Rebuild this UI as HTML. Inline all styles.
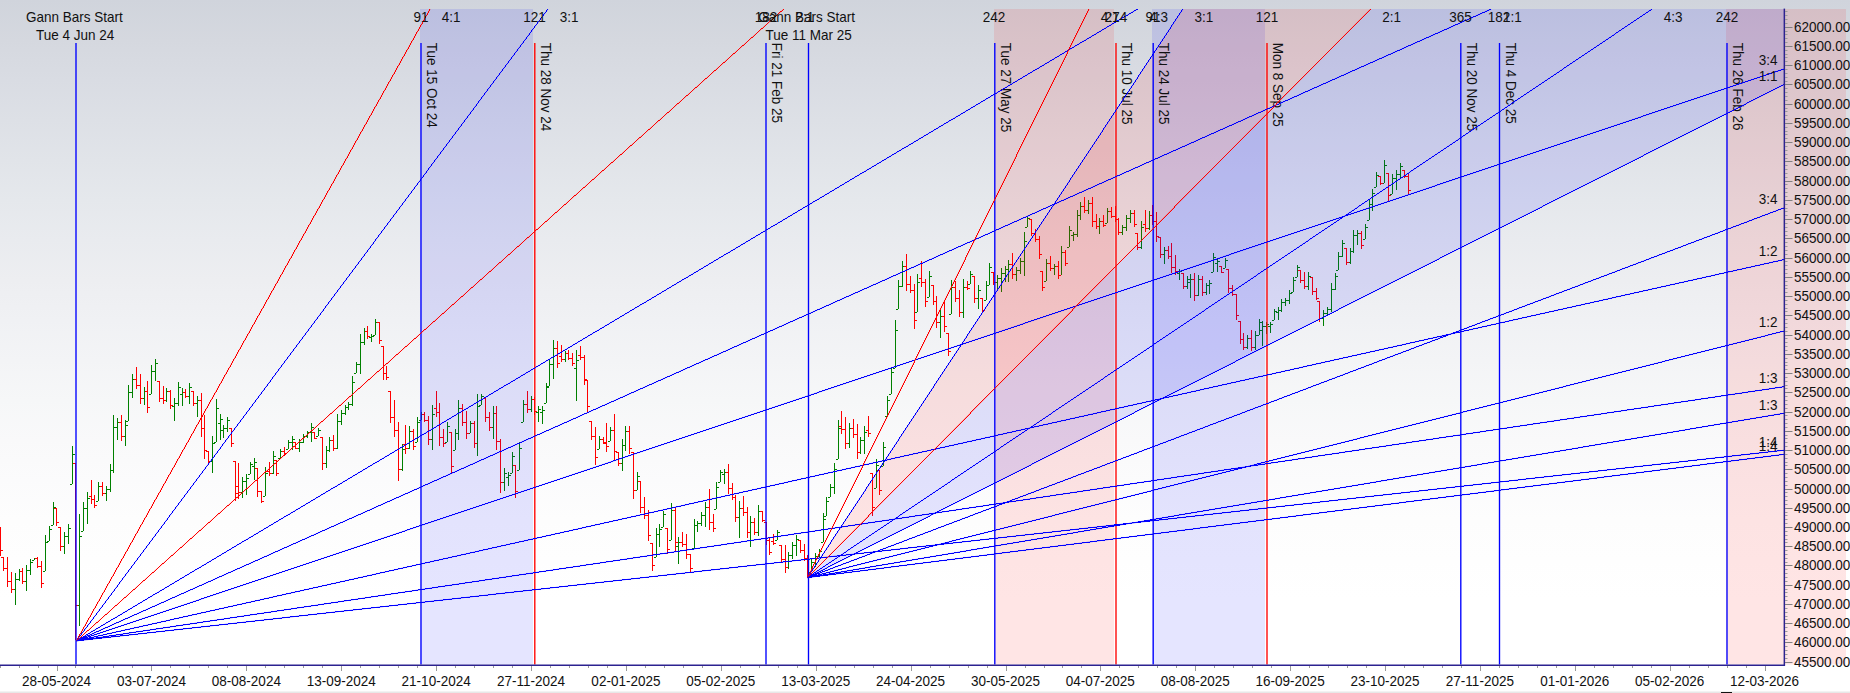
<!DOCTYPE html>
<html><head><meta charset="utf-8"><title>Gann chart</title>
<style>html,body{margin:0;padding:0;background:#fff;overflow:hidden}svg{display:block}</style>
</head><body>
<svg width="1850" height="693" viewBox="0 0 1850 693" font-family='"Liberation Sans", Arial, sans-serif' font-size="14" fill="#111">
<defs><linearGradient id="bg" x1="0" y1="0" x2="0" y2="1"><stop offset="0.0000" stop-color="rgb(208,212,220)"/><stop offset="0.0577" stop-color="rgb(213,216,223)"/><stop offset="0.1154" stop-color="rgb(217,220,227)"/><stop offset="0.1732" stop-color="rgb(221,224,230)"/><stop offset="0.2309" stop-color="rgb(225,228,233)"/><stop offset="0.2886" stop-color="rgb(229,232,236)"/><stop offset="0.3463" stop-color="rgb(233,235,239)"/><stop offset="0.4040" stop-color="rgb(237,238,241)"/><stop offset="0.4618" stop-color="rgb(240,241,244)"/><stop offset="0.5195" stop-color="rgb(243,244,246)"/><stop offset="0.5772" stop-color="rgb(246,247,248)"/><stop offset="0.6349" stop-color="rgb(249,249,250)"/><stop offset="0.6926" stop-color="rgb(251,251,252)"/><stop offset="0.7504" stop-color="rgb(253,253,253)"/><stop offset="0.8081" stop-color="rgb(254,254,254)"/><stop offset="0.8658" stop-color="rgb(255,255,255)"/><stop offset="1" stop-color="#ffffff"/></linearGradient><clipPath id="pc"><rect x="0" y="9" width="1784.5" height="655.5"/></clipPath></defs>
<rect x="0" y="0" width="1850" height="693" fill="url(#bg)"/>
<rect x="0" y="691.5" width="1850" height="1.5" fill="#e8e8e8"/>
<g shape-rendering="crispEdges"><path fill="#008000" d="M15 573h1v32h-1z M13 589h2v1h-2z M16 579h2v1h-2z M19 569h1v12h-1z M17 579h2v1h-2z M20 571h2v1h-2z M26 565h1v26h-1z M24 581h2v1h-2z M27 570h2v1h-2z M30 559h1v16h-1z M28 570h2v1h-2z M31 562h2v1h-2z M34 558h1v2h-1z M32 560h2v1h-2z M35 558h2v1h-2z M45 535h1v36h-1z M43 571h2v1h-2z M46 542h2v1h-2z M49 526h1v15h-1z M47 541h2v1h-2z M50 529h2v1h-2z M53 502h1v23h-1z M51 525h2v1h-2z M54 507h2v1h-2z M64 532h1v22h-1z M62 546h2v1h-2z M65 536h2v1h-2z M68 524h1v20h-1z M66 536h2v1h-2z M69 528h2v1h-2z M72 446h1v38h-1z M70 484h2v1h-2z M73 454h2v1h-2z M79 514h1v112h-1z M77 605h2v1h-2z M80 536h2v1h-2z M83 502h1v29h-1z M81 531h2v1h-2z M84 508h2v1h-2z M87 492h1v32h-1z M85 508h2v1h-2z M88 498h2v1h-2z M98 482h1v19h-1z M96 501h2v1h-2z M99 486h2v1h-2z M106 486h1v15h-1z M104 493h2v1h-2z M107 489h2v1h-2z M110 464h1v28h-1z M108 489h2v1h-2z M111 470h2v1h-2z M113 415h1v58h-1z M111 470h2v1h-2z M114 427h2v1h-2z M117 418h1v22h-1z M115 427h2v1h-2z M118 422h2v1h-2z M125 420h1v26h-1z M123 436h2v1h-2z M126 425h2v1h-2z M128 385h1v36h-1z M126 421h2v1h-2z M129 392h2v1h-2z M132 374h1v24h-1z M130 392h2v1h-2z M133 379h2v1h-2z M144 387h1v18h-1z M142 398h2v1h-2z M145 391h2v1h-2z M151 365h1v29h-1z M149 394h2v1h-2z M152 371h2v1h-2z M155 359h1v22h-1z M153 371h2v1h-2z M156 363h2v1h-2z M166 388h1v14h-1z M164 400h2v1h-2z M167 391h2v1h-2z M174 398h1v23h-1z M172 406h2v1h-2z M175 403h2v1h-2z M178 382h1v24h-1z M176 403h2v1h-2z M179 387h2v1h-2z M182 388h1v18h-1z M180 394h2v1h-2z M183 392h2v1h-2z M189 383h1v21h-1z M187 396h2v1h-2z M190 387h2v1h-2z M197 396h1v21h-1z M195 403h2v1h-2z M198 400h2v1h-2z M212 436h1v37h-1z M210 461h2v1h-2z M213 443h2v1h-2z M216 399h1v43h-1z M214 442h2v1h-2z M217 408h2v1h-2z M220 414h1v26h-1z M218 423h2v1h-2z M221 419h2v1h-2z M223 425h1v13h-1z M221 430h2v1h-2z M224 428h2v1h-2z M227 417h1v15h-1z M225 428h2v1h-2z M228 420h2v1h-2z M242 477h1v21h-1z M240 492h2v1h-2z M243 481h2v1h-2z M246 474h1v21h-1z M244 481h2v1h-2z M247 478h2v1h-2z M250 462h1v12h-1z M248 474h2v1h-2z M251 464h2v1h-2z M254 458h1v22h-1z M252 466h2v1h-2z M255 462h2v1h-2z M265 467h1v29h-1z M263 496h2v1h-2z M266 473h2v1h-2z M273 451h1v23h-1z M271 473h2v1h-2z M274 456h2v1h-2z M280 449h1v9h-1z M278 458h2v1h-2z M281 451h2v1h-2z M288 440h1v9h-1z M286 449h2v1h-2z M289 442h2v1h-2z M292 436h1v14h-1z M290 442h2v1h-2z M293 439h2v1h-2z M299 439h1v13h-1z M297 448h2v1h-2z M300 442h2v1h-2z M303 434h1v9h-1z M301 442h2v1h-2z M304 436h2v1h-2z M307 431h1v7h-1z M305 436h2v1h-2z M308 432h2v1h-2z M311 423h1v19h-1z M309 432h2v1h-2z M312 427h2v1h-2z M318 428h1v8h-1z M316 436h2v1h-2z M319 430h2v1h-2z M326 446h1v22h-1z M324 463h2v1h-2z M327 450h2v1h-2z M329 437h1v15h-1z M327 450h2v1h-2z M330 440h2v1h-2z M337 414h1v35h-1z M335 448h2v1h-2z M338 421h2v1h-2z M341 410h1v15h-1z M339 421h2v1h-2z M342 413h2v1h-2z M345 405h1v10h-1z M343 413h2v1h-2z M346 407h2v1h-2z M348 402h1v8h-1z M346 407h2v1h-2z M349 404h2v1h-2z M352 376h1v30h-1z M350 404h2v1h-2z M353 382h2v1h-2z M356 362h1v11h-1z M354 373h2v1h-2z M357 364h2v1h-2z M360 334h1v40h-1z M358 364h2v1h-2z M361 342h2v1h-2z M364 328h1v17h-1z M362 342h2v1h-2z M365 331h2v1h-2z M371 334h1v8h-1z M369 337h2v1h-2z M372 336h2v1h-2z M375 319h1v16h-1z M373 335h2v1h-2z M376 322h2v1h-2z M402 444h1v27h-1z M400 469h2v1h-2z M403 449h2v1h-2z M409 426h1v23h-1z M407 448h2v1h-2z M410 431h2v1h-2z M417 417h1v25h-1z M415 442h2v1h-2z M418 422h2v1h-2z M421 412h1v8h-1z M419 420h2v1h-2z M422 414h2v1h-2z M432 405h1v45h-1z M430 439h2v1h-2z M433 414h2v1h-2z M447 422h1v20h-1z M445 442h2v1h-2z M448 426h2v1h-2z M455 429h1v21h-1z M453 450h2v1h-2z M456 433h2v1h-2z M458 400h1v40h-1z M456 433h2v1h-2z M459 408h2v1h-2z M470 421h1v12h-1z M468 433h2v1h-2z M471 423h2v1h-2z M477 394h1v62h-1z M475 443h2v1h-2z M478 406h2v1h-2z M481 394h1v11h-1z M479 405h2v1h-2z M482 396h2v1h-2z M493 406h1v33h-1z M491 427h2v1h-2z M494 413h2v1h-2z M504 468h1v23h-1z M502 482h2v1h-2z M505 473h2v1h-2z M508 472h1v14h-1z M506 477h2v1h-2z M509 475h2v1h-2z M512 452h1v21h-1z M510 473h2v1h-2z M513 456h2v1h-2z M519 442h1v28h-1z M517 470h2v1h-2z M520 448h2v1h-2z M523 400h1v22h-1z M521 422h2v1h-2z M524 404h2v1h-2z M531 396h1v16h-1z M529 409h2v1h-2z M532 399h2v1h-2z M538 406h1v16h-1z M536 412h2v1h-2z M539 409h2v1h-2z M542 406h1v18h-1z M540 412h2v1h-2z M543 410h2v1h-2z M546 383h1v20h-1z M544 403h2v1h-2z M547 387h2v1h-2z M549 359h1v27h-1z M547 386h2v1h-2z M550 364h2v1h-2z M553 340h1v39h-1z M551 364h2v1h-2z M554 348h2v1h-2z M565 351h1v11h-1z M563 359h2v1h-2z M566 353h2v1h-2z M576 350h1v51h-1z M574 368h2v1h-2z M577 360h2v1h-2z M599 436h1v13h-1z M597 449h2v1h-2z M600 439h2v1h-2z M610 427h1v14h-1z M608 441h2v1h-2z M611 430h2v1h-2z M622 439h1v32h-1z M620 463h2v1h-2z M623 445h2v1h-2z M625 426h1v25h-1z M623 445h2v1h-2z M626 431h2v1h-2z M637 472h1v18h-1z M635 490h2v1h-2z M638 476h2v1h-2z M656 528h1v29h-1z M654 557h2v1h-2z M657 534h2v1h-2z M659 524h1v23h-1z M657 534h2v1h-2z M660 529h2v1h-2z M663 511h1v16h-1z M661 527h2v1h-2z M664 514h2v1h-2z M671 503h1v37h-1z M669 540h2v1h-2z M672 510h2v1h-2z M678 537h1v27h-1z M676 546h2v1h-2z M679 542h2v1h-2z M694 519h1v29h-1z M692 548h2v1h-2z M695 525h2v1h-2z M697 521h1v11h-1z M695 525h2v1h-2z M698 523h2v1h-2z M701 512h1v14h-1z M699 523h2v1h-2z M702 515h2v1h-2z M705 502h1v25h-1z M703 515h2v1h-2z M706 507h2v1h-2z M716 482h1v27h-1z M714 509h2v1h-2z M717 487h2v1h-2z M720 470h1v12h-1z M718 482h2v1h-2z M721 472h2v1h-2z M724 469h1v15h-1z M722 474h2v1h-2z M725 472h2v1h-2z M739 501h1v37h-1z M737 517h2v1h-2z M740 508h2v1h-2z M750 516h1v31h-1z M748 532h2v1h-2z M751 522h2v1h-2z M758 505h1v31h-1z M756 532h2v1h-2z M759 511h2v1h-2z M777 530h1v10h-1z M775 540h2v1h-2z M778 532h2v1h-2z M788 552h1v17h-1z M786 567h2v1h-2z M789 555h2v1h-2z M792 542h1v17h-1z M790 555h2v1h-2z M793 545h2v1h-2z M796 535h1v21h-1z M794 545h2v1h-2z M797 539h2v1h-2z M811 559h1v13h-1z M809 572h2v1h-2z M812 562h2v1h-2z M815 553h1v14h-1z M813 562h2v1h-2z M816 556h2v1h-2z M819 549h1v9h-1z M817 556h2v1h-2z M820 551h2v1h-2z M823 513h1v29h-1z M821 542h2v1h-2z M824 519h2v1h-2z M826 497h1v19h-1z M824 516h2v1h-2z M827 501h2v1h-2z M830 484h1v13h-1z M828 497h2v1h-2z M831 487h2v1h-2z M834 463h1v31h-1z M832 487h2v1h-2z M835 469h2v1h-2z M838 420h1v39h-1z M836 459h2v1h-2z M839 428h2v1h-2z M849 423h1v25h-1z M847 443h2v1h-2z M850 428h2v1h-2z M860 437h1v17h-1z M858 452h2v1h-2z M861 440h2v1h-2z M864 426h1v28h-1z M862 440h2v1h-2z M865 432h2v1h-2z M876 459h1v29h-1z M874 488h2v1h-2z M877 465h2v1h-2z M883 442h1v24h-1z M881 466h2v1h-2z M884 447h2v1h-2z M887 396h1v20h-1z M885 416h2v1h-2z M888 400h2v1h-2z M891 367h1v27h-1z M889 394h2v1h-2z M892 372h2v1h-2z M895 320h1v48h-1z M893 368h2v1h-2z M896 330h2v1h-2z M898 280h1v29h-1z M896 309h2v1h-2z M899 286h2v1h-2z M902 261h1v26h-1z M900 286h2v1h-2z M903 266h2v1h-2z M917 274h1v38h-1z M915 312h2v1h-2z M918 282h2v1h-2z M929 271h1v26h-1z M927 297h2v1h-2z M930 276h2v1h-2z M940 310h1v28h-1z M938 322h2v1h-2z M941 316h2v1h-2z M951 280h1v34h-1z M949 314h2v1h-2z M952 287h2v1h-2z M963 279h1v39h-1z M961 312h2v1h-2z M964 287h2v1h-2z M970 271h1v13h-1z M968 284h2v1h-2z M971 274h2v1h-2z M978 285h1v24h-1z M976 298h2v1h-2z M979 290h2v1h-2z M986 281h1v19h-1z M984 300h2v1h-2z M987 285h2v1h-2z M989 263h1v22h-1z M987 285h2v1h-2z M990 267h2v1h-2z M997 275h1v15h-1z M995 282h2v1h-2z M998 278h2v1h-2z M1001 268h1v24h-1z M999 278h2v1h-2z M1002 273h2v1h-2z M1005 266h1v16h-1z M1003 273h2v1h-2z M1006 269h2v1h-2z M1008 260h1v22h-1z M1006 269h2v1h-2z M1009 264h2v1h-2z M1016 267h1v14h-1z M1014 274h2v1h-2z M1017 270h2v1h-2z M1020 258h1v16h-1z M1018 270h2v1h-2z M1021 261h2v1h-2z M1024 232h1v44h-1z M1022 261h2v1h-2z M1025 241h2v1h-2z M1027 216h1v11h-1z M1025 227h2v1h-2z M1028 218h2v1h-2z M1046 259h1v22h-1z M1044 281h2v1h-2z M1047 263h2v1h-2z M1054 264h1v11h-1z M1052 268h2v1h-2z M1055 266h2v1h-2z M1061 246h1v29h-1z M1059 275h2v1h-2z M1062 252h2v1h-2z M1069 226h1v21h-1z M1067 247h2v1h-2z M1070 230h2v1h-2z M1073 232h1v9h-1z M1071 235h2v1h-2z M1074 234h2v1h-2z M1077 210h1v27h-1z M1075 234h2v1h-2z M1078 215h2v1h-2z M1080 202h1v18h-1z M1078 215h2v1h-2z M1081 206h2v1h-2z M1088 200h1v14h-1z M1086 210h2v1h-2z M1089 203h2v1h-2z M1099 218h1v16h-1z M1097 226h2v1h-2z M1100 221h2v1h-2z M1107 208h1v15h-1z M1105 223h2v1h-2z M1108 211h2v1h-2z M1122 225h1v10h-1z M1120 232h2v1h-2z M1123 227h2v1h-2z M1126 215h1v16h-1z M1124 227h2v1h-2z M1127 218h2v1h-2z M1130 210h1v13h-1z M1128 218h2v1h-2z M1131 213h2v1h-2z M1141 221h1v28h-1z M1139 247h2v1h-2z M1142 227h2v1h-2z M1149 211h1v19h-1z M1147 228h2v1h-2z M1150 215h2v1h-2z M1164 247h1v17h-1z M1162 254h2v1h-2z M1165 250h2v1h-2z M1179 269h1v11h-1z M1177 273h2v1h-2z M1180 271h2v1h-2z M1187 276h1v13h-1z M1185 286h2v1h-2z M1188 279h2v1h-2z M1190 274h1v24h-1z M1188 282h2v1h-2z M1191 279h2v1h-2z M1198 275h1v21h-1z M1196 295h2v1h-2z M1199 279h2v1h-2z M1206 283h1v12h-1z M1204 292h2v1h-2z M1207 285h2v1h-2z M1209 280h1v14h-1z M1207 285h2v1h-2z M1210 283h2v1h-2z M1213 253h1v19h-1z M1211 272h2v1h-2z M1214 257h2v1h-2z M1217 258h1v14h-1z M1215 263h2v1h-2z M1218 261h2v1h-2z M1225 258h1v10h-1z M1223 268h2v1h-2z M1226 260h2v1h-2z M1247 335h1v14h-1z M1245 347h2v1h-2z M1248 338h2v1h-2z M1255 331h1v19h-1z M1253 347h2v1h-2z M1256 335h2v1h-2z M1259 319h1v16h-1z M1257 335h2v1h-2z M1260 322h2v1h-2z M1262 321h1v25h-1z M1260 330h2v1h-2z M1263 326h2v1h-2z M1266 322h1v12h-1z M1264 326h2v1h-2z M1267 324h2v1h-2z M1270 322h1v11h-1z M1268 326h2v1h-2z M1271 324h2v1h-2z M1274 309h1v11h-1z M1272 320h2v1h-2z M1275 311h2v1h-2z M1278 307h1v13h-1z M1276 312h2v1h-2z M1279 310h2v1h-2z M1281 299h1v13h-1z M1279 310h2v1h-2z M1282 302h2v1h-2z M1285 298h1v8h-1z M1283 302h2v1h-2z M1286 300h2v1h-2z M1289 290h1v14h-1z M1287 300h2v1h-2z M1290 293h2v1h-2z M1293 277h1v15h-1z M1291 292h2v1h-2z M1294 280h2v1h-2z M1297 265h1v12h-1z M1295 277h2v1h-2z M1298 267h2v1h-2z M1308 272h1v18h-1z M1306 286h2v1h-2z M1309 276h2v1h-2z M1323 310h1v16h-1z M1321 318h2v1h-2z M1324 313h2v1h-2z M1327 307h1v9h-1z M1325 313h2v1h-2z M1328 309h2v1h-2z M1331 283h1v29h-1z M1329 309h2v1h-2z M1332 289h2v1h-2z M1335 273h1v17h-1z M1333 289h2v1h-2z M1336 276h2v1h-2z M1338 252h1v18h-1z M1336 270h2v1h-2z M1339 256h2v1h-2z M1342 240h1v17h-1z M1340 256h2v1h-2z M1343 243h2v1h-2z M1350 248h1v16h-1z M1348 262h2v1h-2z M1351 251h2v1h-2z M1353 230h1v23h-1z M1351 251h2v1h-2z M1354 235h2v1h-2z M1357 230h1v15h-1z M1355 235h2v1h-2z M1358 233h2v1h-2z M1365 224h1v15h-1z M1363 239h2v1h-2z M1366 227h2v1h-2z M1369 200h1v20h-1z M1367 220h2v1h-2z M1370 204h2v1h-2z M1372 189h1v22h-1z M1370 204h2v1h-2z M1373 193h2v1h-2z M1376 172h1v15h-1z M1374 187h2v1h-2z M1377 175h2v1h-2z M1384 160h1v23h-1z M1382 183h2v1h-2z M1385 165h2v1h-2z M1392 174h1v20h-1z M1390 194h2v1h-2z M1393 178h2v1h-2z M1396 170h1v20h-1z M1394 178h2v1h-2z M1397 174h2v1h-2z M1400 163h1v15h-1z M1398 174h2v1h-2z M1401 166h2v1h-2z"/><path fill="#ff0000" d="M0 527h1v29h-1z M-2 536h2v1h-2z M1 550h2v1h-2z M3 557h1v14h-1z M1 557h2v1h-2z M4 568h2v1h-2z M7 557h1v30h-1z M5 568h2v1h-2z M8 581h2v1h-2z M11 572h1v21h-1z M9 581h2v1h-2z M12 589h2v1h-2z M22 568h1v16h-1z M20 571h2v1h-2z M23 581h2v1h-2z M37 557h1v11h-1z M35 558h2v1h-2z M38 566h2v1h-2z M41 561h1v27h-1z M39 566h2v1h-2z M42 583h2v1h-2z M56 508h1v18h-1z M54 508h2v1h-2z M57 522h2v1h-2z M60 527h1v24h-1z M58 527h2v1h-2z M61 546h2v1h-2z M75 463h1v177h-1z M73 463h2v1h-2z M76 605h2v1h-2z M91 480h1v24h-1z M89 496h2v1h-2z M92 499h2v1h-2z M94 495h1v13h-1z M92 499h2v1h-2z M95 505h2v1h-2z M102 482h1v14h-1z M100 486h2v1h-2z M103 493h2v1h-2z M121 415h1v26h-1z M119 422h2v1h-2z M122 436h2v1h-2z M136 367h1v22h-1z M134 379h2v1h-2z M137 385h2v1h-2z M140 374h1v30h-1z M138 385h2v1h-2z M141 398h2v1h-2z M147 381h1v32h-1z M145 391h2v1h-2z M148 407h2v1h-2z M159 381h1v21h-1z M157 381h2v1h-2z M160 398h2v1h-2z M163 386h1v18h-1z M161 398h2v1h-2z M164 400h2v1h-2z M170 390h1v19h-1z M168 391h2v1h-2z M171 405h2v1h-2z M185 389h1v9h-1z M183 392h2v1h-2z M186 396h2v1h-2z M193 391h1v15h-1z M191 391h2v1h-2z M194 403h2v1h-2z M201 393h1v44h-1z M199 400h2v1h-2z M202 428h2v1h-2z M204 415h1v44h-1z M202 428h2v1h-2z M205 450h2v1h-2z M208 451h1v12h-1z M206 451h2v1h-2z M209 461h2v1h-2z M231 428h1v19h-1z M229 428h2v1h-2z M232 443h2v1h-2z M235 461h1v40h-1z M233 461h2v1h-2z M236 493h2v1h-2z M238 463h1v36h-1z M236 486h2v1h-2z M239 492h2v1h-2z M257 468h1v29h-1z M255 468h2v1h-2z M258 491h2v1h-2z M261 491h1v12h-1z M259 491h2v1h-2z M262 501h2v1h-2z M269 462h1v14h-1z M267 471h2v1h-2z M270 473h2v1h-2z M276 460h1v16h-1z M274 460h2v1h-2z M277 473h2v1h-2z M284 447h1v8h-1z M282 451h2v1h-2z M285 453h2v1h-2z M295 442h1v7h-1z M293 442h2v1h-2z M296 448h2v1h-2z M314 432h1v7h-1z M312 432h2v1h-2z M315 438h2v1h-2z M322 437h1v33h-1z M320 437h2v1h-2z M323 463h2v1h-2z M333 435h1v16h-1z M331 440h2v1h-2z M334 448h2v1h-2z M367 326h1v13h-1z M365 331h2v1h-2z M368 336h2v1h-2z M379 322h1v22h-1z M377 322h2v1h-2z M380 340h2v1h-2z M383 346h1v34h-1z M381 346h2v1h-2z M384 373h2v1h-2z M386 366h1v14h-1z M384 373h2v1h-2z M387 377h2v1h-2z M390 391h1v32h-1z M388 391h2v1h-2z M391 417h2v1h-2z M394 400h1v37h-1z M392 417h2v1h-2z M395 430h2v1h-2z M398 422h1v59h-1z M396 430h2v1h-2z M399 469h2v1h-2z M405 425h1v29h-1z M403 444h2v1h-2z M406 448h2v1h-2z M413 429h1v21h-1z M411 431h2v1h-2z M414 446h2v1h-2z M424 412h1v10h-1z M422 414h2v1h-2z M425 420h2v1h-2z M428 416h1v29h-1z M426 420h2v1h-2z M429 439h2v1h-2z M436 391h1v26h-1z M434 408h2v1h-2z M437 412h2v1h-2z M439 403h1v43h-1z M437 412h2v1h-2z M440 437h2v1h-2z M443 429h1v18h-1z M441 437h2v1h-2z M444 443h2v1h-2z M451 432h1v42h-1z M449 432h2v1h-2z M452 466h2v1h-2z M462 404h1v22h-1z M460 408h2v1h-2z M463 422h2v1h-2z M466 411h1v28h-1z M464 422h2v1h-2z M467 433h2v1h-2z M474 421h1v27h-1z M472 423h2v1h-2z M475 443h2v1h-2z M485 398h1v24h-1z M483 398h2v1h-2z M486 417h2v1h-2z M489 412h1v19h-1z M487 417h2v1h-2z M490 427h2v1h-2z M496 406h1v44h-1z M494 413h2v1h-2z M497 441h2v1h-2z M500 439h1v54h-1z M498 441h2v1h-2z M501 482h2v1h-2z M515 465h1v33h-1z M513 465h2v1h-2z M516 491h2v1h-2z M527 391h1v22h-1z M525 404h2v1h-2z M528 409h2v1h-2z M534 397h1v18h-1z M532 399h2v1h-2z M535 411h2v1h-2z M557 341h1v27h-1z M555 348h2v1h-2z M558 363h2v1h-2z M561 345h1v17h-1z M559 356h2v1h-2z M562 359h2v1h-2z M568 350h1v10h-1z M566 353h2v1h-2z M569 358h2v1h-2z M572 353h1v13h-1z M570 358h2v1h-2z M573 363h2v1h-2z M580 346h1v14h-1z M578 355h2v1h-2z M581 357h2v1h-2z M584 355h1v30h-1z M582 357h2v1h-2z M585 379h2v1h-2z M587 380h1v32h-1z M585 380h2v1h-2z M588 406h2v1h-2z M591 421h1v19h-1z M589 421h2v1h-2z M592 436h2v1h-2z M595 427h1v38h-1z M593 436h2v1h-2z M596 457h2v1h-2z M603 437h1v7h-1z M601 439h2v1h-2z M604 443h2v1h-2z M606 423h1v29h-1z M604 442h2v1h-2z M607 446h2v1h-2z M614 414h1v46h-1z M612 430h2v1h-2z M615 451h2v1h-2z M618 452h1v14h-1z M616 452h2v1h-2z M619 463h2v1h-2z M629 426h1v28h-1z M627 431h2v1h-2z M630 448h2v1h-2z M633 452h1v47h-1z M631 452h2v1h-2z M634 490h2v1h-2z M640 481h1v32h-1z M638 481h2v1h-2z M641 507h2v1h-2z M644 497h1v22h-1z M642 507h2v1h-2z M645 515h2v1h-2z M648 510h1v31h-1z M646 515h2v1h-2z M649 535h2v1h-2z M652 543h1v28h-1z M650 543h2v1h-2z M653 565h2v1h-2z M667 528h1v26h-1z M665 528h2v1h-2z M668 549h2v1h-2z M675 508h1v43h-1z M673 510h2v1h-2z M676 542h2v1h-2z M682 532h1v15h-1z M680 542h2v1h-2z M683 544h2v1h-2z M686 534h1v25h-1z M684 544h2v1h-2z M687 554h2v1h-2z M690 554h1v18h-1z M688 554h2v1h-2z M691 568h2v1h-2z M709 489h1v41h-1z M707 507h2v1h-2z M710 522h2v1h-2z M713 514h1v18h-1z M711 522h2v1h-2z M714 528h2v1h-2z M728 464h1v30h-1z M726 472h2v1h-2z M729 488h2v1h-2z M732 483h1v17h-1z M730 488h2v1h-2z M733 497h2v1h-2z M735 495h1v27h-1z M733 497h2v1h-2z M736 517h2v1h-2z M743 496h1v20h-1z M741 508h2v1h-2z M744 512h2v1h-2z M747 507h1v31h-1z M745 512h2v1h-2z M748 532h2v1h-2z M754 518h1v17h-1z M752 522h2v1h-2z M755 532h2v1h-2z M762 511h1v11h-1z M760 511h2v1h-2z M763 520h2v1h-2z M766 522h1v23h-1z M764 522h2v1h-2z M767 540h2v1h-2z M769 538h1v17h-1z M767 540h2v1h-2z M770 552h2v1h-2z M773 534h1v11h-1z M771 541h2v1h-2z M774 543h2v1h-2z M781 545h1v17h-1z M779 545h2v1h-2z M782 559h2v1h-2z M785 545h1v28h-1z M783 559h2v1h-2z M786 567h2v1h-2z M800 540h1v13h-1z M798 540h2v1h-2z M801 550h2v1h-2z M804 544h1v17h-1z M802 550h2v1h-2z M805 558h2v1h-2z M807 555h1v23h-1z M805 558h2v1h-2z M808 573h2v1h-2z M841 411h1v23h-1z M839 426h2v1h-2z M842 429h2v1h-2z M845 417h1v32h-1z M843 429h2v1h-2z M846 443h2v1h-2z M853 419h1v19h-1z M851 428h2v1h-2z M854 434h2v1h-2z M857 424h1v35h-1z M855 434h2v1h-2z M858 452h2v1h-2z M868 416h1v21h-1z M866 430h2v1h-2z M869 433h2v1h-2z M872 473h1v43h-1z M870 473h2v1h-2z M873 507h2v1h-2z M879 470h1v25h-1z M877 470h2v1h-2z M880 490h2v1h-2z M906 254h1v37h-1z M904 266h2v1h-2z M907 284h2v1h-2z M910 276h1v17h-1z M908 284h2v1h-2z M911 290h2v1h-2z M914 284h1v45h-1z M912 290h2v1h-2z M915 320h2v1h-2z M921 261h1v26h-1z M919 278h2v1h-2z M922 282h2v1h-2z M925 279h1v28h-1z M923 282h2v1h-2z M926 301h2v1h-2z M933 285h1v20h-1z M931 285h2v1h-2z M934 301h2v1h-2z M936 296h1v32h-1z M934 301h2v1h-2z M937 322h2v1h-2z M944 302h1v30h-1z M942 316h2v1h-2z M945 326h2v1h-2z M948 333h1v23h-1z M946 333h2v1h-2z M949 351h2v1h-2z M955 281h1v21h-1z M953 287h2v1h-2z M956 298h2v1h-2z M959 290h1v27h-1z M957 298h2v1h-2z M960 312h2v1h-2z M967 281h1v9h-1z M965 287h2v1h-2z M968 288h2v1h-2z M974 276h1v27h-1z M972 276h2v1h-2z M975 298h2v1h-2z M982 298h1v15h-1z M980 298h2v1h-2z M983 310h2v1h-2z M993 272h1v13h-1z M991 272h2v1h-2z M994 282h2v1h-2z M1012 253h1v26h-1z M1010 264h2v1h-2z M1013 274h2v1h-2z M1031 219h1v17h-1z M1029 219h2v1h-2z M1032 233h2v1h-2z M1035 229h1v13h-1z M1033 233h2v1h-2z M1036 239h2v1h-2z M1039 236h1v23h-1z M1037 239h2v1h-2z M1040 254h2v1h-2z M1042 271h1v20h-1z M1040 271h2v1h-2z M1043 287h2v1h-2z M1050 256h1v15h-1z M1048 263h2v1h-2z M1051 268h2v1h-2z M1058 261h1v18h-1z M1056 266h2v1h-2z M1059 275h2v1h-2z M1065 250h1v16h-1z M1063 252h2v1h-2z M1066 263h2v1h-2z M1084 197h1v16h-1z M1082 206h2v1h-2z M1085 210h2v1h-2z M1092 197h1v30h-1z M1090 203h2v1h-2z M1093 221h2v1h-2z M1096 214h1v15h-1z M1094 221h2v1h-2z M1097 226h2v1h-2z M1103 215h1v12h-1z M1101 221h2v1h-2z M1104 225h2v1h-2z M1111 207h1v11h-1z M1109 211h2v1h-2z M1112 216h2v1h-2z M1115 206h1v16h-1z M1113 216h2v1h-2z M1116 219h2v1h-2z M1118 218h1v17h-1z M1116 219h2v1h-2z M1119 232h2v1h-2z M1134 210h1v17h-1z M1132 213h2v1h-2z M1135 224h2v1h-2z M1137 233h1v17h-1z M1135 233h2v1h-2z M1138 247h2v1h-2z M1145 210h1v22h-1z M1143 224h2v1h-2z M1146 228h2v1h-2z M1152 205h1v20h-1z M1150 215h2v1h-2z M1153 221h2v1h-2z M1156 212h1v30h-1z M1154 221h2v1h-2z M1157 236h2v1h-2z M1160 237h1v21h-1z M1158 237h2v1h-2z M1161 254h2v1h-2z M1168 246h1v13h-1z M1166 250h2v1h-2z M1169 256h2v1h-2z M1171 243h1v30h-1z M1169 256h2v1h-2z M1172 267h2v1h-2z M1175 255h1v20h-1z M1173 267h2v1h-2z M1176 271h2v1h-2z M1183 273h1v16h-1z M1181 273h2v1h-2z M1184 286h2v1h-2z M1194 273h1v28h-1z M1192 279h2v1h-2z M1195 295h2v1h-2z M1202 276h1v20h-1z M1200 279h2v1h-2z M1203 292h2v1h-2z M1221 266h1v7h-1z M1219 266h2v1h-2z M1222 272h2v1h-2z M1228 269h1v24h-1z M1226 269h2v1h-2z M1229 288h2v1h-2z M1232 285h1v11h-1z M1230 288h2v1h-2z M1233 294h2v1h-2z M1236 294h1v26h-1z M1234 294h2v1h-2z M1237 315h2v1h-2z M1240 321h1v23h-1z M1238 321h2v1h-2z M1241 339h2v1h-2z M1243 333h1v17h-1z M1241 339h2v1h-2z M1244 347h2v1h-2z M1251 330h1v21h-1z M1249 338h2v1h-2z M1252 347h2v1h-2z M1300 270h1v13h-1z M1298 270h2v1h-2z M1301 280h2v1h-2z M1304 272h1v17h-1z M1302 280h2v1h-2z M1305 286h2v1h-2z M1312 277h1v18h-1z M1310 277h2v1h-2z M1313 291h2v1h-2z M1316 288h1v12h-1z M1314 291h2v1h-2z M1317 298h2v1h-2z M1319 301h1v21h-1z M1317 301h2v1h-2z M1320 318h2v1h-2z M1346 248h1v17h-1z M1344 248h2v1h-2z M1347 262h2v1h-2z M1361 231h1v18h-1z M1359 233h2v1h-2z M1362 245h2v1h-2z M1380 176h1v9h-1z M1378 176h2v1h-2z M1381 183h2v1h-2z M1388 173h1v28h-1z M1386 173h2v1h-2z M1389 195h2v1h-2z M1404 170h1v8h-1z M1402 170h2v1h-2z M1405 176h2v1h-2z M1408 173h1v21h-1z M1406 176h2v1h-2z M1409 190h2v1h-2z"/></g>
<rect x="420" y="9" width="113" height="655.5" fill="rgba(0,0,255,0.10)"/>
<rect x="994" y="9" width="120" height="655.5" fill="rgba(255,0,0,0.10)"/>
<rect x="1152" y="9" width="113" height="655.5" fill="rgba(0,0,255,0.10)"/>
<rect x="1726" y="9" width="120" height="655.5" fill="rgba(255,0,0,0.10)"/>
<g clip-path="url(#pc)">
<polygon points="807.50,577.60 1182.89,9.00 1370.58,9.00" fill="rgba(255,0,0,0.10)"/>
<polygon points="807.50,577.60 1370.58,9.00 1784.50,9.00 1784.50,84.31" fill="rgba(0,0,255,0.10)"/>
</g>
<rect x="75.325" y="43" width="1.35" height="621.5" fill="#0000ff"/>
<rect x="420.325" y="43" width="1.35" height="621.5" fill="#0000ff"/>
<text transform="translate(427.20,42.80) rotate(90) scale(0.965,1)">Tue 15 Oct 24</text>
<rect x="534.125" y="43" width="1.35" height="621.5" fill="#ff0000"/>
<text transform="translate(541.20,42.80) rotate(90) scale(0.965,1)">Thu 28 Nov 24</text>
<rect x="765.325" y="43" width="1.35" height="621.5" fill="#0000ff"/>
<text transform="translate(772.20,42.80) rotate(90) scale(0.965,1)">Fri 21 Feb 25</text>
<rect x="807.825" y="43" width="1.35" height="621.5" fill="#0000ff"/>
<rect x="994.125" y="43" width="1.35" height="621.5" fill="#0000ff"/>
<text transform="translate(1001.20,42.80) rotate(90) scale(0.965,1)">Tue 27 May 25</text>
<rect x="1115.325" y="43" width="1.35" height="621.5" fill="#ff0000"/>
<text transform="translate(1122.20,42.80) rotate(90) scale(0.965,1)">Thu 10 Jul 25</text>
<rect x="1152.525" y="43" width="1.35" height="621.5" fill="#0000ff"/>
<text transform="translate(1159.20,42.80) rotate(90) scale(0.965,1)">Thu 24 Jul 25</text>
<rect x="1266.325" y="43" width="1.35" height="621.5" fill="#ff0000"/>
<text transform="translate(1273.20,42.80) rotate(90) scale(0.965,1)">Mon 8 Sep 25</text>
<rect x="1460.125" y="43" width="1.35" height="621.5" fill="#0000ff"/>
<text transform="translate(1467.20,42.80) rotate(90) scale(0.965,1)">Thu 20 Nov 25</text>
<rect x="1498.825" y="43" width="1.35" height="621.5" fill="#0000ff"/>
<text transform="translate(1506.20,42.80) rotate(90) scale(0.965,1)">Thu 4 Dec 25</text>
<rect x="1726.325" y="43" width="1.35" height="621.5" fill="#0000ff"/>
<text transform="translate(1733.20,42.80) rotate(90) scale(0.965,1)">Thu 26 Feb 26</text>
<g fill="none" stroke-width="1" shape-rendering="crispEdges">
<path stroke="#0000ff" d="M76.5 640v1m1 -2v1m1 -3v2m1 -3v1m1 -2v1m1 -3v2m1 -3v1m1 -2v1m1 -3v2m1 -3v1m1 -2v1m1 -3v2m1 -3v1m1 -2v1m1 -3v2m1 -3v1m1 -2v1m1 -3v2m1 -3v1m1 -2v1m1 -3v2m1 -3v1m1 -2v1m1 -3v2m1 -3v1m1 -2v1m1 -3v2m1 -3v1m1 -2v1m1 -3v2m1 -3v1m1 -2v1m1 -3v2m1 -3v1m1 -2v1m1 -3v2m1 -3v1m1 -2v1m1 -3v2m1 -3v1m1 -2v1m1 -3v2m1 -3v1m1 -3v2m1 -3v1m1 -2v1m1 -3v2m1 -3v1m1 -2v1m1 -3v2m1 -3v1m1 -2v1m1 -3v2m1 -3v1m1 -2v1m1 -3v2m1 -3v1m1 -2v1m1 -3v2m1 -3v1m1 -2v1m1 -3v2m1 -3v1m1 -2v1m1 -3v2m1 -3v1m1 -2v1m1 -3v2m1 -3v1m1 -2v1m1 -3v2m1 -3v1m1 -2v1m1 -3v2m1 -3v1m1 -2v1m1 -3v2m1 -3v1m1 -2v1m1 -3v2m1 -3v1m1 -2v1m1 -3v2m1 -3v1m1 -2v1m1 -3v2m1 -3v1m1 -2v1m1 -3v2m1 -3v1m1 -2v1m1 -3v2m1 -3v1m1 -3v2m1 -3v1m1 -2v1m1 -3v2m1 -3v1m1 -2v1m1 -3v2m1 -3v1m1 -2v1m1 -3v2m1 -3v1m1 -2v1m1 -3v2m1 -3v1m1 -2v1m1 -3v2m1 -3v1m1 -2v1m1 -3v2m1 -3v1m1 -2v1m1 -3v2m1 -3v1m1 -2v1m1 -3v2m1 -3v1m1 -2v1m1 -3v2m1 -3v1m1 -2v1m1 -3v2m1 -3v1m1 -2v1m1 -3v2m1 -3v1m1 -2v1m1 -3v2m1 -3v1m1 -2v1m1 -3v2m1 -3v1m1 -2v1m1 -3v2m1 -3v1m1 -2v1m1 -3v2m1 -3v1m1 -2v1m1 -3v2m1 -3v1m1 -2v1m1 -3v2m1 -3v1m1 -3v2m1 -3v1m1 -2v1m1 -3v2m1 -3v1m1 -2v1m1 -3v2m1 -3v1m1 -2v1m1 -3v2m1 -3v1m1 -2v1m1 -3v2m1 -3v1m1 -2v1m1 -3v2m1 -3v1m1 -2v1m1 -3v2m1 -3v1m1 -2v1m1 -3v2m1 -3v1m1 -2v1m1 -3v2m1 -3v1m1 -2v1m1 -3v2m1 -3v1m1 -2v1m1 -3v2m1 -3v1m1 -2v1m1 -3v2m1 -3v1m1 -2v1m1 -3v2m1 -3v1m1 -2v1m1 -3v2m1 -3v1m1 -2v1m1 -3v2m1 -3v1m1 -2v1m1 -3v2m1 -3v1m1 -2v1m1 -3v2m1 -3v1m1 -3v2m1 -3v1m1 -2v1m1 -3v2m1 -3v1m1 -2v1m1 -3v2m1 -3v1m1 -2v1m1 -3v2m1 -3v1m1 -2v1m1 -3v2m1 -3v1m1 -2v1m1 -3v2m1 -3v1m1 -2v1m1 -3v2m1 -3v1m1 -2v1m1 -3v2m1 -3v1m1 -2v1m1 -3v2m1 -3v1m1 -2v1m1 -3v2m1 -3v1m1 -2v1m1 -3v2m1 -3v1m1 -2v1m1 -3v2m1 -3v1m1 -2v1m1 -3v2m1 -3v1m1 -2v1m1 -3v2m1 -3v1m1 -2v1m1 -3v2m1 -3v1m1 -2v1m1 -3v2m1 -3v1m1 -2v1m1 -3v2m1 -3v1m1 -2v1m1 -3v2m1 -3v1m1 -3v2m1 -3v1m1 -2v1m1 -3v2m1 -3v1m1 -2v1m1 -3v2m1 -3v1m1 -2v1m1 -3v2m1 -3v1m1 -2v1m1 -3v2m1 -3v1m1 -2v1m1 -3v2m1 -3v1m1 -2v1m1 -3v2m1 -3v1m1 -2v1m1 -3v2m1 -3v1m1 -2v1m1 -3v2m1 -3v1m1 -2v1m1 -3v2m1 -3v1m1 -2v1m1 -3v2m1 -3v1m1 -2v1m1 -3v2m1 -3v1m1 -2v1m1 -3v2m1 -3v1m1 -2v1m1 -3v2m1 -3v1m1 -2v1m1 -3v2m1 -3v1m1 -2v1m1 -3v2m1 -3v1m1 -2v1m1 -3v2m1 -3v1m1 -3v2m1 -3v1m1 -2v1m1 -3v2m1 -3v1m1 -2v1m1 -3v2m1 -3v1m1 -2v1m1 -3v2m1 -3v1m1 -2v1m1 -3v2m1 -3v1m1 -2v1m1 -3v2m1 -3v1m1 -2v1m1 -3v2m1 -3v1m1 -2v1m1 -3v2m1 -3v1m1 -2v1m1 -3v2m1 -3v1m1 -2v1m1 -3v2m1 -3v1m1 -2v1m1 -3v2m1 -3v1m1 -2v1m1 -3v2m1 -3v1m1 -2v1m1 -3v2m1 -3v1m1 -2v1m1 -3v2m1 -3v1m1 -2v1m1 -3v2m1 -3v1m1 -2v1m1 -3v2m1 -3v1m1 -2v1m1 -3v2m1 -3v1m1 -2v1m1 -3v2m1 -3v1m1 -3v2m1 -3v1m1 -2v1m1 -3v2m1 -3v1m1 -2v1m1 -3v2m1 -3v1m1 -2v1m1 -3v2m1 -3v1m1 -2v1m1 -3v2m1 -3v1m1 -2v1m1 -3v2m1 -3v1m1 -2v1m1 -3v2m1 -3v1m1 -2v1m1 -3v2m1 -3v1m1 -2v1m1 -3v2m1 -3v1m1 -2v1m1 -3v2m1 -3v1m1 -2v1m1 -3v2m1 -3v1m1 -2v1m1 -3v2m1 -3v1m1 -2v1m1 -3v2m1 -3v1m1 -2v1m1 -3v2m1 -3v1m1 -2v1m1 -3v2m1 -3v1m1 -2v1m1 -3v2m1 -3v1m1 -2v1m1 -3v2m1 -3v1m1 -3v2m1 -3v1m1 -2v1m1 -3v2m1 -3v1m1 -2v1m1 -3v2m1 -3v1m1 -2v1m1 -3v2m1 -3v1m1 -2v1m1 -3v2m1 -3v1m1 -2v1m1 -3v2m1 -3v1m1 -2v1m1 -3v2m1 -3v1m1 -2v1m1 -3v2m1 -3v1m1 -2v1m1 -3v2m1 -3v1m1 -2v1m1 -3v2m1 -3v1m1 -2v1m1 -3v2m1 -3v1m1 -2v1m1 -3v2m1 -3v1m1 -2v1m1 -3v2m1 -3v1m1 -2v1m1 -3v2m1 -3v1m1 -2v1m1 -3v2m1 -3v1m1 -2v1m1 -3v2m1 -3v1m1 -2v1m1 -3v2m1 -3v1m1 -2v1m1 -3v2m1 -3v1m1 -3v2m1 -3v1m1 -2v1m1 -3v2m1 -3v1m1 -2v1m1 -3v2m1 -3v1m1 -2v1m1 -3v2m1 -3v1m1 -2v1m1 -3v2m1 -3v1m1 -2v1m1 -3v2m1 -3v1M76 640.5h2m0 -1h2m0 -1h1m0 -1h2m0 -1h2m0 -1h1m0 -1h2m0 -1h2m0 -1h1m0 -1h2m0 -1h2m0 -1h1m0 -1h2m0 -1h2m0 -1h1m0 -1h2m0 -1h2m0 -1h1m0 -1h2m0 -1h2m0 -1h1m0 -1h2m0 -1h2m0 -1h2m0 -1h1m0 -1h2m0 -1h2m0 -1h1m0 -1h2m0 -1h2m0 -1h1m0 -1h2m0 -1h2m0 -1h1m0 -1h2m0 -1h2m0 -1h1m0 -1h2m0 -1h2m0 -1h1m0 -1h2m0 -1h2m0 -1h1m0 -1h2m0 -1h2m0 -1h1m0 -1h2m0 -1h2m0 -1h2m0 -1h1m0 -1h2m0 -1h2m0 -1h1m0 -1h2m0 -1h2m0 -1h1m0 -1h2m0 -1h2m0 -1h1m0 -1h2m0 -1h2m0 -1h1m0 -1h2m0 -1h2m0 -1h1m0 -1h2m0 -1h2m0 -1h1m0 -1h2m0 -1h2m0 -1h1m0 -1h2m0 -1h2m0 -1h2m0 -1h1m0 -1h2m0 -1h2m0 -1h1m0 -1h2m0 -1h2m0 -1h1m0 -1h2m0 -1h2m0 -1h1m0 -1h2m0 -1h2m0 -1h1m0 -1h2m0 -1h2m0 -1h1m0 -1h2m0 -1h2m0 -1h1m0 -1h2m0 -1h2m0 -1h1m0 -1h2m0 -1h2m0 -1h1m0 -1h2m0 -1h2m0 -1h2m0 -1h1m0 -1h2m0 -1h2m0 -1h1m0 -1h2m0 -1h2m0 -1h1m0 -1h2m0 -1h2m0 -1h1m0 -1h2m0 -1h2m0 -1h1m0 -1h2m0 -1h2m0 -1h1m0 -1h2m0 -1h2m0 -1h1m0 -1h2m0 -1h2m0 -1h1m0 -1h2m0 -1h2m0 -1h2m0 -1h1m0 -1h2m0 -1h2m0 -1h1m0 -1h2m0 -1h2m0 -1h1m0 -1h2m0 -1h2m0 -1h1m0 -1h2m0 -1h2m0 -1h1m0 -1h2m0 -1h2m0 -1h1m0 -1h2m0 -1h2m0 -1h1m0 -1h2m0 -1h2m0 -1h1m0 -1h2m0 -1h2m0 -1h1m0 -1h2m0 -1h2m0 -1h2m0 -1h1m0 -1h2m0 -1h2m0 -1h1m0 -1h2m0 -1h2m0 -1h1m0 -1h2m0 -1h2m0 -1h1m0 -1h2m0 -1h2m0 -1h1m0 -1h2m0 -1h2m0 -1h1m0 -1h2m0 -1h2m0 -1h1m0 -1h2m0 -1h2m0 -1h1m0 -1h2m0 -1h2m0 -1h2m0 -1h1m0 -1h2m0 -1h2m0 -1h1m0 -1h2m0 -1h2m0 -1h1m0 -1h2m0 -1h2m0 -1h1m0 -1h2m0 -1h2m0 -1h1m0 -1h2m0 -1h2m0 -1h1m0 -1h2m0 -1h2m0 -1h1m0 -1h2m0 -1h2m0 -1h1m0 -1h2m0 -1h2m0 -1h1m0 -1h2m0 -1h2m0 -1h2m0 -1h1m0 -1h2m0 -1h2m0 -1h1m0 -1h2m0 -1h2m0 -1h1m0 -1h2m0 -1h2m0 -1h1m0 -1h2m0 -1h2m0 -1h1m0 -1h2m0 -1h2m0 -1h1m0 -1h2m0 -1h2m0 -1h1m0 -1h2m0 -1h2m0 -1h1m0 -1h2m0 -1h2m0 -1h2m0 -1h1m0 -1h2m0 -1h2m0 -1h1m0 -1h2m0 -1h2m0 -1h1m0 -1h2m0 -1h2m0 -1h1m0 -1h2m0 -1h2m0 -1h1m0 -1h2m0 -1h2m0 -1h1m0 -1h2m0 -1h2m0 -1h1m0 -1h2m0 -1h2m0 -1h1m0 -1h2m0 -1h2m0 -1h2m0 -1h1m0 -1h2m0 -1h2m0 -1h1m0 -1h2m0 -1h2m0 -1h1m0 -1h2m0 -1h2m0 -1h1m0 -1h2m0 -1h2m0 -1h1m0 -1h2m0 -1h2m0 -1h1m0 -1h2m0 -1h2m0 -1h1m0 -1h2m0 -1h2m0 -1h1m0 -1h2m0 -1h2m0 -1h1m0 -1h2m0 -1h2m0 -1h2m0 -1h1m0 -1h2m0 -1h2m0 -1h1m0 -1h2m0 -1h2m0 -1h1m0 -1h2m0 -1h2m0 -1h1m0 -1h2m0 -1h2m0 -1h1m0 -1h2m0 -1h2m0 -1h1m0 -1h2m0 -1h2m0 -1h1m0 -1h2m0 -1h2m0 -1h1m0 -1h2m0 -1h2m0 -1h2m0 -1h1m0 -1h2m0 -1h2m0 -1h1m0 -1h2m0 -1h2m0 -1h1m0 -1h2m0 -1h2m0 -1h1m0 -1h2m0 -1h2m0 -1h1m0 -1h2m0 -1h2m0 -1h1m0 -1h2m0 -1h2m0 -1h1m0 -1h2m0 -1h2m0 -1h1m0 -1h2m0 -1h2m0 -1h1m0 -1h2m0 -1h2m0 -1h2m0 -1h1m0 -1h2m0 -1h2m0 -1h1m0 -1h2m0 -1h2m0 -1h1m0 -1h2m0 -1h2m0 -1h1m0 -1h2m0 -1h2m0 -1h1m0 -1h2m0 -1h2m0 -1h1m0 -1h2m0 -1h2m0 -1h1m0 -1h2m0 -1h2m0 -1h1m0 -1h2m0 -1h2m0 -1h2m0 -1h1m0 -1h2m0 -1h2m0 -1h1m0 -1h2m0 -1h2m0 -1h1m0 -1h2m0 -1h2m0 -1h1m0 -1h2m0 -1h2m0 -1h1m0 -1h2m0 -1h2m0 -1h1m0 -1h2m0 -1h2m0 -1h1m0 -1h2m0 -1h2m0 -1h1m0 -1h2m0 -1h2m0 -1h2m0 -1h1m0 -1h2m0 -1h2m0 -1h1m0 -1h2m0 -1h2m0 -1h1m0 -1h2m0 -1h2m0 -1h1m0 -1h2m0 -1h2m0 -1h1m0 -1h2m0 -1h2m0 -1h1m0 -1h2m0 -1h2m0 -1h1m0 -1h2m0 -1h2m0 -1h1m0 -1h2m0 -1h2m0 -1h1m0 -1h2m0 -1h2m0 -1h2m0 -1h1m0 -1h2m0 -1h2m0 -1h1m0 -1h2m0 -1h2m0 -1h1m0 -1h2m0 -1h2m0 -1h1m0 -1h2m0 -1h2m0 -1h1m0 -1h2m0 -1h2m0 -1h1m0 -1h2m0 -1h2m0 -1h1m0 -1h2m0 -1h2m0 -1h1m0 -1h2m0 -1h2m0 -1h2m0 -1h1m0 -1h2m0 -1h2m0 -1h1m0 -1h2m0 -1h2m0 -1h1m0 -1h2m0 -1h2m0 -1h1m0 -1h2m0 -1h2m0 -1h1m0 -1h2m0 -1h2m0 -1h1m0 -1h2m0 -1h2m0 -1h1m0 -1h2m0 -1h2m0 -1h1m0 -1h2m0 -1h2m0 -1h1m0 -1h2m0 -1h2m0 -1h2m0 -1h1m0 -1h2m0 -1h2m0 -1h1m0 -1h2m0 -1h2m0 -1h1m0 -1h2m0 -1h2m0 -1h1m0 -1h2m0 -1h2m0 -1h1m0 -1h2m0 -1h2m0 -1h1m0 -1h2m0 -1h2m0 -1h1m0 -1h2m0 -1h2m0 -1h1m0 -1h2m0 -1h2m0 -1h2m0 -1h1m0 -1h2m0 -1h2m0 -1h1m0 -1h2m0 -1h2m0 -1h1m0 -1h2m0 -1h2m0 -1h1m0 -1h2m0 -1h2m0 -1h1m0 -1h2m0 -1h2m0 -1h1m0 -1h2m0 -1h2m0 -1h1m0 -1h2m0 -1h2m0 -1h1m0 -1h2m0 -1h2m0 -1h1m0 -1h2m0 -1h2m0 -1h2m0 -1h1m0 -1h2m0 -1h2m0 -1h1m0 -1h2m0 -1h2m0 -1h1m0 -1h2m0 -1h2m0 -1h1m0 -1h2m0 -1h2m0 -1h1m0 -1h2m0 -1h2m0 -1h1m0 -1h2m0 -1h2m0 -1h1m0 -1h2m0 -1h2m0 -1h1m0 -1h2m0 -1h2m0 -1h2m0 -1h1m0 -1h2m0 -1h2m0 -1h1m0 -1h2m0 -1h2m0 -1h1m0 -1h2m0 -1h2m0 -1h1m0 -1h2m0 -1h2m0 -1h1m0 -1h2m0 -1h2m0 -1h1m0 -1h2m0 -1h2m0 -1h1m0 -1h2m0 -1h2m0 -1h1m0 -1h2m0 -1h2m0 -1h2m0 -1h1m0 -1h2m0 -1h2m0 -1h1m0 -1h2m0 -1h2m0 -1h1m0 -1h2m0 -1h2m0 -1h1m0 -1h2m0 -1h2m0 -1h1m0 -1h2m0 -1h2m0 -1h1m0 -1h2m0 -1h2m0 -1h1m0 -1h2m0 -1h2m0 -1h1m0 -1h2m0 -1h2m0 -1h1m0 -1h2m0 -1h2m0 -1h2m0 -1h1m0 -1h2m0 -1h2m0 -1h1m0 -1h2m0 -1h2m0 -1h1m0 -1h2m0 -1h2m0 -1h1m0 -1h2m0 -1h2m0 -1h1m0 -1h2m0 -1h2m0 -1h1m0 -1h2m0 -1h2m0 -1h1m0 -1h2m0 -1h2m0 -1h1m0 -1h2m0 -1h2m0 -1h2m0 -1h1m0 -1h2m0 -1h2m0 -1h1m0 -1h2m0 -1h2M76 640.5h2m0 -1h3m0 -1h2m0 -1h2m0 -1h2m0 -1h3m0 -1h2m0 -1h2m0 -1h2m0 -1h3m0 -1h2m0 -1h2m0 -1h2m0 -1h3m0 -1h2m0 -1h2m0 -1h2m0 -1h2m0 -1h3m0 -1h2m0 -1h2m0 -1h2m0 -1h3m0 -1h2m0 -1h2m0 -1h2m0 -1h3m0 -1h2m0 -1h2m0 -1h2m0 -1h3m0 -1h2m0 -1h2m0 -1h2m0 -1h3m0 -1h2m0 -1h2m0 -1h2m0 -1h3m0 -1h2m0 -1h2m0 -1h2m0 -1h2m0 -1h3m0 -1h2m0 -1h2m0 -1h2m0 -1h3m0 -1h2m0 -1h2m0 -1h2m0 -1h3m0 -1h2m0 -1h2m0 -1h2m0 -1h3m0 -1h2m0 -1h2m0 -1h2m0 -1h3m0 -1h2m0 -1h2m0 -1h2m0 -1h2m0 -1h3m0 -1h2m0 -1h2m0 -1h2m0 -1h3m0 -1h2m0 -1h2m0 -1h2m0 -1h3m0 -1h2m0 -1h2m0 -1h2m0 -1h3m0 -1h2m0 -1h2m0 -1h2m0 -1h3m0 -1h2m0 -1h2m0 -1h2m0 -1h3m0 -1h2m0 -1h2m0 -1h2m0 -1h2m0 -1h3m0 -1h2m0 -1h2m0 -1h2m0 -1h3m0 -1h2m0 -1h2m0 -1h2m0 -1h3m0 -1h2m0 -1h2m0 -1h2m0 -1h3m0 -1h2m0 -1h2m0 -1h2m0 -1h3m0 -1h2m0 -1h2m0 -1h2m0 -1h2m0 -1h3m0 -1h2m0 -1h2m0 -1h2m0 -1h3m0 -1h2m0 -1h2m0 -1h2m0 -1h3m0 -1h2m0 -1h2m0 -1h2m0 -1h3m0 -1h2m0 -1h2m0 -1h2m0 -1h3m0 -1h2m0 -1h2m0 -1h2m0 -1h3m0 -1h2m0 -1h2m0 -1h2m0 -1h2m0 -1h3m0 -1h2m0 -1h2m0 -1h2m0 -1h3m0 -1h2m0 -1h2m0 -1h2m0 -1h3m0 -1h2m0 -1h2m0 -1h2m0 -1h3m0 -1h2m0 -1h2m0 -1h2m0 -1h3m0 -1h2m0 -1h2m0 -1h2m0 -1h2m0 -1h3m0 -1h2m0 -1h2m0 -1h2m0 -1h3m0 -1h2m0 -1h2m0 -1h2m0 -1h3m0 -1h2m0 -1h2m0 -1h2m0 -1h3m0 -1h2m0 -1h2m0 -1h2m0 -1h3m0 -1h2m0 -1h2m0 -1h2m0 -1h3m0 -1h2m0 -1h2m0 -1h2m0 -1h2m0 -1h3m0 -1h2m0 -1h2m0 -1h2m0 -1h3m0 -1h2m0 -1h2m0 -1h2m0 -1h3m0 -1h2m0 -1h2m0 -1h2m0 -1h3m0 -1h2m0 -1h2m0 -1h2m0 -1h3m0 -1h2m0 -1h2m0 -1h2m0 -1h2m0 -1h3m0 -1h2m0 -1h2m0 -1h2m0 -1h3m0 -1h2m0 -1h2m0 -1h2m0 -1h3m0 -1h2m0 -1h2m0 -1h2m0 -1h3m0 -1h2m0 -1h2m0 -1h2m0 -1h3m0 -1h2m0 -1h2m0 -1h2m0 -1h3m0 -1h2m0 -1h2m0 -1h2m0 -1h2m0 -1h3m0 -1h2m0 -1h2m0 -1h2m0 -1h3m0 -1h2m0 -1h2m0 -1h2m0 -1h3m0 -1h2m0 -1h2m0 -1h2m0 -1h3m0 -1h2m0 -1h2m0 -1h2m0 -1h3m0 -1h2m0 -1h2m0 -1h2m0 -1h2m0 -1h3m0 -1h2m0 -1h2m0 -1h2m0 -1h3m0 -1h2m0 -1h2m0 -1h2m0 -1h3m0 -1h2m0 -1h2m0 -1h2m0 -1h3m0 -1h2m0 -1h2m0 -1h2m0 -1h3m0 -1h2m0 -1h2m0 -1h2m0 -1h3m0 -1h2m0 -1h2m0 -1h2m0 -1h2m0 -1h3m0 -1h2m0 -1h2m0 -1h2m0 -1h3m0 -1h2m0 -1h2m0 -1h2m0 -1h3m0 -1h2m0 -1h2m0 -1h2m0 -1h3m0 -1h2m0 -1h2m0 -1h2m0 -1h3m0 -1h2m0 -1h2m0 -1h2m0 -1h2m0 -1h3m0 -1h2m0 -1h2m0 -1h2m0 -1h3m0 -1h2m0 -1h2m0 -1h2m0 -1h3m0 -1h2m0 -1h2m0 -1h2m0 -1h3m0 -1h2m0 -1h2m0 -1h2m0 -1h3m0 -1h2m0 -1h2m0 -1h2m0 -1h3m0 -1h2m0 -1h2m0 -1h2m0 -1h2m0 -1h3m0 -1h2m0 -1h2m0 -1h2m0 -1h3m0 -1h2m0 -1h2m0 -1h2m0 -1h3m0 -1h2m0 -1h2m0 -1h2m0 -1h3m0 -1h2m0 -1h2m0 -1h2m0 -1h3m0 -1h2m0 -1h2m0 -1h2m0 -1h2m0 -1h3m0 -1h2m0 -1h2m0 -1h2m0 -1h3m0 -1h2m0 -1h2m0 -1h2m0 -1h3m0 -1h2m0 -1h2m0 -1h2m0 -1h3m0 -1h2m0 -1h2m0 -1h2m0 -1h3m0 -1h2m0 -1h2m0 -1h2m0 -1h3m0 -1h2m0 -1h2m0 -1h2m0 -1h2m0 -1h3m0 -1h2m0 -1h2m0 -1h2m0 -1h3m0 -1h2m0 -1h2m0 -1h2m0 -1h3m0 -1h2m0 -1h2m0 -1h2m0 -1h3m0 -1h2m0 -1h2m0 -1h2m0 -1h3m0 -1h2m0 -1h2m0 -1h2m0 -1h2m0 -1h3m0 -1h2m0 -1h2m0 -1h2m0 -1h3m0 -1h2m0 -1h2m0 -1h2m0 -1h3m0 -1h2m0 -1h2m0 -1h2m0 -1h3m0 -1h2m0 -1h2m0 -1h2m0 -1h3m0 -1h2m0 -1h2m0 -1h2m0 -1h3m0 -1h2m0 -1h2m0 -1h2m0 -1h2m0 -1h3m0 -1h2m0 -1h2m0 -1h2m0 -1h3m0 -1h2m0 -1h2m0 -1h2m0 -1h3m0 -1h2m0 -1h2m0 -1h2m0 -1h3m0 -1h2m0 -1h2m0 -1h2m0 -1h3m0 -1h2m0 -1h2m0 -1h2m0 -1h2m0 -1h3m0 -1h2m0 -1h2m0 -1h2m0 -1h3m0 -1h2m0 -1h2m0 -1h2m0 -1h3m0 -1h2m0 -1h2m0 -1h2m0 -1h3m0 -1h2m0 -1h2m0 -1h2m0 -1h3m0 -1h2m0 -1h2m0 -1h2m0 -1h3m0 -1h2m0 -1h2m0 -1h2m0 -1h2m0 -1h3m0 -1h2m0 -1h2m0 -1h2m0 -1h3m0 -1h2m0 -1h2m0 -1h2m0 -1h3m0 -1h2m0 -1h2m0 -1h2m0 -1h3m0 -1h2m0 -1h2m0 -1h2m0 -1h3m0 -1h2m0 -1h2m0 -1h2m0 -1h2m0 -1h3m0 -1h2m0 -1h2m0 -1h2m0 -1h3m0 -1h2m0 -1h2m0 -1h2m0 -1h3m0 -1h2m0 -1h2m0 -1h2m0 -1h3m0 -1h2m0 -1h2m0 -1h2m0 -1h3m0 -1h2m0 -1h2m0 -1h2m0 -1h3m0 -1h2m0 -1h2m0 -1h2m0 -1h2m0 -1h3m0 -1h2m0 -1h2m0 -1h2m0 -1h3m0 -1h2m0 -1h2m0 -1h2m0 -1h3m0 -1h2m0 -1h2m0 -1h2m0 -1h3m0 -1h2m0 -1h2m0 -1h2m0 -1h3m0 -1h2m0 -1h2m0 -1h2m0 -1h2m0 -1h3m0 -1h2m0 -1h2m0 -1h2m0 -1h3m0 -1h2m0 -1h2m0 -1h2m0 -1h3m0 -1h2m0 -1h2m0 -1h2m0 -1h3m0 -1h2m0 -1h2m0 -1h2m0 -1h3m0 -1h2m0 -1h2m0 -1h2m0 -1h3m0 -1h2m0 -1h2m0 -1h2m0 -1h2m0 -1h3m0 -1h2m0 -1h2m0 -1h2m0 -1h3m0 -1h2m0 -1h2m0 -1h2m0 -1h3m0 -1h2m0 -1h2m0 -1h2m0 -1h3m0 -1h2m0 -1h2m0 -1h2m0 -1h3m0 -1h2m0 -1h2m0 -1h2m0 -1h2m0 -1h3m0 -1h2m0 -1h2m0 -1h2m0 -1h3m0 -1h2m0 -1h2m0 -1h2m0 -1h3m0 -1h2m0 -1h2m0 -1h2m0 -1h3m0 -1h2m0 -1h2m0 -1h2m0 -1h3m0 -1h2m0 -1h2m0 -1h2m0 -1h3m0 -1h2m0 -1h2m0 -1h2m0 -1h2m0 -1h3m0 -1h2m0 -1h2m0 -1h2m0 -1h3m0 -1h2m0 -1h2m0 -1h2m0 -1h3m0 -1h2m0 -1h2m0 -1h2m0 -1h3m0 -1h2m0 -1h2m0 -1h2m0 -1h3m0 -1h2m0 -1h2m0 -1h2m0 -1h2m0 -1h3m0 -1h2m0 -1h2m0 -1h2m0 -1h3m0 -1h2m0 -1h2m0 -1h2m0 -1h3m0 -1h2m0 -1h2m0 -1h2m0 -1h3m0 -1h2m0 -1h2m0 -1h2M76 640.5h3m0 -1h3m0 -1h3m0 -1h3m0 -1h3m0 -1h3m0 -1h3m0 -1h3m0 -1h3m0 -1h3m0 -1h3m0 -1h3m0 -1h3m0 -1h3m0 -1h3m0 -1h3m0 -1h3m0 -1h3m0 -1h3m0 -1h3m0 -1h3m0 -1h3m0 -1h3m0 -1h3m0 -1h3m0 -1h3m0 -1h3m0 -1h3m0 -1h3m0 -1h3m0 -1h3m0 -1h3m0 -1h3m0 -1h3m0 -1h3m0 -1h3m0 -1h3m0 -1h3m0 -1h3m0 -1h3m0 -1h3m0 -1h2m0 -1h3m0 -1h3m0 -1h3m0 -1h3m0 -1h3m0 -1h3m0 -1h3m0 -1h3m0 -1h3m0 -1h3m0 -1h3m0 -1h3m0 -1h3m0 -1h3m0 -1h3m0 -1h3m0 -1h3m0 -1h3m0 -1h3m0 -1h3m0 -1h3m0 -1h3m0 -1h3m0 -1h3m0 -1h3m0 -1h3m0 -1h3m0 -1h3m0 -1h3m0 -1h3m0 -1h3m0 -1h3m0 -1h3m0 -1h3m0 -1h3m0 -1h3m0 -1h3m0 -1h3m0 -1h3m0 -1h3m0 -1h3m0 -1h3m0 -1h3m0 -1h3m0 -1h3m0 -1h3m0 -1h3m0 -1h3m0 -1h3m0 -1h3m0 -1h3m0 -1h3m0 -1h3m0 -1h3m0 -1h3m0 -1h3m0 -1h3m0 -1h3m0 -1h3m0 -1h3m0 -1h3m0 -1h3m0 -1h3m0 -1h3m0 -1h3m0 -1h3m0 -1h3m0 -1h3m0 -1h2m0 -1h3m0 -1h3m0 -1h3m0 -1h3m0 -1h3m0 -1h3m0 -1h3m0 -1h3m0 -1h3m0 -1h3m0 -1h3m0 -1h3m0 -1h3m0 -1h3m0 -1h3m0 -1h3m0 -1h3m0 -1h3m0 -1h3m0 -1h3m0 -1h3m0 -1h3m0 -1h3m0 -1h3m0 -1h3m0 -1h3m0 -1h3m0 -1h3m0 -1h3m0 -1h3m0 -1h3m0 -1h3m0 -1h3m0 -1h3m0 -1h3m0 -1h3m0 -1h3m0 -1h3m0 -1h3m0 -1h3m0 -1h3m0 -1h3m0 -1h3m0 -1h3m0 -1h3m0 -1h3m0 -1h3m0 -1h3m0 -1h3m0 -1h3m0 -1h3m0 -1h3m0 -1h3m0 -1h3m0 -1h3m0 -1h3m0 -1h3m0 -1h3m0 -1h3m0 -1h3m0 -1h3m0 -1h3m0 -1h3m0 -1h3m0 -1h3m0 -1h3m0 -1h3m0 -1h3m0 -1h2m0 -1h3m0 -1h3m0 -1h3m0 -1h3m0 -1h3m0 -1h3m0 -1h3m0 -1h3m0 -1h3m0 -1h3m0 -1h3m0 -1h3m0 -1h3m0 -1h3m0 -1h3m0 -1h3m0 -1h3m0 -1h3m0 -1h3m0 -1h3m0 -1h3m0 -1h3m0 -1h3m0 -1h3m0 -1h3m0 -1h3m0 -1h3m0 -1h3m0 -1h3m0 -1h3m0 -1h3m0 -1h3m0 -1h3m0 -1h3m0 -1h3m0 -1h3m0 -1h3m0 -1h3m0 -1h3m0 -1h3m0 -1h3m0 -1h3m0 -1h3m0 -1h3m0 -1h3m0 -1h3m0 -1h3m0 -1h3m0 -1h3m0 -1h3m0 -1h3m0 -1h3m0 -1h3m0 -1h3m0 -1h3m0 -1h3m0 -1h3m0 -1h3m0 -1h3m0 -1h3m0 -1h3m0 -1h3m0 -1h3m0 -1h3m0 -1h3m0 -1h3m0 -1h3m0 -1h3m0 -1h2m0 -1h3m0 -1h3m0 -1h3m0 -1h3m0 -1h3m0 -1h3m0 -1h3m0 -1h3m0 -1h3m0 -1h3m0 -1h3m0 -1h3m0 -1h3m0 -1h3m0 -1h3m0 -1h3m0 -1h3m0 -1h3m0 -1h3m0 -1h3m0 -1h3m0 -1h3m0 -1h3m0 -1h3m0 -1h3m0 -1h3m0 -1h3m0 -1h3m0 -1h3m0 -1h3m0 -1h3m0 -1h3m0 -1h3m0 -1h3m0 -1h3m0 -1h3m0 -1h3m0 -1h3m0 -1h3m0 -1h3m0 -1h3m0 -1h3m0 -1h3m0 -1h3m0 -1h3m0 -1h3m0 -1h3m0 -1h3m0 -1h3m0 -1h3m0 -1h3m0 -1h3m0 -1h3m0 -1h3m0 -1h3m0 -1h3m0 -1h3m0 -1h3m0 -1h3m0 -1h3m0 -1h3m0 -1h3m0 -1h3m0 -1h3m0 -1h3m0 -1h3m0 -1h3m0 -1h3m0 -1h2m0 -1h3m0 -1h3m0 -1h3m0 -1h3m0 -1h3m0 -1h3m0 -1h3m0 -1h3m0 -1h3m0 -1h3m0 -1h3m0 -1h3m0 -1h3m0 -1h3m0 -1h3m0 -1h3m0 -1h3m0 -1h3m0 -1h3m0 -1h3m0 -1h3m0 -1h3m0 -1h3m0 -1h3m0 -1h3m0 -1h3m0 -1h3m0 -1h3m0 -1h3m0 -1h3m0 -1h3m0 -1h3m0 -1h3m0 -1h3m0 -1h3m0 -1h3m0 -1h3m0 -1h3m0 -1h3m0 -1h3m0 -1h3m0 -1h3m0 -1h3m0 -1h3m0 -1h3m0 -1h3m0 -1h3m0 -1h3m0 -1h3m0 -1h3m0 -1h3m0 -1h3m0 -1h3m0 -1h3m0 -1h3m0 -1h3m0 -1h3m0 -1h3m0 -1h3m0 -1h3m0 -1h3m0 -1h3m0 -1h3m0 -1h3m0 -1h3m0 -1h3m0 -1h3m0 -1h3m0 -1h2m0 -1h3m0 -1h3m0 -1h3m0 -1h3m0 -1h3m0 -1h3m0 -1h3m0 -1h3m0 -1h3m0 -1h3m0 -1h3m0 -1h3m0 -1h3m0 -1h3m0 -1h3m0 -1h3m0 -1h3m0 -1h3m0 -1h3m0 -1h3m0 -1h3m0 -1h3m0 -1h3m0 -1h3m0 -1h3m0 -1h3m0 -1h3m0 -1h3m0 -1h3m0 -1h3m0 -1h3m0 -1h3m0 -1h3m0 -1h3m0 -1h3m0 -1h3m0 -1h3m0 -1h3m0 -1h3m0 -1h3m0 -1h3m0 -1h3m0 -1h3m0 -1h3m0 -1h3m0 -1h3m0 -1h3m0 -1h3m0 -1h3m0 -1h3m0 -1h3m0 -1h3m0 -1h3m0 -1h3m0 -1h3m0 -1h3m0 -1h3m0 -1h3m0 -1h3m0 -1h3m0 -1h3m0 -1h3m0 -1h3m0 -1h3m0 -1h3m0 -1h3m0 -1h3m0 -1h3m0 -1h2m0 -1h3m0 -1h3m0 -1h3m0 -1h3m0 -1h3m0 -1h3m0 -1h3m0 -1h3m0 -1h3m0 -1h3m0 -1h3m0 -1h3m0 -1h3m0 -1h3m0 -1h3m0 -1h3m0 -1h3m0 -1h3m0 -1h3m0 -1h3m0 -1h3m0 -1h3m0 -1h3m0 -1h3m0 -1h3m0 -1h3m0 -1h3m0 -1h3m0 -1h3m0 -1h3m0 -1h3m0 -1h3m0 -1h3m0 -1h3m0 -1h3m0 -1h3m0 -1h3m0 -1h3m0 -1h3m0 -1h3m0 -1h3m0 -1h3m0 -1h3m0 -1h3m0 -1h3m0 -1h3m0 -1h3m0 -1h3m0 -1h3m0 -1h3m0 -1h3m0 -1h3m0 -1h3m0 -1h3m0 -1h3m0 -1h3m0 -1h3m0 -1h3m0 -1h3m0 -1h3m0 -1h3m0 -1h3m0 -1h3m0 -1h3m0 -1h3m0 -1h3m0 -1h3m0 -1h3m0 -1h2m0 -1h3m0 -1h3m0 -1h3m0 -1h3m0 -1h3m0 -1h3m0 -1h3m0 -1h3m0 -1h3m0 -1h3m0 -1h3m0 -1h3m0 -1h3m0 -1h3m0 -1h3m0 -1h3m0 -1h3m0 -1h3m0 -1h3m0 -1h3m0 -1h3m0 -1h3m0 -1h3m0 -1h3m0 -1h3m0 -1h3m0 -1h3m0 -1h3m0 -1h3m0 -1h3m0 -1h3m0 -1h3m0 -1h3m0 -1h3m0 -1h3m0 -1h3m0 -1h3m0 -1h3m0 -1h3m0 -1h3m0 -1h3m0 -1h3m0 -1h3m0 -1h3m0 -1h3m0 -1h3m0 -1h3M76 640.5h4m0 -1h5m0 -1h4m0 -1h5m0 -1h4m0 -1h5m0 -1h4m0 -1h5m0 -1h4m0 -1h5m0 -1h4m0 -1h5m0 -1h4m0 -1h5m0 -1h4m0 -1h5m0 -1h4m0 -1h5m0 -1h4m0 -1h5m0 -1h4m0 -1h4m0 -1h5m0 -1h4m0 -1h5m0 -1h4m0 -1h5m0 -1h4m0 -1h5m0 -1h4m0 -1h5m0 -1h4m0 -1h5m0 -1h4m0 -1h5m0 -1h4m0 -1h5m0 -1h4m0 -1h5m0 -1h4m0 -1h5m0 -1h4m0 -1h5m0 -1h4m0 -1h4m0 -1h5m0 -1h4m0 -1h5m0 -1h4m0 -1h5m0 -1h4m0 -1h5m0 -1h4m0 -1h5m0 -1h4m0 -1h5m0 -1h4m0 -1h5m0 -1h4m0 -1h5m0 -1h4m0 -1h5m0 -1h4m0 -1h5m0 -1h4m0 -1h5m0 -1h4m0 -1h4m0 -1h5m0 -1h4m0 -1h5m0 -1h4m0 -1h5m0 -1h4m0 -1h5m0 -1h4m0 -1h5m0 -1h4m0 -1h5m0 -1h4m0 -1h5m0 -1h4m0 -1h5m0 -1h4m0 -1h5m0 -1h4m0 -1h5m0 -1h4m0 -1h5m0 -1h4m0 -1h4m0 -1h5m0 -1h4m0 -1h5m0 -1h4m0 -1h5m0 -1h4m0 -1h5m0 -1h4m0 -1h5m0 -1h4m0 -1h5m0 -1h4m0 -1h5m0 -1h4m0 -1h5m0 -1h4m0 -1h5m0 -1h4m0 -1h5m0 -1h4m0 -1h5m0 -1h4m0 -1h4m0 -1h5m0 -1h4m0 -1h5m0 -1h4m0 -1h5m0 -1h4m0 -1h5m0 -1h4m0 -1h5m0 -1h4m0 -1h5m0 -1h4m0 -1h5m0 -1h4m0 -1h5m0 -1h4m0 -1h5m0 -1h4m0 -1h5m0 -1h4m0 -1h5m0 -1h4m0 -1h4m0 -1h5m0 -1h4m0 -1h5m0 -1h4m0 -1h5m0 -1h4m0 -1h5m0 -1h4m0 -1h5m0 -1h4m0 -1h5m0 -1h4m0 -1h5m0 -1h4m0 -1h5m0 -1h4m0 -1h5m0 -1h4m0 -1h5m0 -1h4m0 -1h5m0 -1h4m0 -1h4m0 -1h5m0 -1h4m0 -1h5m0 -1h4m0 -1h5m0 -1h4m0 -1h5m0 -1h4m0 -1h5m0 -1h4m0 -1h5m0 -1h4m0 -1h5m0 -1h4m0 -1h5m0 -1h4m0 -1h5m0 -1h4m0 -1h5m0 -1h4m0 -1h5m0 -1h4m0 -1h4m0 -1h5m0 -1h4m0 -1h5m0 -1h4m0 -1h5m0 -1h4m0 -1h5m0 -1h4m0 -1h5m0 -1h4m0 -1h5m0 -1h4m0 -1h5m0 -1h4m0 -1h5m0 -1h4m0 -1h5m0 -1h4m0 -1h5m0 -1h4m0 -1h5m0 -1h4m0 -1h4m0 -1h5m0 -1h4m0 -1h5m0 -1h4m0 -1h5m0 -1h4m0 -1h5m0 -1h4m0 -1h5m0 -1h4m0 -1h5m0 -1h4m0 -1h5m0 -1h4m0 -1h5m0 -1h4m0 -1h5m0 -1h4m0 -1h5m0 -1h4m0 -1h5m0 -1h4m0 -1h4m0 -1h5m0 -1h4m0 -1h5m0 -1h4m0 -1h5m0 -1h4m0 -1h5m0 -1h4m0 -1h5m0 -1h4m0 -1h5m0 -1h4m0 -1h5m0 -1h4m0 -1h5m0 -1h4m0 -1h5m0 -1h4m0 -1h5m0 -1h4m0 -1h5m0 -1h4m0 -1h4m0 -1h5m0 -1h4m0 -1h5m0 -1h4m0 -1h5m0 -1h4m0 -1h5m0 -1h4m0 -1h5m0 -1h4m0 -1h5m0 -1h4m0 -1h5m0 -1h4m0 -1h5m0 -1h4m0 -1h5m0 -1h4m0 -1h5m0 -1h4m0 -1h5m0 -1h4m0 -1h4m0 -1h5m0 -1h4m0 -1h5m0 -1h4m0 -1h5m0 -1h4m0 -1h5m0 -1h4m0 -1h5m0 -1h4m0 -1h5m0 -1h4m0 -1h5m0 -1h4m0 -1h5m0 -1h4m0 -1h5m0 -1h4m0 -1h5m0 -1h4m0 -1h5m0 -1h4m0 -1h4m0 -1h5m0 -1h4m0 -1h5m0 -1h4m0 -1h5m0 -1h4m0 -1h5m0 -1h4m0 -1h5m0 -1h4m0 -1h5m0 -1h4m0 -1h5m0 -1h4m0 -1h5m0 -1h4m0 -1h5m0 -1h4m0 -1h5m0 -1h4m0 -1h5m0 -1h4m0 -1h4m0 -1h5m0 -1h4m0 -1h5m0 -1h4m0 -1h5m0 -1h4m0 -1h5m0 -1h4m0 -1h5m0 -1h4m0 -1h5m0 -1h4m0 -1h5m0 -1h4m0 -1h5m0 -1h4m0 -1h5m0 -1h4m0 -1h5m0 -1h4m0 -1h5m0 -1h4m0 -1h4m0 -1h5m0 -1h4m0 -1h5m0 -1h4m0 -1h5m0 -1h4m0 -1h5m0 -1h4m0 -1h5m0 -1h4m0 -1h5m0 -1h4m0 -1h5m0 -1h4m0 -1h5m0 -1h4m0 -1h5m0 -1h4m0 -1h5m0 -1h4m0 -1h5m0 -1h4m0 -1h4m0 -1h5m0 -1h4m0 -1h5m0 -1h4m0 -1h5m0 -1h4m0 -1h5m0 -1h4m0 -1h5m0 -1h4m0 -1h5m0 -1h4m0 -1h5m0 -1h4m0 -1h2M76 640.5h6m0 -1h7m0 -1h7m0 -1h7m0 -1h6m0 -1h7m0 -1h7m0 -1h6m0 -1h7m0 -1h7m0 -1h7m0 -1h6m0 -1h7m0 -1h7m0 -1h6m0 -1h7m0 -1h7m0 -1h7m0 -1h6m0 -1h7m0 -1h7m0 -1h7m0 -1h6m0 -1h7m0 -1h7m0 -1h6m0 -1h7m0 -1h7m0 -1h7m0 -1h6m0 -1h7m0 -1h7m0 -1h6m0 -1h7m0 -1h7m0 -1h7m0 -1h6m0 -1h7m0 -1h7m0 -1h6m0 -1h7m0 -1h7m0 -1h7m0 -1h6m0 -1h7m0 -1h7m0 -1h6m0 -1h7m0 -1h7m0 -1h7m0 -1h6m0 -1h7m0 -1h7m0 -1h6m0 -1h7m0 -1h7m0 -1h7m0 -1h6m0 -1h7m0 -1h7m0 -1h6m0 -1h7m0 -1h7m0 -1h7m0 -1h6m0 -1h7m0 -1h7m0 -1h7m0 -1h6m0 -1h7m0 -1h7m0 -1h6m0 -1h7m0 -1h7m0 -1h7m0 -1h6m0 -1h7m0 -1h7m0 -1h6m0 -1h7m0 -1h7m0 -1h7m0 -1h6m0 -1h7m0 -1h7m0 -1h6m0 -1h7m0 -1h7m0 -1h7m0 -1h6m0 -1h7m0 -1h7m0 -1h6m0 -1h7m0 -1h7m0 -1h7m0 -1h6m0 -1h7m0 -1h7m0 -1h6m0 -1h7m0 -1h7m0 -1h7m0 -1h6m0 -1h7m0 -1h7m0 -1h6m0 -1h7m0 -1h7m0 -1h7m0 -1h6m0 -1h7m0 -1h7m0 -1h7m0 -1h6m0 -1h7m0 -1h7m0 -1h6m0 -1h7m0 -1h7m0 -1h7m0 -1h6m0 -1h7m0 -1h7m0 -1h6m0 -1h7m0 -1h7m0 -1h7m0 -1h6m0 -1h7m0 -1h7m0 -1h6m0 -1h7m0 -1h7m0 -1h7m0 -1h6m0 -1h7m0 -1h7m0 -1h6m0 -1h7m0 -1h7m0 -1h7m0 -1h6m0 -1h7m0 -1h7m0 -1h6m0 -1h7m0 -1h7m0 -1h7m0 -1h6m0 -1h7m0 -1h7m0 -1h6m0 -1h7m0 -1h7m0 -1h7m0 -1h6m0 -1h7m0 -1h7m0 -1h7m0 -1h6m0 -1h7m0 -1h7m0 -1h6m0 -1h7m0 -1h7m0 -1h7m0 -1h6m0 -1h7m0 -1h7m0 -1h6m0 -1h7m0 -1h7m0 -1h7m0 -1h6m0 -1h7m0 -1h7m0 -1h6m0 -1h7m0 -1h7m0 -1h7m0 -1h6m0 -1h7m0 -1h7m0 -1h6m0 -1h7m0 -1h7m0 -1h7m0 -1h6m0 -1h7m0 -1h7m0 -1h6m0 -1h7m0 -1h7m0 -1h7m0 -1h6m0 -1h7m0 -1h7m0 -1h6m0 -1h7m0 -1h7m0 -1h7m0 -1h6m0 -1h7m0 -1h7m0 -1h7m0 -1h6m0 -1h7m0 -1h7m0 -1h6m0 -1h7m0 -1h7m0 -1h7m0 -1h6m0 -1h7m0 -1h7m0 -1h6m0 -1h7m0 -1h7m0 -1h7m0 -1h6m0 -1h7m0 -1h7m0 -1h6m0 -1h7m0 -1h7m0 -1h7m0 -1h6m0 -1h7m0 -1h7m0 -1h6m0 -1h7m0 -1h7m0 -1h7m0 -1h6m0 -1h7m0 -1h7m0 -1h6m0 -1h7m0 -1h7m0 -1h7m0 -1h6m0 -1h7m0 -1h7m0 -1h6m0 -1h7m0 -1h7m0 -1h7m0 -1h6m0 -1h7m0 -1h7m0 -1h7m0 -1h6m0 -1h7m0 -1h2M76 640.5h8m0 -1h9m0 -1h9m0 -1h9m0 -1h9m0 -1h9m0 -1h9m0 -1h9m0 -1h9m0 -1h9m0 -1h9m0 -1h9m0 -1h9m0 -1h9m0 -1h9m0 -1h9m0 -1h9m0 -1h9m0 -1h9m0 -1h9m0 -1h9m0 -1h9m0 -1h9m0 -1h8m0 -1h9m0 -1h9m0 -1h9m0 -1h9m0 -1h9m0 -1h9m0 -1h9m0 -1h9m0 -1h9m0 -1h9m0 -1h9m0 -1h9m0 -1h9m0 -1h9m0 -1h9m0 -1h9m0 -1h9m0 -1h9m0 -1h9m0 -1h9m0 -1h9m0 -1h9m0 -1h8m0 -1h9m0 -1h9m0 -1h9m0 -1h9m0 -1h9m0 -1h9m0 -1h9m0 -1h9m0 -1h9m0 -1h9m0 -1h9m0 -1h9m0 -1h9m0 -1h9m0 -1h9m0 -1h9m0 -1h9m0 -1h9m0 -1h9m0 -1h9m0 -1h9m0 -1h9m0 -1h8m0 -1h9m0 -1h9m0 -1h9m0 -1h9m0 -1h9m0 -1h9m0 -1h9m0 -1h9m0 -1h9m0 -1h9m0 -1h9m0 -1h9m0 -1h9m0 -1h9m0 -1h9m0 -1h9m0 -1h9m0 -1h9m0 -1h9m0 -1h9m0 -1h9m0 -1h9m0 -1h8m0 -1h9m0 -1h9m0 -1h9m0 -1h9m0 -1h9m0 -1h9m0 -1h9m0 -1h9m0 -1h9m0 -1h9m0 -1h9m0 -1h9m0 -1h9m0 -1h9m0 -1h9m0 -1h9m0 -1h9m0 -1h9m0 -1h9m0 -1h9m0 -1h9m0 -1h9m0 -1h8m0 -1h9m0 -1h9m0 -1h9m0 -1h9m0 -1h9m0 -1h9m0 -1h9m0 -1h9m0 -1h9m0 -1h9m0 -1h9m0 -1h9m0 -1h9m0 -1h9m0 -1h9m0 -1h9m0 -1h9m0 -1h9m0 -1h9m0 -1h9m0 -1h9m0 -1h9m0 -1h8m0 -1h9m0 -1h9m0 -1h9m0 -1h9m0 -1h9m0 -1h9m0 -1h9m0 -1h9m0 -1h9m0 -1h9m0 -1h9m0 -1h9m0 -1h9m0 -1h9m0 -1h9m0 -1h9m0 -1h9m0 -1h9m0 -1h9m0 -1h9m0 -1h9m0 -1h9m0 -1h8m0 -1h9m0 -1h9m0 -1h9m0 -1h9m0 -1h9m0 -1h9m0 -1h9m0 -1h9m0 -1h9m0 -1h9m0 -1h9m0 -1h9m0 -1h9m0 -1h9m0 -1h9m0 -1h9m0 -1h9m0 -1h9m0 -1h9m0 -1h9m0 -1h9m0 -1h9m0 -1h8m0 -1h9m0 -1h9m0 -1h9m0 -1h9m0 -1h9m0 -1h7M807.5 577v1m1 -3v2m1 -3v1m1 -3v2m1 -3v1m1 -3v2m1 -3v1m1 -3v2m1 -3v1m1 -3v2m1 -3v1m1 -3v2m1 -3v1m1 -3v2m1 -3v1m1 -3v2m1 -3v1m1 -3v2m1 -3v1m1 -3v2m1 -3v1m1 -3v2m1 -3v1m1 -3v2m1 -4v2m1 -3v1m1 -3v2m1 -3v1m1 -3v2m1 -3v1m1 -3v2m1 -3v1m1 -3v2m1 -3v1m1 -3v2m1 -3v1m1 -3v2m1 -3v1m1 -3v2m1 -3v1m1 -3v2m1 -3v1m1 -3v2m1 -3v1m1 -3v2m1 -3v1m1 -3v2m1 -3v1m1 -3v2m1 -3v1m1 -3v2m1 -3v1m1 -3v2m1 -3v1m1 -3v2m1 -3v1m1 -3v2m1 -3v1m1 -3v2m1 -4v2m1 -3v1m1 -3v2m1 -3v1m1 -3v2m1 -3v1m1 -3v2m1 -3v1m1 -3v2m1 -3v1m1 -3v2m1 -3v1m1 -3v2m1 -3v1m1 -3v2m1 -3v1m1 -3v2m1 -3v1m1 -3v2m1 -3v1m1 -3v2m1 -3v1m1 -3v2m1 -3v1m1 -3v2m1 -3v1m1 -3v2m1 -3v1m1 -3v2m1 -3v1m1 -3v2m1 -3v1m1 -3v2m1 -4v2m1 -3v1m1 -3v2m1 -3v1m1 -3v2m1 -3v1m1 -3v2m1 -3v1m1 -3v2m1 -3v1m1 -3v2m1 -3v1m1 -3v2m1 -3v1m1 -3v2m1 -3v1m1 -3v2m1 -3v1m1 -3v2m1 -3v1m1 -3v2m1 -3v1m1 -3v2m1 -3v1m1 -3v2m1 -3v1m1 -3v2m1 -3v1m1 -3v2m1 -3v1m1 -3v2m1 -3v1m1 -3v2m1 -3v1m1 -3v2m1 -4v2m1 -3v1m1 -3v2m1 -3v1m1 -3v2m1 -3v1m1 -3v2m1 -3v1m1 -3v2m1 -3v1m1 -3v2m1 -3v1m1 -3v2m1 -3v1m1 -3v2m1 -3v1m1 -3v2m1 -3v1m1 -3v2m1 -3v1m1 -3v2m1 -3v1m1 -3v2m1 -3v1m1 -3v2m1 -3v1m1 -3v2m1 -3v1m1 -3v2m1 -3v1m1 -3v2m1 -3v1m1 -3v2m1 -4v2m1 -3v1m1 -3v2m1 -3v1m1 -3v2m1 -3v1m1 -3v2m1 -3v1m1 -3v2m1 -3v1m1 -3v2m1 -3v1m1 -3v2m1 -3v1m1 -3v2m1 -3v1m1 -3v2m1 -3v1m1 -3v2m1 -3v1m1 -3v2m1 -3v1m1 -3v2m1 -3v1m1 -3v2m1 -3v1m1 -3v2m1 -3v1m1 -3v2m1 -3v1m1 -3v2m1 -3v1m1 -3v2m1 -3v1m1 -3v2m1 -4v2m1 -3v1m1 -3v2m1 -3v1m1 -3v2m1 -3v1m1 -3v2m1 -3v1m1 -3v2m1 -3v1m1 -3v2m1 -3v1m1 -3v2m1 -3v1m1 -3v2m1 -3v1m1 -3v2m1 -3v1m1 -3v2m1 -3v1m1 -3v2m1 -3v1m1 -3v2m1 -3v1m1 -3v2m1 -3v1m1 -3v2m1 -3v1m1 -3v2m1 -3v1m1 -3v2m1 -3v1m1 -3v2m1 -4v2m1 -3v1m1 -3v2m1 -3v1m1 -3v2m1 -3v1m1 -3v2m1 -3v1m1 -3v2m1 -3v1m1 -3v2m1 -3v1m1 -3v2m1 -3v1m1 -3v2m1 -3v1m1 -3v2m1 -3v1m1 -3v2m1 -3v1m1 -3v2m1 -3v1m1 -3v2m1 -3v1m1 -3v2m1 -3v1m1 -3v2m1 -3v1m1 -3v2m1 -3v1m1 -3v2m1 -3v1m1 -3v2m1 -3v1m1 -3v2m1 -4v2m1 -3v1m1 -3v2m1 -3v1m1 -3v2m1 -3v1m1 -3v2m1 -3v1m1 -3v2m1 -3v1m1 -3v2m1 -3v1m1 -3v2m1 -3v1m1 -3v2m1 -3v1m1 -3v2m1 -3v1m1 -3v2m1 -3v1m1 -3v2m1 -3v1m1 -3v2m1 -3v1m1 -3v2m1 -3v1m1 -3v2m1 -3v1m1 -3v2m1 -3v1m1 -3v2m1 -3v1m1 -3v2m1 -4v2m1 -3v1m1 -3v2m1 -3v1m1 -3v2m1 -3v1m1 -3v2m1 -3v1m1 -3v2m1 -3v1m1 -3v2m1 -3v1m1 -3v2m1 -3v1m1 -3v2m1 -3v1m1 -3v2m1 -3v1m1 -3v2m1 -3v1m1 -3v2m1 -3v1m1 -3v2m1 -3v1m1 -3v2m1 -3v1m1 -3v2m1 -3v1m1 -3v2m1 -3v1m1 -3v2m1 -3v1m1 -3v2m1 -3v1m1 -3v2m1 -4v2m1 -3v1m1 -3v2m1 -3v1m1 -3v2m1 -3v1m1 -3v2m1 -3v1m1 -3v2m1 -3v1m1 -3v2m1 -3v1m1 -3v2m1 -3v1m1 -3v2m1 -3v1m1 -3v2m1 -3v1m1 -3v2m1 -3v1m1 -3v2m1 -3v1m1 -3v2m1 -3v1m1 -3v2m1 -3v1m1 -3v2m1 -3v1m1 -3v2m1 -3v1m1 -3v2m1 -3v1m1 -3v2m1 -4v2m1 -3v1m1 -3v2m1 -3v1m1 -3v2m1 -3v1m1 -3v2m1 -3v1m1 -3v2m1 -3v1m1 -3v2m1 -3v1M807 577.5h1m0 -1h2m0 -1h1m0 -1h2m0 -1h1m0 -1h2m0 -1h1m0 -1h2m0 -1h1m0 -1h2m0 -1h1m0 -1h2m0 -1h1m0 -1h2m0 -1h1m0 -1h2m0 -1h1m0 -1h2m0 -1h1m0 -1h2m0 -1h1m0 -1h2m0 -1h1m0 -1h2m0 -1h1m0 -1h2m0 -1h1m0 -1h1m0 -1h2m0 -1h1m0 -1h2m0 -1h1m0 -1h2m0 -1h1m0 -1h2m0 -1h1m0 -1h2m0 -1h1m0 -1h2m0 -1h1m0 -1h2m0 -1h1m0 -1h2m0 -1h1m0 -1h2m0 -1h1m0 -1h2m0 -1h1m0 -1h2m0 -1h1m0 -1h2m0 -1h1m0 -1h2m0 -1h1m0 -1h2m0 -1h1m0 -1h2m0 -1h1m0 -1h2m0 -1h1m0 -1h2m0 -1h1m0 -1h1m0 -1h2m0 -1h1m0 -1h2m0 -1h1m0 -1h2m0 -1h1m0 -1h2m0 -1h1m0 -1h2m0 -1h1m0 -1h2m0 -1h1m0 -1h2m0 -1h1m0 -1h2m0 -1h1m0 -1h2m0 -1h1m0 -1h2m0 -1h1m0 -1h2m0 -1h1m0 -1h2m0 -1h1m0 -1h2m0 -1h1m0 -1h2m0 -1h1m0 -1h2m0 -1h1m0 -1h2m0 -1h1m0 -1h2m0 -1h1m0 -1h1m0 -1h2m0 -1h1m0 -1h2m0 -1h1m0 -1h2m0 -1h1m0 -1h2m0 -1h1m0 -1h2m0 -1h1m0 -1h2m0 -1h1m0 -1h2m0 -1h1m0 -1h2m0 -1h1m0 -1h2m0 -1h1m0 -1h2m0 -1h1m0 -1h2m0 -1h1m0 -1h2m0 -1h1m0 -1h2m0 -1h1m0 -1h2m0 -1h1m0 -1h2m0 -1h1m0 -1h2m0 -1h1m0 -1h1m0 -1h2m0 -1h1m0 -1h2m0 -1h1m0 -1h2m0 -1h1m0 -1h2m0 -1h1m0 -1h2m0 -1h1m0 -1h2m0 -1h1m0 -1h2m0 -1h1m0 -1h2m0 -1h1m0 -1h2m0 -1h1m0 -1h2m0 -1h1m0 -1h2m0 -1h1m0 -1h2m0 -1h1m0 -1h2m0 -1h1m0 -1h2m0 -1h1m0 -1h2m0 -1h1m0 -1h2m0 -1h1m0 -1h2m0 -1h1m0 -1h1m0 -1h2m0 -1h1m0 -1h2m0 -1h1m0 -1h2m0 -1h1m0 -1h2m0 -1h1m0 -1h2m0 -1h1m0 -1h2m0 -1h1m0 -1h2m0 -1h1m0 -1h2m0 -1h1m0 -1h2m0 -1h1m0 -1h2m0 -1h1m0 -1h2m0 -1h1m0 -1h2m0 -1h1m0 -1h2m0 -1h1m0 -1h2m0 -1h1m0 -1h2m0 -1h1m0 -1h2m0 -1h1m0 -1h2m0 -1h1m0 -1h1m0 -1h2m0 -1h1m0 -1h2m0 -1h1m0 -1h2m0 -1h1m0 -1h2m0 -1h1m0 -1h2m0 -1h1m0 -1h2m0 -1h1m0 -1h2m0 -1h1m0 -1h2m0 -1h1m0 -1h2m0 -1h1m0 -1h2m0 -1h1m0 -1h2m0 -1h1m0 -1h2m0 -1h1m0 -1h2m0 -1h1m0 -1h2m0 -1h1m0 -1h2m0 -1h1m0 -1h2m0 -1h1m0 -1h1m0 -1h2m0 -1h1m0 -1h2m0 -1h1m0 -1h2m0 -1h1m0 -1h2m0 -1h1m0 -1h2m0 -1h1m0 -1h2m0 -1h1m0 -1h2m0 -1h1m0 -1h2m0 -1h1m0 -1h2m0 -1h1m0 -1h2m0 -1h1m0 -1h2m0 -1h1m0 -1h2m0 -1h1m0 -1h2m0 -1h1m0 -1h2m0 -1h1m0 -1h2m0 -1h1m0 -1h2m0 -1h1m0 -1h2m0 -1h1m0 -1h1m0 -1h2m0 -1h1m0 -1h2m0 -1h1m0 -1h2m0 -1h1m0 -1h2m0 -1h1m0 -1h2m0 -1h1m0 -1h2m0 -1h1m0 -1h2m0 -1h1m0 -1h2m0 -1h1m0 -1h2m0 -1h1m0 -1h2m0 -1h1m0 -1h2m0 -1h1m0 -1h2m0 -1h1m0 -1h2m0 -1h1m0 -1h2m0 -1h1m0 -1h2m0 -1h1m0 -1h2m0 -1h1m0 -1h2m0 -1h1m0 -1h1m0 -1h2m0 -1h1m0 -1h2m0 -1h1m0 -1h2m0 -1h1m0 -1h2m0 -1h1m0 -1h2m0 -1h1m0 -1h2m0 -1h1m0 -1h2m0 -1h1m0 -1h2m0 -1h1m0 -1h2m0 -1h1m0 -1h2m0 -1h1m0 -1h2m0 -1h1m0 -1h2m0 -1h1m0 -1h2m0 -1h1m0 -1h2m0 -1h1m0 -1h2m0 -1h1m0 -1h2m0 -1h1m0 -1h2m0 -1h1m0 -1h1m0 -1h2m0 -1h1m0 -1h2m0 -1h1m0 -1h2m0 -1h1m0 -1h2m0 -1h1m0 -1h2m0 -1h1m0 -1h2m0 -1h1m0 -1h2m0 -1h1m0 -1h2m0 -1h1m0 -1h2m0 -1h1m0 -1h2m0 -1h1m0 -1h2m0 -1h1m0 -1h2m0 -1h1m0 -1h2m0 -1h1m0 -1h2m0 -1h1m0 -1h2m0 -1h1m0 -1h2m0 -1h1m0 -1h1m0 -1h2m0 -1h1m0 -1h2m0 -1h1m0 -1h2m0 -1h1m0 -1h2m0 -1h1m0 -1h2m0 -1h1m0 -1h2m0 -1h1m0 -1h2m0 -1h1m0 -1h2m0 -1h1m0 -1h2m0 -1h1m0 -1h2m0 -1h1m0 -1h2m0 -1h1m0 -1h2m0 -1h1m0 -1h2m0 -1h1m0 -1h2m0 -1h1m0 -1h2m0 -1h1m0 -1h2m0 -1h1m0 -1h2m0 -1h1m0 -1h1m0 -1h2m0 -1h1m0 -1h2m0 -1h1m0 -1h2m0 -1h1m0 -1h2m0 -1h1m0 -1h2m0 -1h1m0 -1h2m0 -1h1m0 -1h2m0 -1h1m0 -1h2m0 -1h1m0 -1h2m0 -1h1m0 -1h2m0 -1h1m0 -1h2m0 -1h1m0 -1h2m0 -1h1m0 -1h2m0 -1h1m0 -1h2m0 -1h1m0 -1h2m0 -1h1m0 -1h2m0 -1h1m0 -1h2m0 -1h1m0 -1h1m0 -1h2m0 -1h1m0 -1h2m0 -1h1m0 -1h2m0 -1h1m0 -1h2m0 -1h1m0 -1h2m0 -1h1m0 -1h2m0 -1h1m0 -1h2m0 -1h1m0 -1h2m0 -1h1m0 -1h2m0 -1h1m0 -1h2m0 -1h1m0 -1h2m0 -1h1m0 -1h2m0 -1h1m0 -1h2m0 -1h1m0 -1h2m0 -1h1m0 -1h2m0 -1h1m0 -1h2m0 -1h1m0 -1h1m0 -1h2m0 -1h1m0 -1h2m0 -1h1m0 -1h2m0 -1h1m0 -1h2m0 -1h1m0 -1h2m0 -1h1m0 -1h2m0 -1h1m0 -1h2m0 -1h1m0 -1h2m0 -1h1m0 -1h2m0 -1h1m0 -1h2m0 -1h1m0 -1h2m0 -1h1m0 -1h2m0 -1h1m0 -1h2m0 -1h1m0 -1h2m0 -1h1m0 -1h2m0 -1h1m0 -1h2m0 -1h1m0 -1h2m0 -1h1m0 -1h1m0 -1h2m0 -1h1m0 -1h2m0 -1h1m0 -1h2m0 -1h1m0 -1h2m0 -1h1m0 -1h2m0 -1h1m0 -1h2m0 -1h1m0 -1h2m0 -1h1m0 -1h2m0 -1h1m0 -1h2m0 -1h1m0 -1h2m0 -1h1m0 -1h2m0 -1h1m0 -1h2m0 -1h1m0 -1h2m0 -1h1m0 -1h2m0 -1h1m0 -1h2m0 -1h1m0 -1h2m0 -1h1m0 -1h2m0 -1h1m0 -1h1m0 -1h2m0 -1h1m0 -1h2m0 -1h1m0 -1h2m0 -1h1m0 -1h2m0 -1h1m0 -1h2m0 -1h1m0 -1h2m0 -1h1m0 -1h2m0 -1h1m0 -1h2m0 -1h1m0 -1h2m0 -1h1m0 -1h2m0 -1h1m0 -1h2m0 -1h1m0 -1h2m0 -1h1M807 577.5h2m0 -1h2m0 -1h2m0 -1h2m0 -1h2m0 -1h2m0 -1h2m0 -1h2m0 -1h2m0 -1h2m0 -1h1m0 -1h2m0 -1h2m0 -1h2m0 -1h2m0 -1h2m0 -1h2m0 -1h2m0 -1h2m0 -1h2m0 -1h2m0 -1h2m0 -1h2m0 -1h2m0 -1h2m0 -1h2m0 -1h2m0 -1h2m0 -1h2m0 -1h2m0 -1h2m0 -1h2m0 -1h2m0 -1h2m0 -1h2m0 -1h2m0 -1h2m0 -1h2m0 -1h2m0 -1h2m0 -1h2m0 -1h2m0 -1h2m0 -1h2m0 -1h2m0 -1h2m0 -1h2m0 -1h2m0 -1h2m0 -1h2m0 -1h2m0 -1h2m0 -1h2m0 -1h2m0 -1h2m0 -1h2m0 -1h2m0 -1h2m0 -1h2m0 -1h2m0 -1h2m0 -1h2m0 -1h1m0 -1h2m0 -1h2m0 -1h2m0 -1h2m0 -1h2m0 -1h2m0 -1h2m0 -1h2m0 -1h2m0 -1h2m0 -1h2m0 -1h2m0 -1h2m0 -1h2m0 -1h2m0 -1h2m0 -1h2m0 -1h2m0 -1h2m0 -1h2m0 -1h2m0 -1h2m0 -1h2m0 -1h2m0 -1h2m0 -1h2m0 -1h2m0 -1h2m0 -1h2m0 -1h2m0 -1h2m0 -1h2m0 -1h2m0 -1h2m0 -1h2m0 -1h2m0 -1h2m0 -1h2m0 -1h2m0 -1h2m0 -1h2m0 -1h2m0 -1h2m0 -1h2m0 -1h2m0 -1h2m0 -1h2m0 -1h2m0 -1h2m0 -1h2m0 -1h1m0 -1h2m0 -1h2m0 -1h2m0 -1h2m0 -1h2m0 -1h2m0 -1h2m0 -1h2m0 -1h2m0 -1h2m0 -1h2m0 -1h2m0 -1h2m0 -1h2m0 -1h2m0 -1h2m0 -1h2m0 -1h2m0 -1h2m0 -1h2m0 -1h2m0 -1h2m0 -1h2m0 -1h2m0 -1h2m0 -1h2m0 -1h2m0 -1h2m0 -1h2m0 -1h2m0 -1h2m0 -1h2m0 -1h2m0 -1h2m0 -1h2m0 -1h2m0 -1h2m0 -1h2m0 -1h2m0 -1h2m0 -1h2m0 -1h2m0 -1h2m0 -1h2m0 -1h2m0 -1h2m0 -1h2m0 -1h2m0 -1h2m0 -1h2m0 -1h2m0 -1h1m0 -1h2m0 -1h2m0 -1h2m0 -1h2m0 -1h2m0 -1h2m0 -1h2m0 -1h2m0 -1h2m0 -1h2m0 -1h2m0 -1h2m0 -1h2m0 -1h2m0 -1h2m0 -1h2m0 -1h2m0 -1h2m0 -1h2m0 -1h2m0 -1h2m0 -1h2m0 -1h2m0 -1h2m0 -1h2m0 -1h2m0 -1h2m0 -1h2m0 -1h2m0 -1h2m0 -1h2m0 -1h2m0 -1h2m0 -1h2m0 -1h2m0 -1h2m0 -1h2m0 -1h2m0 -1h2m0 -1h2m0 -1h2m0 -1h2m0 -1h2m0 -1h2m0 -1h2m0 -1h2m0 -1h2m0 -1h2m0 -1h2m0 -1h2m0 -1h1m0 -1h2m0 -1h2m0 -1h2m0 -1h2m0 -1h2m0 -1h2m0 -1h2m0 -1h2m0 -1h2m0 -1h2m0 -1h2m0 -1h2m0 -1h2m0 -1h2m0 -1h2m0 -1h2m0 -1h2m0 -1h2m0 -1h2m0 -1h2m0 -1h2m0 -1h2m0 -1h2m0 -1h2m0 -1h2m0 -1h2m0 -1h2m0 -1h2m0 -1h2m0 -1h2m0 -1h2m0 -1h2m0 -1h2m0 -1h2m0 -1h2m0 -1h2m0 -1h2m0 -1h2m0 -1h2m0 -1h2m0 -1h2m0 -1h2m0 -1h2m0 -1h2m0 -1h2m0 -1h2m0 -1h2m0 -1h2m0 -1h2m0 -1h2m0 -1h2m0 -1h1m0 -1h2m0 -1h2m0 -1h2m0 -1h2m0 -1h2m0 -1h2m0 -1h2m0 -1h2m0 -1h2m0 -1h2m0 -1h2m0 -1h2m0 -1h2m0 -1h2m0 -1h2m0 -1h2m0 -1h2m0 -1h2m0 -1h2m0 -1h2m0 -1h2m0 -1h2m0 -1h2m0 -1h2m0 -1h2m0 -1h2m0 -1h2m0 -1h2m0 -1h2m0 -1h2m0 -1h2m0 -1h2m0 -1h2m0 -1h2m0 -1h2m0 -1h2m0 -1h2m0 -1h2m0 -1h2m0 -1h2m0 -1h2m0 -1h2m0 -1h2m0 -1h2m0 -1h2m0 -1h2m0 -1h2m0 -1h2m0 -1h2m0 -1h2m0 -1h1m0 -1h2m0 -1h2m0 -1h2m0 -1h2m0 -1h2m0 -1h2m0 -1h2m0 -1h2m0 -1h2m0 -1h2m0 -1h2m0 -1h2m0 -1h2m0 -1h2m0 -1h2m0 -1h2m0 -1h2m0 -1h2m0 -1h2m0 -1h2m0 -1h2m0 -1h2m0 -1h2m0 -1h2m0 -1h2m0 -1h2m0 -1h2m0 -1h2m0 -1h2m0 -1h2m0 -1h2m0 -1h2m0 -1h2m0 -1h2m0 -1h2m0 -1h2m0 -1h2m0 -1h2m0 -1h2m0 -1h2m0 -1h2m0 -1h2m0 -1h2m0 -1h2m0 -1h2m0 -1h2m0 -1h2m0 -1h2m0 -1h2m0 -1h2m0 -1h2m0 -1h1m0 -1h2m0 -1h2m0 -1h2m0 -1h2m0 -1h2m0 -1h2m0 -1h2m0 -1h2m0 -1h2m0 -1h2m0 -1h2m0 -1h2m0 -1h2m0 -1h2m0 -1h2m0 -1h2m0 -1h2m0 -1h2m0 -1h2m0 -1h2m0 -1h2m0 -1h2m0 -1h2m0 -1h2m0 -1h2m0 -1h2m0 -1h2m0 -1h2m0 -1h2m0 -1h2m0 -1h2m0 -1h2m0 -1h2m0 -1h2m0 -1h2m0 -1h2m0 -1h2m0 -1h2m0 -1h2m0 -1h2m0 -1h2m0 -1h2m0 -1h2m0 -1h2m0 -1h2m0 -1h2m0 -1h2m0 -1h2m0 -1h2m0 -1h2m0 -1h1m0 -1h2m0 -1h2m0 -1h2m0 -1h2m0 -1h2m0 -1h2m0 -1h2m0 -1h2m0 -1h2m0 -1h2m0 -1h2m0 -1h2m0 -1h2m0 -1h2m0 -1h2m0 -1h2m0 -1h2m0 -1h2m0 -1h2m0 -1h2m0 -1h2m0 -1h2m0 -1h2m0 -1h2m0 -1h2m0 -1h2m0 -1h2m0 -1h2m0 -1h2m0 -1h2m0 -1h2m0 -1h2m0 -1h2m0 -1h2m0 -1h2m0 -1h2m0 -1h2m0 -1h2m0 -1h2m0 -1h2m0 -1h2m0 -1h2m0 -1h2m0 -1h2m0 -1h2m0 -1h2m0 -1h2m0 -1h2m0 -1h2m0 -1h2m0 -1h2m0 -1h1m0 -1h2m0 -1h2m0 -1h2m0 -1h2m0 -1h2m0 -1h2m0 -1h2m0 -1h2m0 -1h2m0 -1h2m0 -1h2m0 -1h2m0 -1h2m0 -1h2m0 -1h2m0 -1h2m0 -1h2m0 -1h2m0 -1h1M807 577.5h2m0 -1h3m0 -1h2m0 -1h3m0 -1h3m0 -1h2m0 -1h3m0 -1h3m0 -1h2m0 -1h3m0 -1h2m0 -1h3m0 -1h3m0 -1h2m0 -1h3m0 -1h3m0 -1h2m0 -1h3m0 -1h3m0 -1h2m0 -1h3m0 -1h3m0 -1h2m0 -1h3m0 -1h2m0 -1h3m0 -1h3m0 -1h2m0 -1h3m0 -1h3m0 -1h2m0 -1h3m0 -1h3m0 -1h2m0 -1h3m0 -1h3m0 -1h2m0 -1h3m0 -1h2m0 -1h3m0 -1h3m0 -1h2m0 -1h3m0 -1h3m0 -1h2m0 -1h3m0 -1h3m0 -1h2m0 -1h3m0 -1h2m0 -1h3m0 -1h3m0 -1h2m0 -1h3m0 -1h3m0 -1h2m0 -1h3m0 -1h3m0 -1h2m0 -1h3m0 -1h3m0 -1h2m0 -1h3m0 -1h2m0 -1h3m0 -1h3m0 -1h2m0 -1h3m0 -1h3m0 -1h2m0 -1h3m0 -1h3m0 -1h2m0 -1h3m0 -1h3m0 -1h2m0 -1h3m0 -1h2m0 -1h3m0 -1h3m0 -1h2m0 -1h3m0 -1h3m0 -1h2m0 -1h3m0 -1h3m0 -1h2m0 -1h3m0 -1h2m0 -1h3m0 -1h3m0 -1h2m0 -1h3m0 -1h3m0 -1h2m0 -1h3m0 -1h3m0 -1h2m0 -1h3m0 -1h3m0 -1h2m0 -1h3m0 -1h2m0 -1h3m0 -1h3m0 -1h2m0 -1h3m0 -1h3m0 -1h2m0 -1h3m0 -1h3m0 -1h2m0 -1h3m0 -1h2m0 -1h3m0 -1h3m0 -1h2m0 -1h3m0 -1h3m0 -1h2m0 -1h3m0 -1h3m0 -1h2m0 -1h3m0 -1h3m0 -1h2m0 -1h3m0 -1h2m0 -1h3m0 -1h3m0 -1h2m0 -1h3m0 -1h3m0 -1h2m0 -1h3m0 -1h3m0 -1h2m0 -1h3m0 -1h3m0 -1h2m0 -1h3m0 -1h2m0 -1h3m0 -1h3m0 -1h2m0 -1h3m0 -1h3m0 -1h2m0 -1h3m0 -1h3m0 -1h2m0 -1h3m0 -1h2m0 -1h3m0 -1h3m0 -1h2m0 -1h3m0 -1h3m0 -1h2m0 -1h3m0 -1h3m0 -1h2m0 -1h3m0 -1h3m0 -1h2m0 -1h3m0 -1h2m0 -1h3m0 -1h3m0 -1h2m0 -1h3m0 -1h3m0 -1h2m0 -1h3m0 -1h3m0 -1h2m0 -1h3m0 -1h3m0 -1h2m0 -1h3m0 -1h2m0 -1h3m0 -1h3m0 -1h2m0 -1h3m0 -1h3m0 -1h2m0 -1h3m0 -1h3m0 -1h2m0 -1h3m0 -1h2m0 -1h3m0 -1h3m0 -1h2m0 -1h3m0 -1h3m0 -1h2m0 -1h3m0 -1h3m0 -1h2m0 -1h3m0 -1h3m0 -1h2m0 -1h3m0 -1h2m0 -1h3m0 -1h3m0 -1h2m0 -1h3m0 -1h3m0 -1h2m0 -1h3m0 -1h3m0 -1h2m0 -1h3m0 -1h2m0 -1h3m0 -1h3m0 -1h2m0 -1h3m0 -1h3m0 -1h2m0 -1h3m0 -1h3m0 -1h2m0 -1h3m0 -1h3m0 -1h2m0 -1h3m0 -1h2m0 -1h3m0 -1h3m0 -1h2m0 -1h3m0 -1h3m0 -1h2m0 -1h3m0 -1h3m0 -1h2m0 -1h3m0 -1h3m0 -1h2m0 -1h3m0 -1h2m0 -1h3m0 -1h3m0 -1h2m0 -1h3m0 -1h3m0 -1h2m0 -1h3m0 -1h3m0 -1h2m0 -1h3m0 -1h2m0 -1h3m0 -1h3m0 -1h2m0 -1h3m0 -1h3m0 -1h2m0 -1h3m0 -1h3m0 -1h2m0 -1h3m0 -1h3m0 -1h2m0 -1h3m0 -1h2m0 -1h3m0 -1h3m0 -1h2m0 -1h3m0 -1h3m0 -1h2m0 -1h3m0 -1h3m0 -1h2m0 -1h3m0 -1h3m0 -1h2m0 -1h3m0 -1h2m0 -1h3m0 -1h3m0 -1h2m0 -1h3m0 -1h3m0 -1h2m0 -1h3m0 -1h3m0 -1h2m0 -1h3m0 -1h2m0 -1h3m0 -1h3m0 -1h2m0 -1h3m0 -1h3m0 -1h2m0 -1h3m0 -1h3m0 -1h2m0 -1h3m0 -1h3m0 -1h2m0 -1h3m0 -1h2m0 -1h3m0 -1h3m0 -1h2m0 -1h3m0 -1h3m0 -1h2m0 -1h3m0 -1h3m0 -1h2m0 -1h3m0 -1h2m0 -1h3m0 -1h3m0 -1h2m0 -1h3m0 -1h3m0 -1h2m0 -1h3m0 -1h3m0 -1h2m0 -1h3m0 -1h3m0 -1h2m0 -1h3m0 -1h2m0 -1h3m0 -1h3m0 -1h2m0 -1h3m0 -1h3m0 -1h2m0 -1h3m0 -1h3m0 -1h2m0 -1h3m0 -1h3m0 -1h2m0 -1h3m0 -1h2m0 -1h3m0 -1h3m0 -1h2m0 -1h3m0 -1h3m0 -1h2m0 -1h3m0 -1h3m0 -1h2m0 -1h3m0 -1h2m0 -1h3m0 -1h3m0 -1h2m0 -1h3m0 -1h3m0 -1h2m0 -1h3m0 -1h3m0 -1h2m0 -1h3m0 -1h3M807 577.5h3m0 -1h4m0 -1h4m0 -1h4m0 -1h4m0 -1h4m0 -1h4m0 -1h4m0 -1h4m0 -1h4m0 -1h3m0 -1h4m0 -1h4m0 -1h4m0 -1h4m0 -1h4m0 -1h4m0 -1h4m0 -1h4m0 -1h4m0 -1h4m0 -1h4m0 -1h4m0 -1h4m0 -1h4m0 -1h4m0 -1h4m0 -1h4m0 -1h4m0 -1h4m0 -1h4m0 -1h4m0 -1h4m0 -1h4m0 -1h4m0 -1h4m0 -1h3m0 -1h4m0 -1h4m0 -1h4m0 -1h4m0 -1h4m0 -1h4m0 -1h4m0 -1h4m0 -1h4m0 -1h4m0 -1h4m0 -1h4m0 -1h4m0 -1h4m0 -1h4m0 -1h4m0 -1h4m0 -1h4m0 -1h4m0 -1h4m0 -1h4m0 -1h4m0 -1h4m0 -1h4m0 -1h4m0 -1h3m0 -1h4m0 -1h4m0 -1h4m0 -1h4m0 -1h4m0 -1h4m0 -1h4m0 -1h4m0 -1h4m0 -1h4m0 -1h4m0 -1h4m0 -1h4m0 -1h4m0 -1h4m0 -1h4m0 -1h4m0 -1h4m0 -1h4m0 -1h4m0 -1h4m0 -1h4m0 -1h4m0 -1h4m0 -1h3m0 -1h4m0 -1h4m0 -1h4m0 -1h4m0 -1h4m0 -1h4m0 -1h4m0 -1h4m0 -1h4m0 -1h4m0 -1h4m0 -1h4m0 -1h4m0 -1h4m0 -1h4m0 -1h4m0 -1h4m0 -1h4m0 -1h4m0 -1h4m0 -1h4m0 -1h4m0 -1h4m0 -1h4m0 -1h4m0 -1h3m0 -1h4m0 -1h4m0 -1h4m0 -1h4m0 -1h4m0 -1h4m0 -1h4m0 -1h4m0 -1h4m0 -1h4m0 -1h4m0 -1h4m0 -1h4m0 -1h4m0 -1h4m0 -1h4m0 -1h4m0 -1h4m0 -1h4m0 -1h4m0 -1h4m0 -1h4m0 -1h4m0 -1h4m0 -1h4m0 -1h3m0 -1h4m0 -1h4m0 -1h4m0 -1h4m0 -1h4m0 -1h4m0 -1h4m0 -1h4m0 -1h4m0 -1h4m0 -1h4m0 -1h4m0 -1h4m0 -1h4m0 -1h4m0 -1h4m0 -1h4m0 -1h4m0 -1h4m0 -1h4m0 -1h4m0 -1h4m0 -1h4m0 -1h4m0 -1h4m0 -1h3m0 -1h4m0 -1h4m0 -1h4m0 -1h4m0 -1h4m0 -1h4m0 -1h4m0 -1h4m0 -1h4m0 -1h4m0 -1h4m0 -1h4m0 -1h4m0 -1h4m0 -1h4m0 -1h4m0 -1h4m0 -1h4m0 -1h4m0 -1h4m0 -1h4m0 -1h4m0 -1h4m0 -1h4m0 -1h4m0 -1h3m0 -1h4m0 -1h4m0 -1h4m0 -1h4m0 -1h4m0 -1h4m0 -1h4m0 -1h4m0 -1h4m0 -1h4m0 -1h4m0 -1h4m0 -1h4m0 -1h4m0 -1h4m0 -1h4m0 -1h4m0 -1h4m0 -1h4m0 -1h4m0 -1h4m0 -1h4m0 -1h4m0 -1h4m0 -1h3m0 -1h4m0 -1h4m0 -1h4m0 -1h4m0 -1h4m0 -1h4m0 -1h4m0 -1h4m0 -1h4m0 -1h4m0 -1h4m0 -1h4m0 -1h4m0 -1h4m0 -1h4m0 -1h4m0 -1h4m0 -1h4m0 -1h4m0 -1h4m0 -1h4m0 -1h4m0 -1h4m0 -1h4m0 -1h4m0 -1h3m0 -1h4m0 -1h4m0 -1h4m0 -1h4M807 577.5h4m0 -1h6m0 -1h6m0 -1h6m0 -1h6m0 -1h6m0 -1h6m0 -1h6m0 -1h6m0 -1h6m0 -1h5m0 -1h6m0 -1h6m0 -1h6m0 -1h6m0 -1h6m0 -1h6m0 -1h6m0 -1h6m0 -1h6m0 -1h6m0 -1h6m0 -1h6m0 -1h6m0 -1h6m0 -1h6m0 -1h6m0 -1h5m0 -1h6m0 -1h6m0 -1h6m0 -1h6m0 -1h6m0 -1h6m0 -1h6m0 -1h6m0 -1h6m0 -1h6m0 -1h6m0 -1h6m0 -1h6m0 -1h6m0 -1h6m0 -1h6m0 -1h6m0 -1h5m0 -1h6m0 -1h6m0 -1h6m0 -1h6m0 -1h6m0 -1h6m0 -1h6m0 -1h6m0 -1h6m0 -1h6m0 -1h6m0 -1h6m0 -1h6m0 -1h6m0 -1h6m0 -1h6m0 -1h5m0 -1h6m0 -1h6m0 -1h6m0 -1h6m0 -1h6m0 -1h6m0 -1h6m0 -1h6m0 -1h6m0 -1h6m0 -1h6m0 -1h6m0 -1h6m0 -1h6m0 -1h6m0 -1h6m0 -1h5m0 -1h6m0 -1h6m0 -1h6m0 -1h6m0 -1h6m0 -1h6m0 -1h6m0 -1h6m0 -1h6m0 -1h6m0 -1h6m0 -1h6m0 -1h6m0 -1h6m0 -1h6m0 -1h6m0 -1h5m0 -1h6m0 -1h6m0 -1h6m0 -1h6m0 -1h6m0 -1h6m0 -1h6m0 -1h6m0 -1h6m0 -1h6m0 -1h6m0 -1h6m0 -1h6m0 -1h6m0 -1h6m0 -1h6m0 -1h5m0 -1h6m0 -1h6m0 -1h6m0 -1h6m0 -1h6m0 -1h6m0 -1h6m0 -1h6m0 -1h6m0 -1h6m0 -1h6m0 -1h6m0 -1h6m0 -1h6m0 -1h6m0 -1h6m0 -1h5m0 -1h6m0 -1h6m0 -1h6m0 -1h6m0 -1h6m0 -1h6m0 -1h6m0 -1h6m0 -1h6m0 -1h6m0 -1h6m0 -1h6m0 -1h6m0 -1h6m0 -1h6m0 -1h6m0 -1h6m0 -1h5m0 -1h6m0 -1h6m0 -1h6m0 -1h6m0 -1h6m0 -1h6m0 -1h6m0 -1h6m0 -1h6m0 -1h6m0 -1h6m0 -1h6m0 -1h6m0 -1h6m0 -1h6m0 -1h4M807 577.5h5m0 -1h8m0 -1h8m0 -1h8m0 -1h8m0 -1h8m0 -1h8m0 -1h8m0 -1h8m0 -1h8m0 -1h7m0 -1h8m0 -1h8m0 -1h8m0 -1h8m0 -1h8m0 -1h8m0 -1h8m0 -1h8m0 -1h8m0 -1h8m0 -1h8m0 -1h8m0 -1h7m0 -1h8m0 -1h8m0 -1h8m0 -1h8m0 -1h8m0 -1h8m0 -1h8m0 -1h8m0 -1h8m0 -1h8m0 -1h8m0 -1h8m0 -1h7m0 -1h8m0 -1h8m0 -1h8m0 -1h8m0 -1h8m0 -1h8m0 -1h8m0 -1h8m0 -1h8m0 -1h8m0 -1h8m0 -1h8m0 -1h7m0 -1h8m0 -1h8m0 -1h8m0 -1h8m0 -1h8m0 -1h8m0 -1h8m0 -1h8m0 -1h8m0 -1h8m0 -1h8m0 -1h8m0 -1h7m0 -1h8m0 -1h8m0 -1h8m0 -1h8m0 -1h8m0 -1h8m0 -1h8m0 -1h8m0 -1h8m0 -1h8m0 -1h8m0 -1h8m0 -1h7m0 -1h8m0 -1h8m0 -1h8m0 -1h8m0 -1h8m0 -1h8m0 -1h8m0 -1h8m0 -1h8m0 -1h8m0 -1h8m0 -1h7m0 -1h8m0 -1h8m0 -1h8m0 -1h8m0 -1h8m0 -1h8m0 -1h8m0 -1h8m0 -1h8m0 -1h8m0 -1h8m0 -1h8m0 -1h7m0 -1h8m0 -1h8m0 -1h8m0 -1h8m0 -1h8m0 -1h8m0 -1h8m0 -1h8m0 -1h8m0 -1h8m0 -1h8m0 -1h8m0 -1h7m0 -1h8m0 -1h8m0 -1h8m0 -1h8m0 -1h8m0 -1h8m0 -1h8m0 -1h8m0 -1h8m0 -1h5"/>
<path stroke="#ff0000" d="M76.5 640v1m1 -3v2m1 -4v2m1 -4v2m1 -3v1m1 -3v2m1 -4v2m1 -4v2m1 -3v1m1 -3v2m1 -4v2m1 -4v2m1 -4v2m1 -3v1m1 -3v2m1 -4v2m1 -4v2m1 -4v2m1 -3v1m1 -3v2m1 -4v2m1 -4v2m1 -3v1m1 -3v2m1 -4v2m1 -4v2m1 -4v2m1 -3v1m1 -3v2m1 -4v2m1 -4v2m1 -4v2m1 -3v1m1 -3v2m1 -4v2m1 -4v2m1 -3v1m1 -3v2m1 -4v2m1 -4v2m1 -4v2m1 -3v1m1 -3v2m1 -4v2m1 -4v2m1 -4v2m1 -3v1m1 -3v2m1 -4v2m1 -4v2m1 -3v1m1 -3v2m1 -4v2m1 -4v2m1 -4v2m1 -3v1m1 -3v2m1 -4v2m1 -4v2m1 -4v2m1 -3v1m1 -3v2m1 -4v2m1 -4v2m1 -4v2m1 -3v1m1 -3v2m1 -4v2m1 -4v2m1 -3v1m1 -3v2m1 -4v2m1 -4v2m1 -4v2m1 -3v1m1 -3v2m1 -4v2m1 -4v2m1 -4v2m1 -3v1m1 -3v2m1 -4v2m1 -4v2m1 -3v1m1 -3v2m1 -4v2m1 -4v2m1 -4v2m1 -3v1m1 -3v2m1 -4v2m1 -4v2m1 -4v2m1 -3v1m1 -3v2m1 -4v2m1 -4v2m1 -3v1m1 -3v2m1 -4v2m1 -4v2m1 -4v2m1 -3v1m1 -3v2m1 -4v2m1 -4v2m1 -4v2m1 -3v1m1 -3v2m1 -4v2m1 -4v2m1 -3v1m1 -3v2m1 -4v2m1 -4v2m1 -4v2m1 -3v1m1 -3v2m1 -4v2m1 -4v2m1 -4v2m1 -3v1m1 -3v2m1 -4v2m1 -4v2m1 -3v1m1 -3v2m1 -4v2m1 -4v2m1 -4v2m1 -3v1m1 -3v2m1 -4v2m1 -4v2m1 -4v2m1 -3v1m1 -3v2m1 -4v2m1 -4v2m1 -3v1m1 -3v2m1 -4v2m1 -4v2m1 -4v2m1 -3v1m1 -3v2m1 -4v2m1 -4v2m1 -4v2m1 -3v1m1 -3v2m1 -4v2m1 -4v2m1 -3v1m1 -3v2m1 -4v2m1 -4v2m1 -4v2m1 -3v1m1 -3v2m1 -4v2m1 -4v2m1 -4v2m1 -3v1m1 -3v2m1 -4v2m1 -4v2m1 -4v2m1 -3v1m1 -3v2m1 -4v2m1 -4v2m1 -3v1m1 -3v2m1 -4v2m1 -4v2m1 -4v2m1 -3v1m1 -3v2m1 -4v2m1 -4v2m1 -4v2m1 -3v1m1 -3v2m1 -4v2m1 -4v2m1 -3v1m1 -3v2m1 -4v2m1 -4v2m1 -4v2m1 -3v1m1 -3v2m1 -4v2m1 -4v2m1 -4v2m1 -3v1m1 -3v2m1 -4v2m1 -4v2m1 -3v1m1 -3v2m1 -4v2m1 -4v2m1 -4v2m1 -3v1m1 -3v2m1 -4v2m1 -4v2m1 -4v2m1 -3v1m1 -3v2m1 -4v2m1 -4v2m1 -3v1m1 -3v2m1 -4v2m1 -4v2m1 -4v2m1 -3v1m1 -3v2m1 -4v2m1 -4v2m1 -4v2m1 -3v1m1 -3v2m1 -4v2m1 -4v2m1 -3v1m1 -3v2m1 -4v2m1 -4v2m1 -4v2m1 -3v1m1 -3v2m1 -4v2m1 -4v2m1 -4v2m1 -3v1m1 -3v2m1 -4v2m1 -4v2m1 -3v1m1 -3v2m1 -4v2m1 -4v2m1 -4v2m1 -3v1m1 -3v2m1 -4v2m1 -4v2m1 -4v2m1 -3v1m1 -3v2m1 -4v2m1 -4v2m1 -3v1m1 -3v2m1 -4v2m1 -4v2m1 -4v2m1 -3v1m1 -3v2m1 -4v2m1 -4v2m1 -4v2m1 -3v1m1 -3v2m1 -4v2m1 -4v2m1 -3v1m1 -3v2m1 -4v2m1 -4v2m1 -4v2m1 -3v1m1 -3v2m1 -4v2m1 -4v2m1 -4v2m1 -3v1m1 -3v2m1 -4v2m1 -4v2m1 -4v2m1 -3v1m1 -3v2m1 -4v2m1 -4v2m1 -3v1m1 -3v2m1 -4v2m1 -4v2m1 -4v2m1 -3v1m1 -3v2m1 -4v2m1 -4v2m1 -4v2m1 -3v1m1 -3v2m1 -4v2m1 -4v2m1 -3v1m1 -3v2m1 -4v2m1 -4v2m1 -4v2m1 -3v1m1 -3v2m1 -4v2m1 -4v2m1 -4v2m1 -3v1m1 -3v2m1 -4v2m1 -4v2m1 -3v1m1 -3v2m1 -4v2m1 -4v2m1 -4v2m1 -3v1m1 -3v2m1 -4v2m1 -4v2m1 -4v2m1 -3v1m1 -3v2m1 -4v2m1 -4v2m1 -3v1m1 -3v2m1 -4v2m1 -4v2m1 -4v2m1 -3v1m1 -3v2m1 -4v2m1 -4v2m1 -4v2m1 -3v1m1 -3v2m1 -4v2m1 -4v2m1 -3v1m1 -3v2m1 -4v2m1 -4v2m1 -4v2m1 -3v1m1 -3v2m1 -4v2m1 -4v2M76 640.5h1m0 -1h2m0 -1h1m0 -1h1m0 -1h1m0 -1h1m0 -1h1m0 -1h1m0 -1h1m0 -1h1m0 -1h2m0 -1h1m0 -1h1m0 -1h1m0 -1h1m0 -1h1m0 -1h1m0 -1h1m0 -1h2m0 -1h1m0 -1h1m0 -1h1m0 -1h1m0 -1h1m0 -1h1m0 -1h1m0 -1h2m0 -1h1m0 -1h1m0 -1h1m0 -1h1m0 -1h1m0 -1h1m0 -1h1m0 -1h1m0 -1h2m0 -1h1m0 -1h1m0 -1h1m0 -1h1m0 -1h1m0 -1h1m0 -1h1m0 -1h2m0 -1h1m0 -1h1m0 -1h1m0 -1h1m0 -1h1m0 -1h1m0 -1h1m0 -1h2m0 -1h1m0 -1h1m0 -1h1m0 -1h1m0 -1h1m0 -1h1m0 -1h1m0 -1h1m0 -1h2m0 -1h1m0 -1h1m0 -1h1m0 -1h1m0 -1h1m0 -1h1m0 -1h1m0 -1h2m0 -1h1m0 -1h1m0 -1h1m0 -1h1m0 -1h1m0 -1h1m0 -1h1m0 -1h1m0 -1h2m0 -1h1m0 -1h1m0 -1h1m0 -1h1m0 -1h1m0 -1h1m0 -1h1m0 -1h2m0 -1h1m0 -1h1m0 -1h1m0 -1h1m0 -1h1m0 -1h1m0 -1h1m0 -1h2m0 -1h1m0 -1h1m0 -1h1m0 -1h1m0 -1h1m0 -1h1m0 -1h1m0 -1h1m0 -1h2m0 -1h1m0 -1h1m0 -1h1m0 -1h1m0 -1h1m0 -1h1m0 -1h1m0 -1h2m0 -1h1m0 -1h1m0 -1h1m0 -1h1m0 -1h1m0 -1h1m0 -1h1m0 -1h2m0 -1h1m0 -1h1m0 -1h1m0 -1h1m0 -1h1m0 -1h1m0 -1h1m0 -1h1m0 -1h2m0 -1h1m0 -1h1m0 -1h1m0 -1h1m0 -1h1m0 -1h1m0 -1h1m0 -1h2m0 -1h1m0 -1h1m0 -1h1m0 -1h1m0 -1h1m0 -1h1m0 -1h1m0 -1h2m0 -1h1m0 -1h1m0 -1h1m0 -1h1m0 -1h1m0 -1h1m0 -1h1m0 -1h1m0 -1h2m0 -1h1m0 -1h1m0 -1h1m0 -1h1m0 -1h1m0 -1h1m0 -1h1m0 -1h2m0 -1h1m0 -1h1m0 -1h1m0 -1h1m0 -1h1m0 -1h1m0 -1h1m0 -1h1m0 -1h2m0 -1h1m0 -1h1m0 -1h1m0 -1h1m0 -1h1m0 -1h1m0 -1h1m0 -1h2m0 -1h1m0 -1h1m0 -1h1m0 -1h1m0 -1h1m0 -1h1m0 -1h1m0 -1h2m0 -1h1m0 -1h1m0 -1h1m0 -1h1m0 -1h1m0 -1h1m0 -1h1m0 -1h1m0 -1h2m0 -1h1m0 -1h1m0 -1h1m0 -1h1m0 -1h1m0 -1h1m0 -1h1m0 -1h2m0 -1h1m0 -1h1m0 -1h1m0 -1h1m0 -1h1m0 -1h1m0 -1h1m0 -1h2m0 -1h1m0 -1h1m0 -1h1m0 -1h1m0 -1h1m0 -1h1m0 -1h1m0 -1h1m0 -1h2m0 -1h1m0 -1h1m0 -1h1m0 -1h1m0 -1h1m0 -1h1m0 -1h1m0 -1h2m0 -1h1m0 -1h1m0 -1h1m0 -1h1m0 -1h1m0 -1h1m0 -1h1m0 -1h2m0 -1h1m0 -1h1m0 -1h1m0 -1h1m0 -1h1m0 -1h1m0 -1h1m0 -1h1m0 -1h2m0 -1h1m0 -1h1m0 -1h1m0 -1h1m0 -1h1m0 -1h1m0 -1h1m0 -1h2m0 -1h1m0 -1h1m0 -1h1m0 -1h1m0 -1h1m0 -1h1m0 -1h1m0 -1h1m0 -1h2m0 -1h1m0 -1h1m0 -1h1m0 -1h1m0 -1h1m0 -1h1m0 -1h1m0 -1h2m0 -1h1m0 -1h1m0 -1h1m0 -1h1m0 -1h1m0 -1h1m0 -1h1m0 -1h2m0 -1h1m0 -1h1m0 -1h1m0 -1h1m0 -1h1m0 -1h1m0 -1h1m0 -1h1m0 -1h2m0 -1h1m0 -1h1m0 -1h1m0 -1h1m0 -1h1m0 -1h1m0 -1h1m0 -1h2m0 -1h1m0 -1h1m0 -1h1m0 -1h1m0 -1h1m0 -1h1m0 -1h1m0 -1h2m0 -1h1m0 -1h1m0 -1h1m0 -1h1m0 -1h1m0 -1h1m0 -1h1m0 -1h1m0 -1h2m0 -1h1m0 -1h1m0 -1h1m0 -1h1m0 -1h1m0 -1h1m0 -1h1m0 -1h2m0 -1h1m0 -1h1m0 -1h1m0 -1h1m0 -1h1m0 -1h1m0 -1h1m0 -1h2m0 -1h1m0 -1h1m0 -1h1m0 -1h1m0 -1h1m0 -1h1m0 -1h1m0 -1h1m0 -1h2m0 -1h1m0 -1h1m0 -1h1m0 -1h1m0 -1h1m0 -1h1m0 -1h1m0 -1h2m0 -1h1m0 -1h1m0 -1h1m0 -1h1m0 -1h1m0 -1h1m0 -1h1m0 -1h1m0 -1h2m0 -1h1m0 -1h1m0 -1h1m0 -1h1m0 -1h1m0 -1h1m0 -1h1m0 -1h2m0 -1h1m0 -1h1m0 -1h1m0 -1h1m0 -1h1m0 -1h1m0 -1h1m0 -1h2m0 -1h1m0 -1h1m0 -1h1m0 -1h1m0 -1h1m0 -1h1m0 -1h1m0 -1h1m0 -1h2m0 -1h1m0 -1h1m0 -1h1m0 -1h1m0 -1h1m0 -1h1m0 -1h1m0 -1h2m0 -1h1m0 -1h1m0 -1h1m0 -1h1m0 -1h1m0 -1h1m0 -1h1m0 -1h2m0 -1h1m0 -1h1m0 -1h1m0 -1h1m0 -1h1m0 -1h1m0 -1h1m0 -1h1m0 -1h2m0 -1h1m0 -1h1m0 -1h1m0 -1h1m0 -1h1m0 -1h1m0 -1h1m0 -1h2m0 -1h1m0 -1h1m0 -1h1m0 -1h1m0 -1h1m0 -1h1m0 -1h1m0 -1h2m0 -1h1m0 -1h1m0 -1h1m0 -1h1m0 -1h1m0 -1h1m0 -1h1m0 -1h1m0 -1h2m0 -1h1m0 -1h1m0 -1h1m0 -1h1m0 -1h1m0 -1h1m0 -1h1m0 -1h2m0 -1h1m0 -1h1m0 -1h1m0 -1h1m0 -1h1m0 -1h1m0 -1h1m0 -1h1m0 -1h2m0 -1h1m0 -1h1m0 -1h1m0 -1h1m0 -1h1m0 -1h1m0 -1h1m0 -1h2m0 -1h1m0 -1h1m0 -1h1m0 -1h1m0 -1h1m0 -1h1m0 -1h1m0 -1h2m0 -1h1m0 -1h1m0 -1h1m0 -1h1m0 -1h1m0 -1h1m0 -1h1m0 -1h1m0 -1h2m0 -1h1m0 -1h1m0 -1h1m0 -1h1m0 -1h1m0 -1h1m0 -1h1m0 -1h2m0 -1h1m0 -1h1m0 -1h1m0 -1h1m0 -1h1m0 -1h1m0 -1h1m0 -1h2m0 -1h1m0 -1h1m0 -1h1m0 -1h1m0 -1h1m0 -1h1m0 -1h1m0 -1h1m0 -1h2m0 -1h1m0 -1h1m0 -1h1m0 -1h1m0 -1h1m0 -1h1m0 -1h1m0 -1h2m0 -1h1m0 -1h1m0 -1h1m0 -1h1m0 -1h1m0 -1h1m0 -1h1m0 -1h2m0 -1h1m0 -1h1m0 -1h1m0 -1h1m0 -1h1m0 -1h1m0 -1h1m0 -1h1m0 -1h2m0 -1h1m0 -1h1m0 -1h1m0 -1h1m0 -1h1m0 -1h1m0 -1h1m0 -1h2m0 -1h1m0 -1h1m0 -1h1m0 -1h1m0 -1h1m0 -1h1m0 -1h1m0 -1h1m0 -1h2m0 -1h1m0 -1h1m0 -1h1m0 -1h1m0 -1h1m0 -1h1m0 -1h1m0 -1h2m0 -1h1m0 -1h1m0 -1h1m0 -1h1m0 -1h1m0 -1h1m0 -1h1m0 -1h2m0 -1h1m0 -1h1m0 -1h1m0 -1h1m0 -1h1m0 -1h1m0 -1h1m0 -1h1m0 -1h2m0 -1h1m0 -1h1m0 -1h1m0 -1h1m0 -1h1m0 -1h1m0 -1h1m0 -1h2m0 -1h1m0 -1h1m0 -1h1m0 -1h1m0 -1h1m0 -1h1m0 -1h1m0 -1h2m0 -1h1m0 -1h1m0 -1h1m0 -1h1m0 -1h1m0 -1h1m0 -1h1m0 -1h1m0 -1h2m0 -1h1m0 -1h1m0 -1h1m0 -1h1m0 -1h1m0 -1h1m0 -1h1m0 -1h2m0 -1h1m0 -1h1m0 -1h1m0 -1h1m0 -1h1m0 -1h1m0 -1h1m0 -1h2m0 -1h1m0 -1h1m0 -1h1m0 -1h1m0 -1h1m0 -1h1m0 -1h1m0 -1h1m0 -1h2m0 -1h1m0 -1h1m0 -1h1m0 -1h1m0 -1h1m0 -1h1m0 -1h1m0 -1h2m0 -1h1m0 -1h1m0 -1h1m0 -1h1m0 -1h1m0 -1h1m0 -1h1m0 -1h1m0 -1h2m0 -1h1m0 -1h1M807.5 577v1m1 -3v2m1 -4v2m1 -4v2m1 -4v2m1 -5v3m1 -5v2m1 -4v2m1 -4v2m1 -4v2m1 -4v2m1 -4v2m1 -4v2m1 -4v2m1 -4v2m1 -4v2m1 -4v2m1 -4v2m1 -4v2m1 -4v2m1 -4v2m1 -4v2m1 -4v2m1 -4v2m1 -4v2m1 -4v2m1 -4v2m1 -4v2m1 -4v2m1 -4v2m1 -4v2m1 -4v2m1 -4v2m1 -4v2m1 -4v2m1 -4v2m1 -4v2m1 -4v2m1 -4v2m1 -4v2m1 -4v2m1 -4v2m1 -4v2m1 -4v2m1 -4v2m1 -4v2m1 -4v2m1 -4v2m1 -4v2m1 -4v2m1 -4v2m1 -4v2m1 -4v2m1 -4v2m1 -4v2m1 -4v2m1 -5v3m1 -5v2m1 -4v2m1 -4v2m1 -4v2m1 -4v2m1 -4v2m1 -4v2m1 -4v2m1 -4v2m1 -4v2m1 -4v2m1 -4v2m1 -4v2m1 -4v2m1 -4v2m1 -4v2m1 -4v2m1 -4v2m1 -4v2m1 -4v2m1 -4v2m1 -4v2m1 -4v2m1 -4v2m1 -4v2m1 -4v2m1 -4v2m1 -4v2m1 -4v2m1 -4v2m1 -4v2m1 -4v2m1 -4v2m1 -4v2m1 -4v2m1 -4v2m1 -4v2m1 -4v2m1 -4v2m1 -4v2m1 -4v2m1 -4v2m1 -4v2m1 -4v2m1 -4v2m1 -4v2m1 -4v2m1 -4v2m1 -4v2m1 -4v2m1 -5v3m1 -5v2m1 -4v2m1 -4v2m1 -4v2m1 -4v2m1 -4v2m1 -4v2m1 -4v2m1 -4v2m1 -4v2m1 -4v2m1 -4v2m1 -4v2m1 -4v2m1 -4v2m1 -4v2m1 -4v2m1 -4v2m1 -4v2m1 -4v2m1 -4v2m1 -4v2m1 -4v2m1 -4v2m1 -4v2m1 -4v2m1 -4v2m1 -4v2m1 -4v2m1 -4v2m1 -4v2m1 -4v2m1 -4v2m1 -4v2m1 -4v2m1 -4v2m1 -4v2m1 -4v2m1 -4v2m1 -4v2m1 -4v2m1 -4v2m1 -4v2m1 -4v2m1 -4v2m1 -4v2m1 -4v2m1 -4v2m1 -4v2m1 -4v2m1 -5v3m1 -5v2m1 -4v2m1 -4v2m1 -4v2m1 -4v2m1 -4v2m1 -4v2m1 -4v2m1 -4v2m1 -4v2m1 -4v2m1 -4v2m1 -4v2m1 -4v2m1 -4v2m1 -4v2m1 -4v2m1 -4v2m1 -4v2m1 -4v2m1 -4v2m1 -4v2m1 -4v2m1 -4v2m1 -4v2m1 -4v2m1 -4v2m1 -4v2m1 -4v2m1 -4v2m1 -4v2m1 -4v2m1 -4v2m1 -4v2m1 -4v2m1 -4v2m1 -4v2m1 -4v2m1 -4v2m1 -4v2m1 -4v2m1 -4v2m1 -4v2m1 -4v2m1 -4v2m1 -4v2m1 -4v2m1 -4v2m1 -4v2m1 -4v2m1 -5v3m1 -5v2m1 -4v2m1 -4v2m1 -4v2m1 -4v2m1 -4v2m1 -4v2m1 -4v2m1 -4v2m1 -4v2m1 -4v2m1 -4v2m1 -4v2m1 -4v2m1 -4v2m1 -4v2m1 -4v2m1 -4v2m1 -4v2m1 -4v2m1 -4v2m1 -4v2m1 -4v2m1 -4v2m1 -4v2m1 -4v2m1 -4v2m1 -4v2m1 -4v2m1 -4v2m1 -4v2m1 -4v2m1 -4v2m1 -4v2m1 -4v2m1 -4v2m1 -4v2m1 -4v2m1 -4v2m1 -4v2m1 -4v2m1 -4v2m1 -4v2m1 -4v2m1 -4v2m1 -4v2m1 -4v2m1 -4v2m1 -4v2m1 -4v2m1 -5v3m1 -5v2m1 -4v2m1 -4v2m1 -4v2m1 -4v2m1 -4v2m1 -4v2m1 -4v2m1 -4v2m1 -4v2m1 -4v2m1 -4v2m1 -4v2m1 -4v2m1 -4v2m1 -4v2m1 -4v2m1 -4v2m1 -4v2m1 -4v2m1 -4v2M807.5 577v1m1 -2v1m1 -2v1m1 -2v1m1 -2v1m1 -2v1m1 -2v1m1 -2v1m1 -2v1m1 -2v1m1 -2v1m1 -2v1m1 -2v1m1 -2v1m1 -2v1m1 -2v1m1 -2v1m1 -2v1m1 -2v1m1 -2v1m1 -2v1m1 -2v1m1 -2v1m1 -2v1m1 -2v1m1 -2v1m1 -2v1m1 -2v1m1 -2v1m1 -2v1m1 -2v1m1 -2v1m1 -2v1m1 -2v1m1 -2v1m1 -2v1m1 -2v1m1 -2v1m1 -2v1m1 -2v1m1 -2v1m1 -2v1m1 -2v1m1 -2v1m1 -2v1m1 -2v1m1 -2v1m1 -2v1m1 -2v1m1 -2v1m1 -2v1m1 -2v1m1 -2v1m1 -2v1m1 -2v1m1 -2v1m1 -2v1m1 -2v1m1 -2v1m1 -2v1m1 -2v1m1 -3v2m1 -3v1m1 -2v1m1 -2v1m1 -2v1m1 -2v1m1 -2v1m1 -2v1m1 -2v1m1 -2v1m1 -2v1m1 -2v1m1 -2v1m1 -2v1m1 -2v1m1 -2v1m1 -2v1m1 -2v1m1 -2v1m1 -2v1m1 -2v1m1 -2v1m1 -2v1m1 -2v1m1 -2v1m1 -2v1m1 -2v1m1 -2v1m1 -2v1m1 -2v1m1 -2v1m1 -2v1m1 -2v1m1 -2v1m1 -2v1m1 -2v1m1 -2v1m1 -2v1m1 -2v1m1 -2v1m1 -2v1m1 -2v1m1 -2v1m1 -2v1m1 -2v1m1 -2v1m1 -2v1m1 -2v1m1 -2v1m1 -2v1m1 -2v1m1 -2v1m1 -2v1m1 -2v1m1 -2v1m1 -2v1m1 -2v1m1 -2v1m1 -2v1m1 -2v1m1 -2v1m1 -2v1m1 -2v1m1 -2v1m1 -2v1m1 -2v1m1 -2v1m1 -2v1m1 -2v1m1 -2v1m1 -2v1m1 -2v1m1 -2v1m1 -2v1m1 -2v1m1 -2v1m1 -2v1m1 -2v1m1 -2v1m1 -2v1m1 -2v1m1 -2v1m1 -2v1m1 -2v1m1 -2v1m1 -2v1m1 -2v1m1 -2v1m1 -2v1m1 -2v1m1 -2v1m1 -2v1m1 -2v1m1 -2v1m1 -2v1m1 -2v1m1 -2v1m1 -2v1m1 -2v1m1 -2v1m1 -2v1m1 -2v1m1 -3v2m1 -3v1m1 -2v1m1 -2v1m1 -2v1m1 -2v1m1 -2v1m1 -2v1m1 -2v1m1 -2v1m1 -2v1m1 -2v1m1 -2v1m1 -2v1m1 -2v1m1 -2v1m1 -2v1m1 -2v1m1 -2v1m1 -2v1m1 -2v1m1 -2v1m1 -2v1m1 -2v1m1 -2v1m1 -2v1m1 -2v1m1 -2v1m1 -2v1m1 -2v1m1 -2v1m1 -2v1m1 -2v1m1 -2v1m1 -2v1m1 -2v1m1 -2v1m1 -2v1m1 -2v1m1 -2v1m1 -2v1m1 -2v1m1 -2v1m1 -2v1m1 -2v1m1 -2v1m1 -2v1m1 -2v1m1 -2v1m1 -2v1m1 -2v1m1 -2v1m1 -2v1m1 -2v1m1 -2v1m1 -2v1m1 -2v1m1 -2v1m1 -2v1m1 -2v1m1 -2v1m1 -2v1m1 -2v1m1 -2v1m1 -2v1m1 -2v1m1 -2v1m1 -2v1m1 -2v1m1 -2v1m1 -2v1m1 -2v1m1 -2v1m1 -2v1m1 -2v1m1 -2v1m1 -2v1m1 -2v1m1 -2v1m1 -2v1m1 -2v1m1 -2v1m1 -2v1m1 -2v1m1 -2v1m1 -2v1m1 -2v1m1 -2v1m1 -2v1m1 -2v1m1 -2v1m1 -2v1m1 -2v1m1 -2v1m1 -2v1m1 -2v1m1 -2v1m1 -2v1m1 -2v1m1 -2v1m1 -2v1m1 -2v1m1 -3v2m1 -3v1m1 -2v1m1 -2v1m1 -2v1m1 -2v1m1 -2v1m1 -2v1m1 -2v1m1 -2v1m1 -2v1m1 -2v1m1 -2v1m1 -2v1m1 -2v1m1 -2v1m1 -2v1m1 -2v1m1 -2v1m1 -2v1m1 -2v1m1 -2v1m1 -2v1m1 -2v1m1 -2v1m1 -2v1m1 -2v1m1 -2v1m1 -2v1m1 -2v1m1 -2v1m1 -2v1m1 -2v1m1 -2v1m1 -2v1m1 -2v1m1 -2v1m1 -2v1m1 -2v1m1 -2v1m1 -2v1m1 -2v1m1 -2v1m1 -2v1m1 -2v1m1 -2v1m1 -2v1m1 -2v1m1 -2v1m1 -2v1m1 -2v1m1 -2v1m1 -2v1m1 -2v1m1 -2v1m1 -2v1m1 -2v1m1 -2v1m1 -2v1m1 -2v1m1 -2v1m1 -2v1m1 -2v1m1 -2v1m1 -2v1m1 -2v1m1 -2v1m1 -2v1m1 -2v1m1 -2v1m1 -2v1m1 -2v1m1 -2v1m1 -2v1m1 -2v1m1 -2v1m1 -2v1m1 -2v1m1 -2v1m1 -2v1m1 -2v1m1 -2v1m1 -2v1m1 -2v1m1 -2v1m1 -2v1m1 -2v1m1 -2v1m1 -2v1m1 -2v1m1 -2v1m1 -2v1m1 -2v1m1 -2v1m1 -2v1m1 -2v1m1 -2v1m1 -2v1m1 -2v1m1 -2v1m1 -2v1m1 -2v1m1 -3v2m1 -3v1m1 -2v1m1 -2v1m1 -2v1m1 -2v1m1 -2v1m1 -2v1m1 -2v1m1 -2v1m1 -2v1m1 -2v1m1 -2v1m1 -2v1m1 -2v1m1 -2v1m1 -2v1m1 -2v1m1 -2v1m1 -2v1m1 -2v1m1 -2v1m1 -2v1m1 -2v1m1 -2v1m1 -2v1m1 -2v1m1 -2v1m1 -2v1m1 -2v1m1 -2v1m1 -2v1m1 -2v1m1 -2v1m1 -2v1m1 -2v1m1 -2v1m1 -2v1m1 -2v1m1 -2v1m1 -2v1m1 -2v1m1 -2v1m1 -2v1m1 -2v1m1 -2v1m1 -2v1m1 -2v1m1 -2v1m1 -2v1m1 -2v1m1 -2v1m1 -2v1m1 -2v1m1 -2v1m1 -2v1m1 -2v1m1 -2v1m1 -2v1m1 -2v1m1 -2v1m1 -2v1m1 -2v1m1 -2v1m1 -2v1m1 -2v1m1 -2v1m1 -2v1m1 -2v1m1 -2v1m1 -2v1m1 -2v1m1 -2v1m1 -2v1m1 -2v1m1 -2v1m1 -2v1m1 -2v1m1 -2v1m1 -2v1m1 -2v1m1 -2v1m1 -2v1m1 -2v1m1 -2v1m1 -2v1m1 -2v1m1 -2v1m1 -2v1m1 -2v1m1 -2v1m1 -2v1m1 -2v1m1 -2v1m1 -2v1m1 -2v1m1 -2v1m1 -2v1m1 -2v1m1 -2v1m1 -2v1m1 -2v1m1 -3v2m1 -3v1m1 -2v1m1 -2v1m1 -2v1m1 -2v1m1 -2v1m1 -2v1m1 -2v1m1 -2v1m1 -2v1m1 -2v1m1 -2v1m1 -2v1m1 -2v1m1 -2v1m1 -2v1m1 -2v1m1 -2v1m1 -2v1m1 -2v1m1 -2v1m1 -2v1m1 -2v1m1 -2v1m1 -2v1m1 -2v1m1 -2v1m1 -2v1m1 -2v1m1 -2v1m1 -2v1m1 -2v1m1 -2v1m1 -2v1m1 -2v1m1 -2v1m1 -2v1m1 -2v1m1 -2v1m1 -2v1m1 -2v1m1 -2v1m1 -2v1m1 -2v1m1 -2v1m1 -2v1m1 -2v1m1 -2v1m1 -2v1m1 -2v1m1 -2v1m1 -2v1m1 -2v1m1 -2v1m1 -2v1m1 -2v1m1 -2v1m1 -2v1m1 -2v1m1 -2v1m1 -2v1m1 -2v1m1 -2v1m1 -2v1m1 -2v1m1 -2v1m1 -2v1m1 -2v1m1 -2v1m1 -2v1m1 -2v1m1 -2v1m1 -2v1m1 -2v1m1 -2v1m1 -2v1m1 -2v1m1 -2v1m1 -2v1m1 -2v1m1 -2v1m1 -2v1m1 -2v1m1 -2v1m1 -2v1m1 -2v1m1 -2v1m1 -2v1m1 -2v1m1 -2v1m1 -2v1m1 -2v1m1 -2v1m1 -2v1"/>
</g>
<g clip-path="url(#pc)" stroke-width="1.0" opacity="0.5">
<line x1="76.40" y1="640.90" x2="430.13" y2="9.00" stroke="#ff0000"/>
<line x1="76.40" y1="640.90" x2="548.04" y2="9.00" stroke="#0000ff"/>
<line x1="76.40" y1="640.90" x2="783.86" y2="9.00" stroke="#ff0000"/>
<line x1="76.40" y1="640.90" x2="1137.58" y2="9.00" stroke="#0000ff"/>
<line x1="76.40" y1="640.90" x2="1491.31" y2="9.00" stroke="#0000ff"/>
<line x1="76.40" y1="640.90" x2="1784.50" y2="68.77" stroke="#0000ff"/>
<line x1="76.40" y1="640.90" x2="1784.50" y2="259.48" stroke="#0000ff"/>
<line x1="76.40" y1="640.90" x2="1784.50" y2="386.62" stroke="#0000ff"/>
<line x1="76.40" y1="640.90" x2="1784.50" y2="450.19" stroke="#0000ff"/>
<line x1="807.50" y1="577.60" x2="1089.04" y2="9.00" stroke="#ff0000"/>
<line x1="807.50" y1="577.60" x2="1182.89" y2="9.00" stroke="#0000ff"/>
<line x1="807.50" y1="577.60" x2="1370.58" y2="9.00" stroke="#ff0000"/>
<line x1="807.50" y1="577.60" x2="1652.12" y2="9.00" stroke="#0000ff"/>
<line x1="807.50" y1="577.60" x2="1784.50" y2="84.31" stroke="#0000ff"/>
<line x1="807.50" y1="577.60" x2="1784.50" y2="207.63" stroke="#0000ff"/>
<line x1="807.50" y1="577.60" x2="1784.50" y2="330.96" stroke="#0000ff"/>
<line x1="807.50" y1="577.60" x2="1784.50" y2="413.17" stroke="#0000ff"/>
<line x1="807.50" y1="577.60" x2="1784.50" y2="454.28" stroke="#0000ff"/>
</g>
<text transform="translate(441.73,22.00) scale(0.965,1)">4:1</text>
<text transform="translate(559.64,22.00) scale(0.965,1)">3:1</text>
<text transform="translate(795.46,22.00) scale(0.965,1)">2:1</text>
<text transform="translate(1149.18,22.00) scale(0.965,1)">4:3</text>
<text transform="translate(1502.91,22.00) scale(0.965,1)">1:1</text>
<text transform="translate(1777.50,65.17) scale(0.965,1)" text-anchor="end">3:4</text>
<text transform="translate(1777.50,255.88) scale(0.965,1)" text-anchor="end">1:2</text>
<text transform="translate(1777.50,383.02) scale(0.965,1)" text-anchor="end">1:3</text>
<text transform="translate(1777.50,446.59) scale(0.965,1)" text-anchor="end">1:4</text>
<text transform="translate(1100.64,22.00) scale(0.965,1)">4:1</text>
<text transform="translate(1194.49,22.00) scale(0.965,1)">3:1</text>
<text transform="translate(1382.18,22.00) scale(0.965,1)">2:1</text>
<text transform="translate(1663.72,22.00) scale(0.965,1)">4:3</text>
<text transform="translate(1777.50,80.71) scale(0.965,1)" text-anchor="end">1:1</text>
<text transform="translate(1777.50,204.03) scale(0.965,1)" text-anchor="end">3:4</text>
<text transform="translate(1777.50,327.36) scale(0.965,1)" text-anchor="end">1:2</text>
<text transform="translate(1777.50,409.57) scale(0.965,1)" text-anchor="end">1:3</text>
<text transform="translate(1777.50,450.68) scale(0.965,1)" text-anchor="end">1:4</text>
<text transform="translate(421.00,22.00) scale(0.965,1)" text-anchor="middle">91</text>
<text transform="translate(534.60,22.00) scale(0.965,1)" text-anchor="middle">121</text>
<text transform="translate(766.00,22.00) scale(0.965,1)" text-anchor="middle">182</text>
<text transform="translate(994.00,22.00) scale(0.965,1)" text-anchor="middle">242</text>
<text transform="translate(1116.00,22.00) scale(0.965,1)" text-anchor="middle">274</text>
<text transform="translate(1460.40,22.00) scale(0.965,1)" text-anchor="middle">365</text>
<text transform="translate(1153.00,22.00) scale(0.965,1)" text-anchor="middle">91</text>
<text transform="translate(1267.00,22.00) scale(0.965,1)" text-anchor="middle">121</text>
<text transform="translate(1499.00,22.00) scale(0.965,1)" text-anchor="middle">182</text>
<text transform="translate(1727.00,22.00) scale(0.965,1)" text-anchor="middle">242</text>
<text transform="translate(74.40,22.00) scale(0.965,1)" text-anchor="middle">Gann Bars Start</text>
<text transform="translate(75.20,40.00) scale(0.965,1)" text-anchor="middle">Tue 4 Jun 24</text>
<text transform="translate(806.60,22.00) scale(0.965,1)" text-anchor="middle">Gann Bars Start</text>
<text transform="translate(808.60,40.00) scale(0.965,1)" text-anchor="middle">Tue 11 Mar 25</text>
<rect x="0" y="664.5" width="1785" height="1.5" fill="#2c2290"/>
<rect x="1783.6" y="8.6" width="1.5" height="657.4" fill="#2c2290"/>
<line x1="1785.0" y1="662.5" x2="1792.5" y2="662.5" stroke="#808080" stroke-width="1"/>
<text transform="translate(1794.00,666.80) scale(0.965,1)">45500.00</text>
<line x1="1785.0" y1="658.5" x2="1787.5" y2="658.5" stroke="#999" stroke-width="1"/>
<line x1="1785.0" y1="654.5" x2="1787.5" y2="654.5" stroke="#999" stroke-width="1"/>
<line x1="1785.0" y1="650.5" x2="1787.5" y2="650.5" stroke="#999" stroke-width="1"/>
<line x1="1785.0" y1="646.5" x2="1787.5" y2="646.5" stroke="#999" stroke-width="1"/>
<line x1="1785.0" y1="642.5" x2="1792.5" y2="642.5" stroke="#808080" stroke-width="1"/>
<text transform="translate(1794.00,646.80) scale(0.965,1)">46000.00</text>
<line x1="1785.0" y1="639.5" x2="1787.5" y2="639.5" stroke="#999" stroke-width="1"/>
<line x1="1785.0" y1="635.5" x2="1787.5" y2="635.5" stroke="#999" stroke-width="1"/>
<line x1="1785.0" y1="631.5" x2="1787.5" y2="631.5" stroke="#999" stroke-width="1"/>
<line x1="1785.0" y1="627.5" x2="1787.5" y2="627.5" stroke="#999" stroke-width="1"/>
<line x1="1785.0" y1="623.5" x2="1792.5" y2="623.5" stroke="#808080" stroke-width="1"/>
<text transform="translate(1794.00,627.80) scale(0.965,1)">46500.00</text>
<line x1="1785.0" y1="619.5" x2="1787.5" y2="619.5" stroke="#999" stroke-width="1"/>
<line x1="1785.0" y1="616.5" x2="1787.5" y2="616.5" stroke="#999" stroke-width="1"/>
<line x1="1785.0" y1="612.5" x2="1787.5" y2="612.5" stroke="#999" stroke-width="1"/>
<line x1="1785.0" y1="608.5" x2="1787.5" y2="608.5" stroke="#999" stroke-width="1"/>
<line x1="1785.0" y1="604.5" x2="1792.5" y2="604.5" stroke="#808080" stroke-width="1"/>
<text transform="translate(1794.00,608.80) scale(0.965,1)">47000.00</text>
<line x1="1785.0" y1="600.5" x2="1787.5" y2="600.5" stroke="#999" stroke-width="1"/>
<line x1="1785.0" y1="596.5" x2="1787.5" y2="596.5" stroke="#999" stroke-width="1"/>
<line x1="1785.0" y1="592.5" x2="1787.5" y2="592.5" stroke="#999" stroke-width="1"/>
<line x1="1785.0" y1="589.5" x2="1787.5" y2="589.5" stroke="#999" stroke-width="1"/>
<line x1="1785.0" y1="585.5" x2="1792.5" y2="585.5" stroke="#808080" stroke-width="1"/>
<text transform="translate(1794.00,589.80) scale(0.965,1)">47500.00</text>
<line x1="1785.0" y1="581.5" x2="1787.5" y2="581.5" stroke="#999" stroke-width="1"/>
<line x1="1785.0" y1="577.5" x2="1787.5" y2="577.5" stroke="#999" stroke-width="1"/>
<line x1="1785.0" y1="573.5" x2="1787.5" y2="573.5" stroke="#999" stroke-width="1"/>
<line x1="1785.0" y1="569.5" x2="1787.5" y2="569.5" stroke="#999" stroke-width="1"/>
<line x1="1785.0" y1="565.5" x2="1792.5" y2="565.5" stroke="#808080" stroke-width="1"/>
<text transform="translate(1794.00,569.80) scale(0.965,1)">48000.00</text>
<line x1="1785.0" y1="562.5" x2="1787.5" y2="562.5" stroke="#999" stroke-width="1"/>
<line x1="1785.0" y1="558.5" x2="1787.5" y2="558.5" stroke="#999" stroke-width="1"/>
<line x1="1785.0" y1="554.5" x2="1787.5" y2="554.5" stroke="#999" stroke-width="1"/>
<line x1="1785.0" y1="550.5" x2="1787.5" y2="550.5" stroke="#999" stroke-width="1"/>
<line x1="1785.0" y1="546.5" x2="1792.5" y2="546.5" stroke="#808080" stroke-width="1"/>
<text transform="translate(1794.00,550.80) scale(0.965,1)">48500.00</text>
<line x1="1785.0" y1="542.5" x2="1787.5" y2="542.5" stroke="#999" stroke-width="1"/>
<line x1="1785.0" y1="539.5" x2="1787.5" y2="539.5" stroke="#999" stroke-width="1"/>
<line x1="1785.0" y1="535.5" x2="1787.5" y2="535.5" stroke="#999" stroke-width="1"/>
<line x1="1785.0" y1="531.5" x2="1787.5" y2="531.5" stroke="#999" stroke-width="1"/>
<line x1="1785.0" y1="527.5" x2="1792.5" y2="527.5" stroke="#808080" stroke-width="1"/>
<text transform="translate(1794.00,531.80) scale(0.965,1)">49000.00</text>
<line x1="1785.0" y1="523.5" x2="1787.5" y2="523.5" stroke="#999" stroke-width="1"/>
<line x1="1785.0" y1="519.5" x2="1787.5" y2="519.5" stroke="#999" stroke-width="1"/>
<line x1="1785.0" y1="515.5" x2="1787.5" y2="515.5" stroke="#999" stroke-width="1"/>
<line x1="1785.0" y1="512.5" x2="1787.5" y2="512.5" stroke="#999" stroke-width="1"/>
<line x1="1785.0" y1="508.5" x2="1792.5" y2="508.5" stroke="#808080" stroke-width="1"/>
<text transform="translate(1794.00,512.80) scale(0.965,1)">49500.00</text>
<line x1="1785.0" y1="504.5" x2="1787.5" y2="504.5" stroke="#999" stroke-width="1"/>
<line x1="1785.0" y1="500.5" x2="1787.5" y2="500.5" stroke="#999" stroke-width="1"/>
<line x1="1785.0" y1="496.5" x2="1787.5" y2="496.5" stroke="#999" stroke-width="1"/>
<line x1="1785.0" y1="492.5" x2="1787.5" y2="492.5" stroke="#999" stroke-width="1"/>
<line x1="1785.0" y1="489.5" x2="1792.5" y2="489.5" stroke="#808080" stroke-width="1"/>
<text transform="translate(1794.00,493.80) scale(0.965,1)">50000.00</text>
<line x1="1785.0" y1="485.5" x2="1787.5" y2="485.5" stroke="#999" stroke-width="1"/>
<line x1="1785.0" y1="481.5" x2="1787.5" y2="481.5" stroke="#999" stroke-width="1"/>
<line x1="1785.0" y1="477.5" x2="1787.5" y2="477.5" stroke="#999" stroke-width="1"/>
<line x1="1785.0" y1="473.5" x2="1787.5" y2="473.5" stroke="#999" stroke-width="1"/>
<line x1="1785.0" y1="469.5" x2="1792.5" y2="469.5" stroke="#808080" stroke-width="1"/>
<text transform="translate(1794.00,473.80) scale(0.965,1)">50500.00</text>
<line x1="1785.0" y1="465.5" x2="1787.5" y2="465.5" stroke="#999" stroke-width="1"/>
<line x1="1785.0" y1="462.5" x2="1787.5" y2="462.5" stroke="#999" stroke-width="1"/>
<line x1="1785.0" y1="458.5" x2="1787.5" y2="458.5" stroke="#999" stroke-width="1"/>
<line x1="1785.0" y1="454.5" x2="1787.5" y2="454.5" stroke="#999" stroke-width="1"/>
<line x1="1785.0" y1="450.5" x2="1792.5" y2="450.5" stroke="#808080" stroke-width="1"/>
<text transform="translate(1794.00,454.80) scale(0.965,1)">51000.00</text>
<line x1="1785.0" y1="446.5" x2="1787.5" y2="446.5" stroke="#999" stroke-width="1"/>
<line x1="1785.0" y1="442.5" x2="1787.5" y2="442.5" stroke="#999" stroke-width="1"/>
<line x1="1785.0" y1="438.5" x2="1787.5" y2="438.5" stroke="#999" stroke-width="1"/>
<line x1="1785.0" y1="435.5" x2="1787.5" y2="435.5" stroke="#999" stroke-width="1"/>
<line x1="1785.0" y1="431.5" x2="1792.5" y2="431.5" stroke="#808080" stroke-width="1"/>
<text transform="translate(1794.00,435.80) scale(0.965,1)">51500.00</text>
<line x1="1785.0" y1="427.5" x2="1787.5" y2="427.5" stroke="#999" stroke-width="1"/>
<line x1="1785.0" y1="423.5" x2="1787.5" y2="423.5" stroke="#999" stroke-width="1"/>
<line x1="1785.0" y1="419.5" x2="1787.5" y2="419.5" stroke="#999" stroke-width="1"/>
<line x1="1785.0" y1="415.5" x2="1787.5" y2="415.5" stroke="#999" stroke-width="1"/>
<line x1="1785.0" y1="412.5" x2="1792.5" y2="412.5" stroke="#808080" stroke-width="1"/>
<text transform="translate(1794.00,416.80) scale(0.965,1)">52000.00</text>
<line x1="1785.0" y1="408.5" x2="1787.5" y2="408.5" stroke="#999" stroke-width="1"/>
<line x1="1785.0" y1="404.5" x2="1787.5" y2="404.5" stroke="#999" stroke-width="1"/>
<line x1="1785.0" y1="400.5" x2="1787.5" y2="400.5" stroke="#999" stroke-width="1"/>
<line x1="1785.0" y1="396.5" x2="1787.5" y2="396.5" stroke="#999" stroke-width="1"/>
<line x1="1785.0" y1="392.5" x2="1792.5" y2="392.5" stroke="#808080" stroke-width="1"/>
<text transform="translate(1794.00,396.80) scale(0.965,1)">52500.00</text>
<line x1="1785.0" y1="388.5" x2="1787.5" y2="388.5" stroke="#999" stroke-width="1"/>
<line x1="1785.0" y1="385.5" x2="1787.5" y2="385.5" stroke="#999" stroke-width="1"/>
<line x1="1785.0" y1="381.5" x2="1787.5" y2="381.5" stroke="#999" stroke-width="1"/>
<line x1="1785.0" y1="377.5" x2="1787.5" y2="377.5" stroke="#999" stroke-width="1"/>
<line x1="1785.0" y1="373.5" x2="1792.5" y2="373.5" stroke="#808080" stroke-width="1"/>
<text transform="translate(1794.00,377.80) scale(0.965,1)">53000.00</text>
<line x1="1785.0" y1="369.5" x2="1787.5" y2="369.5" stroke="#999" stroke-width="1"/>
<line x1="1785.0" y1="365.5" x2="1787.5" y2="365.5" stroke="#999" stroke-width="1"/>
<line x1="1785.0" y1="362.5" x2="1787.5" y2="362.5" stroke="#999" stroke-width="1"/>
<line x1="1785.0" y1="358.5" x2="1787.5" y2="358.5" stroke="#999" stroke-width="1"/>
<line x1="1785.0" y1="354.5" x2="1792.5" y2="354.5" stroke="#808080" stroke-width="1"/>
<text transform="translate(1794.00,358.80) scale(0.965,1)">53500.00</text>
<line x1="1785.0" y1="350.5" x2="1787.5" y2="350.5" stroke="#999" stroke-width="1"/>
<line x1="1785.0" y1="346.5" x2="1787.5" y2="346.5" stroke="#999" stroke-width="1"/>
<line x1="1785.0" y1="342.5" x2="1787.5" y2="342.5" stroke="#999" stroke-width="1"/>
<line x1="1785.0" y1="338.5" x2="1787.5" y2="338.5" stroke="#999" stroke-width="1"/>
<line x1="1785.0" y1="335.5" x2="1792.5" y2="335.5" stroke="#808080" stroke-width="1"/>
<text transform="translate(1794.00,339.80) scale(0.965,1)">54000.00</text>
<line x1="1785.0" y1="331.5" x2="1787.5" y2="331.5" stroke="#999" stroke-width="1"/>
<line x1="1785.0" y1="327.5" x2="1787.5" y2="327.5" stroke="#999" stroke-width="1"/>
<line x1="1785.0" y1="323.5" x2="1787.5" y2="323.5" stroke="#999" stroke-width="1"/>
<line x1="1785.0" y1="319.5" x2="1787.5" y2="319.5" stroke="#999" stroke-width="1"/>
<line x1="1785.0" y1="315.5" x2="1792.5" y2="315.5" stroke="#808080" stroke-width="1"/>
<text transform="translate(1794.00,319.80) scale(0.965,1)">54500.00</text>
<line x1="1785.0" y1="311.5" x2="1787.5" y2="311.5" stroke="#999" stroke-width="1"/>
<line x1="1785.0" y1="308.5" x2="1787.5" y2="308.5" stroke="#999" stroke-width="1"/>
<line x1="1785.0" y1="304.5" x2="1787.5" y2="304.5" stroke="#999" stroke-width="1"/>
<line x1="1785.0" y1="300.5" x2="1787.5" y2="300.5" stroke="#999" stroke-width="1"/>
<line x1="1785.0" y1="296.5" x2="1792.5" y2="296.5" stroke="#808080" stroke-width="1"/>
<text transform="translate(1794.00,300.80) scale(0.965,1)">55000.00</text>
<line x1="1785.0" y1="292.5" x2="1787.5" y2="292.5" stroke="#999" stroke-width="1"/>
<line x1="1785.0" y1="288.5" x2="1787.5" y2="288.5" stroke="#999" stroke-width="1"/>
<line x1="1785.0" y1="285.5" x2="1787.5" y2="285.5" stroke="#999" stroke-width="1"/>
<line x1="1785.0" y1="281.5" x2="1787.5" y2="281.5" stroke="#999" stroke-width="1"/>
<line x1="1785.0" y1="277.5" x2="1792.5" y2="277.5" stroke="#808080" stroke-width="1"/>
<text transform="translate(1794.00,281.80) scale(0.965,1)">55500.00</text>
<line x1="1785.0" y1="273.5" x2="1787.5" y2="273.5" stroke="#999" stroke-width="1"/>
<line x1="1785.0" y1="269.5" x2="1787.5" y2="269.5" stroke="#999" stroke-width="1"/>
<line x1="1785.0" y1="265.5" x2="1787.5" y2="265.5" stroke="#999" stroke-width="1"/>
<line x1="1785.0" y1="261.5" x2="1787.5" y2="261.5" stroke="#999" stroke-width="1"/>
<line x1="1785.0" y1="258.5" x2="1792.5" y2="258.5" stroke="#808080" stroke-width="1"/>
<text transform="translate(1794.00,262.80) scale(0.965,1)">56000.00</text>
<line x1="1785.0" y1="254.5" x2="1787.5" y2="254.5" stroke="#999" stroke-width="1"/>
<line x1="1785.0" y1="250.5" x2="1787.5" y2="250.5" stroke="#999" stroke-width="1"/>
<line x1="1785.0" y1="246.5" x2="1787.5" y2="246.5" stroke="#999" stroke-width="1"/>
<line x1="1785.0" y1="242.5" x2="1787.5" y2="242.5" stroke="#999" stroke-width="1"/>
<line x1="1785.0" y1="238.5" x2="1792.5" y2="238.5" stroke="#808080" stroke-width="1"/>
<text transform="translate(1794.00,242.80) scale(0.965,1)">56500.00</text>
<line x1="1785.0" y1="235.5" x2="1787.5" y2="235.5" stroke="#999" stroke-width="1"/>
<line x1="1785.0" y1="231.5" x2="1787.5" y2="231.5" stroke="#999" stroke-width="1"/>
<line x1="1785.0" y1="227.5" x2="1787.5" y2="227.5" stroke="#999" stroke-width="1"/>
<line x1="1785.0" y1="223.5" x2="1787.5" y2="223.5" stroke="#999" stroke-width="1"/>
<line x1="1785.0" y1="219.5" x2="1792.5" y2="219.5" stroke="#808080" stroke-width="1"/>
<text transform="translate(1794.00,223.80) scale(0.965,1)">57000.00</text>
<line x1="1785.0" y1="215.5" x2="1787.5" y2="215.5" stroke="#999" stroke-width="1"/>
<line x1="1785.0" y1="211.5" x2="1787.5" y2="211.5" stroke="#999" stroke-width="1"/>
<line x1="1785.0" y1="208.5" x2="1787.5" y2="208.5" stroke="#999" stroke-width="1"/>
<line x1="1785.0" y1="204.5" x2="1787.5" y2="204.5" stroke="#999" stroke-width="1"/>
<line x1="1785.0" y1="200.5" x2="1792.5" y2="200.5" stroke="#808080" stroke-width="1"/>
<text transform="translate(1794.00,204.80) scale(0.965,1)">57500.00</text>
<line x1="1785.0" y1="196.5" x2="1787.5" y2="196.5" stroke="#999" stroke-width="1"/>
<line x1="1785.0" y1="192.5" x2="1787.5" y2="192.5" stroke="#999" stroke-width="1"/>
<line x1="1785.0" y1="188.5" x2="1787.5" y2="188.5" stroke="#999" stroke-width="1"/>
<line x1="1785.0" y1="184.5" x2="1787.5" y2="184.5" stroke="#999" stroke-width="1"/>
<line x1="1785.0" y1="181.5" x2="1792.5" y2="181.5" stroke="#808080" stroke-width="1"/>
<text transform="translate(1794.00,185.80) scale(0.965,1)">58000.00</text>
<line x1="1785.0" y1="177.5" x2="1787.5" y2="177.5" stroke="#999" stroke-width="1"/>
<line x1="1785.0" y1="173.5" x2="1787.5" y2="173.5" stroke="#999" stroke-width="1"/>
<line x1="1785.0" y1="169.5" x2="1787.5" y2="169.5" stroke="#999" stroke-width="1"/>
<line x1="1785.0" y1="165.5" x2="1787.5" y2="165.5" stroke="#999" stroke-width="1"/>
<line x1="1785.0" y1="161.5" x2="1792.5" y2="161.5" stroke="#808080" stroke-width="1"/>
<text transform="translate(1794.00,165.80) scale(0.965,1)">58500.00</text>
<line x1="1785.0" y1="158.5" x2="1787.5" y2="158.5" stroke="#999" stroke-width="1"/>
<line x1="1785.0" y1="154.5" x2="1787.5" y2="154.5" stroke="#999" stroke-width="1"/>
<line x1="1785.0" y1="150.5" x2="1787.5" y2="150.5" stroke="#999" stroke-width="1"/>
<line x1="1785.0" y1="146.5" x2="1787.5" y2="146.5" stroke="#999" stroke-width="1"/>
<line x1="1785.0" y1="142.5" x2="1792.5" y2="142.5" stroke="#808080" stroke-width="1"/>
<text transform="translate(1794.00,146.80) scale(0.965,1)">59000.00</text>
<line x1="1785.0" y1="138.5" x2="1787.5" y2="138.5" stroke="#999" stroke-width="1"/>
<line x1="1785.0" y1="134.5" x2="1787.5" y2="134.5" stroke="#999" stroke-width="1"/>
<line x1="1785.0" y1="131.5" x2="1787.5" y2="131.5" stroke="#999" stroke-width="1"/>
<line x1="1785.0" y1="127.5" x2="1787.5" y2="127.5" stroke="#999" stroke-width="1"/>
<line x1="1785.0" y1="123.5" x2="1792.5" y2="123.5" stroke="#808080" stroke-width="1"/>
<text transform="translate(1794.00,127.80) scale(0.965,1)">59500.00</text>
<line x1="1785.0" y1="119.5" x2="1787.5" y2="119.5" stroke="#999" stroke-width="1"/>
<line x1="1785.0" y1="115.5" x2="1787.5" y2="115.5" stroke="#999" stroke-width="1"/>
<line x1="1785.0" y1="111.5" x2="1787.5" y2="111.5" stroke="#999" stroke-width="1"/>
<line x1="1785.0" y1="108.5" x2="1787.5" y2="108.5" stroke="#999" stroke-width="1"/>
<line x1="1785.0" y1="104.5" x2="1792.5" y2="104.5" stroke="#808080" stroke-width="1"/>
<text transform="translate(1794.00,108.80) scale(0.965,1)">60000.00</text>
<line x1="1785.0" y1="100.5" x2="1787.5" y2="100.5" stroke="#999" stroke-width="1"/>
<line x1="1785.0" y1="96.5" x2="1787.5" y2="96.5" stroke="#999" stroke-width="1"/>
<line x1="1785.0" y1="92.5" x2="1787.5" y2="92.5" stroke="#999" stroke-width="1"/>
<line x1="1785.0" y1="88.5" x2="1787.5" y2="88.5" stroke="#999" stroke-width="1"/>
<line x1="1785.0" y1="84.5" x2="1792.5" y2="84.5" stroke="#808080" stroke-width="1"/>
<text transform="translate(1794.00,88.80) scale(0.965,1)">60500.00</text>
<line x1="1785.0" y1="81.5" x2="1787.5" y2="81.5" stroke="#999" stroke-width="1"/>
<line x1="1785.0" y1="77.5" x2="1787.5" y2="77.5" stroke="#999" stroke-width="1"/>
<line x1="1785.0" y1="73.5" x2="1787.5" y2="73.5" stroke="#999" stroke-width="1"/>
<line x1="1785.0" y1="69.5" x2="1787.5" y2="69.5" stroke="#999" stroke-width="1"/>
<line x1="1785.0" y1="65.5" x2="1792.5" y2="65.5" stroke="#808080" stroke-width="1"/>
<text transform="translate(1794.00,69.80) scale(0.965,1)">61000.00</text>
<line x1="1785.0" y1="61.5" x2="1787.5" y2="61.5" stroke="#999" stroke-width="1"/>
<line x1="1785.0" y1="57.5" x2="1787.5" y2="57.5" stroke="#999" stroke-width="1"/>
<line x1="1785.0" y1="54.5" x2="1787.5" y2="54.5" stroke="#999" stroke-width="1"/>
<line x1="1785.0" y1="50.5" x2="1787.5" y2="50.5" stroke="#999" stroke-width="1"/>
<line x1="1785.0" y1="46.5" x2="1792.5" y2="46.5" stroke="#808080" stroke-width="1"/>
<text transform="translate(1794.00,50.80) scale(0.965,1)">61500.00</text>
<line x1="1785.0" y1="42.5" x2="1787.5" y2="42.5" stroke="#999" stroke-width="1"/>
<line x1="1785.0" y1="38.5" x2="1787.5" y2="38.5" stroke="#999" stroke-width="1"/>
<line x1="1785.0" y1="34.5" x2="1787.5" y2="34.5" stroke="#999" stroke-width="1"/>
<line x1="1785.0" y1="31.5" x2="1787.5" y2="31.5" stroke="#999" stroke-width="1"/>
<line x1="1785.0" y1="27.5" x2="1792.5" y2="27.5" stroke="#808080" stroke-width="1"/>
<text transform="translate(1794.00,31.80) scale(0.965,1)">62000.00</text>
<line x1="1785.0" y1="23.5" x2="1787.5" y2="23.5" stroke="#999" stroke-width="1"/>
<line x1="1785.0" y1="19.5" x2="1787.5" y2="19.5" stroke="#999" stroke-width="1"/>
<line x1="1785.0" y1="15.5" x2="1787.5" y2="15.5" stroke="#999" stroke-width="1"/>
<line x1="1785.0" y1="11.5" x2="1787.5" y2="11.5" stroke="#999" stroke-width="1"/>
<line x1="0.5" y1="666" x2="0.5" y2="668" stroke="#999" stroke-width="1"/>
<line x1="19.5" y1="666" x2="19.5" y2="668" stroke="#999" stroke-width="1"/>
<line x1="38.5" y1="666" x2="38.5" y2="668" stroke="#999" stroke-width="1"/>
<line x1="57.5" y1="666" x2="57.5" y2="671" stroke="#999" stroke-width="1"/>
<text transform="translate(56.60,686.00) scale(0.965,1)" text-anchor="middle">28-05-2024</text>
<line x1="75.5" y1="666" x2="75.5" y2="668" stroke="#999" stroke-width="1"/>
<line x1="94.5" y1="666" x2="94.5" y2="668" stroke="#999" stroke-width="1"/>
<line x1="113.5" y1="666" x2="113.5" y2="668" stroke="#999" stroke-width="1"/>
<line x1="132.5" y1="666" x2="132.5" y2="668" stroke="#999" stroke-width="1"/>
<line x1="151.5" y1="666" x2="151.5" y2="671" stroke="#999" stroke-width="1"/>
<text transform="translate(151.49,686.00) scale(0.965,1)" text-anchor="middle">03-07-2024</text>
<line x1="170.5" y1="666" x2="170.5" y2="668" stroke="#999" stroke-width="1"/>
<line x1="189.5" y1="666" x2="189.5" y2="668" stroke="#999" stroke-width="1"/>
<line x1="208.5" y1="666" x2="208.5" y2="668" stroke="#999" stroke-width="1"/>
<line x1="227.5" y1="666" x2="227.5" y2="668" stroke="#999" stroke-width="1"/>
<line x1="246.5" y1="666" x2="246.5" y2="671" stroke="#999" stroke-width="1"/>
<text transform="translate(246.37,686.00) scale(0.965,1)" text-anchor="middle">08-08-2024</text>
<line x1="265.5" y1="666" x2="265.5" y2="668" stroke="#999" stroke-width="1"/>
<line x1="284.5" y1="666" x2="284.5" y2="668" stroke="#999" stroke-width="1"/>
<line x1="303.5" y1="666" x2="303.5" y2="668" stroke="#999" stroke-width="1"/>
<line x1="322.5" y1="666" x2="322.5" y2="668" stroke="#999" stroke-width="1"/>
<line x1="341.5" y1="666" x2="341.5" y2="671" stroke="#999" stroke-width="1"/>
<text transform="translate(341.26,686.00) scale(0.965,1)" text-anchor="middle">13-09-2024</text>
<line x1="360.5" y1="666" x2="360.5" y2="668" stroke="#999" stroke-width="1"/>
<line x1="379.5" y1="666" x2="379.5" y2="668" stroke="#999" stroke-width="1"/>
<line x1="398.5" y1="666" x2="398.5" y2="668" stroke="#999" stroke-width="1"/>
<line x1="417.5" y1="666" x2="417.5" y2="668" stroke="#999" stroke-width="1"/>
<line x1="436.5" y1="666" x2="436.5" y2="671" stroke="#999" stroke-width="1"/>
<text transform="translate(436.14,686.00) scale(0.965,1)" text-anchor="middle">21-10-2024</text>
<line x1="455.5" y1="666" x2="455.5" y2="668" stroke="#999" stroke-width="1"/>
<line x1="474.5" y1="666" x2="474.5" y2="668" stroke="#999" stroke-width="1"/>
<line x1="493.5" y1="666" x2="493.5" y2="668" stroke="#999" stroke-width="1"/>
<line x1="512.5" y1="666" x2="512.5" y2="668" stroke="#999" stroke-width="1"/>
<line x1="531.5" y1="666" x2="531.5" y2="671" stroke="#999" stroke-width="1"/>
<text transform="translate(531.02,686.00) scale(0.965,1)" text-anchor="middle">27-11-2024</text>
<line x1="550.5" y1="666" x2="550.5" y2="668" stroke="#999" stroke-width="1"/>
<line x1="569.5" y1="666" x2="569.5" y2="668" stroke="#999" stroke-width="1"/>
<line x1="588.5" y1="666" x2="588.5" y2="668" stroke="#999" stroke-width="1"/>
<line x1="607.5" y1="666" x2="607.5" y2="668" stroke="#999" stroke-width="1"/>
<line x1="626.5" y1="666" x2="626.5" y2="671" stroke="#999" stroke-width="1"/>
<text transform="translate(625.91,686.00) scale(0.965,1)" text-anchor="middle">02-01-2025</text>
<line x1="645.5" y1="666" x2="645.5" y2="668" stroke="#999" stroke-width="1"/>
<line x1="664.5" y1="666" x2="664.5" y2="668" stroke="#999" stroke-width="1"/>
<line x1="683.5" y1="666" x2="683.5" y2="668" stroke="#999" stroke-width="1"/>
<line x1="702.5" y1="666" x2="702.5" y2="668" stroke="#999" stroke-width="1"/>
<line x1="721.5" y1="666" x2="721.5" y2="671" stroke="#999" stroke-width="1"/>
<text transform="translate(720.80,686.00) scale(0.965,1)" text-anchor="middle">05-02-2025</text>
<line x1="740.5" y1="666" x2="740.5" y2="668" stroke="#999" stroke-width="1"/>
<line x1="759.5" y1="666" x2="759.5" y2="668" stroke="#999" stroke-width="1"/>
<line x1="778.5" y1="666" x2="778.5" y2="668" stroke="#999" stroke-width="1"/>
<line x1="797.5" y1="666" x2="797.5" y2="668" stroke="#999" stroke-width="1"/>
<line x1="816.5" y1="666" x2="816.5" y2="671" stroke="#999" stroke-width="1"/>
<text transform="translate(815.68,686.00) scale(0.965,1)" text-anchor="middle">13-03-2025</text>
<line x1="835.5" y1="666" x2="835.5" y2="668" stroke="#999" stroke-width="1"/>
<line x1="854.5" y1="666" x2="854.5" y2="668" stroke="#999" stroke-width="1"/>
<line x1="873.5" y1="666" x2="873.5" y2="668" stroke="#999" stroke-width="1"/>
<line x1="892.5" y1="666" x2="892.5" y2="668" stroke="#999" stroke-width="1"/>
<line x1="911.5" y1="666" x2="911.5" y2="671" stroke="#999" stroke-width="1"/>
<text transform="translate(910.57,686.00) scale(0.965,1)" text-anchor="middle">24-04-2025</text>
<line x1="930.5" y1="666" x2="930.5" y2="668" stroke="#999" stroke-width="1"/>
<line x1="949.5" y1="666" x2="949.5" y2="668" stroke="#999" stroke-width="1"/>
<line x1="968.5" y1="666" x2="968.5" y2="668" stroke="#999" stroke-width="1"/>
<line x1="987.5" y1="666" x2="987.5" y2="668" stroke="#999" stroke-width="1"/>
<line x1="1006.5" y1="666" x2="1006.5" y2="671" stroke="#999" stroke-width="1"/>
<text transform="translate(1005.45,686.00) scale(0.965,1)" text-anchor="middle">30-05-2025</text>
<line x1="1025.5" y1="666" x2="1025.5" y2="668" stroke="#999" stroke-width="1"/>
<line x1="1044.5" y1="666" x2="1044.5" y2="668" stroke="#999" stroke-width="1"/>
<line x1="1062.5" y1="666" x2="1062.5" y2="668" stroke="#999" stroke-width="1"/>
<line x1="1081.5" y1="666" x2="1081.5" y2="668" stroke="#999" stroke-width="1"/>
<line x1="1100.5" y1="666" x2="1100.5" y2="671" stroke="#999" stroke-width="1"/>
<text transform="translate(1100.34,686.00) scale(0.965,1)" text-anchor="middle">04-07-2025</text>
<line x1="1119.5" y1="666" x2="1119.5" y2="668" stroke="#999" stroke-width="1"/>
<line x1="1138.5" y1="666" x2="1138.5" y2="668" stroke="#999" stroke-width="1"/>
<line x1="1157.5" y1="666" x2="1157.5" y2="668" stroke="#999" stroke-width="1"/>
<line x1="1176.5" y1="666" x2="1176.5" y2="668" stroke="#999" stroke-width="1"/>
<line x1="1195.5" y1="666" x2="1195.5" y2="671" stroke="#999" stroke-width="1"/>
<text transform="translate(1195.22,686.00) scale(0.965,1)" text-anchor="middle">08-08-2025</text>
<line x1="1214.5" y1="666" x2="1214.5" y2="668" stroke="#999" stroke-width="1"/>
<line x1="1233.5" y1="666" x2="1233.5" y2="668" stroke="#999" stroke-width="1"/>
<line x1="1252.5" y1="666" x2="1252.5" y2="668" stroke="#999" stroke-width="1"/>
<line x1="1271.5" y1="666" x2="1271.5" y2="668" stroke="#999" stroke-width="1"/>
<line x1="1290.5" y1="666" x2="1290.5" y2="671" stroke="#999" stroke-width="1"/>
<text transform="translate(1290.11,686.00) scale(0.965,1)" text-anchor="middle">16-09-2025</text>
<line x1="1309.5" y1="666" x2="1309.5" y2="668" stroke="#999" stroke-width="1"/>
<line x1="1328.5" y1="666" x2="1328.5" y2="668" stroke="#999" stroke-width="1"/>
<line x1="1347.5" y1="666" x2="1347.5" y2="668" stroke="#999" stroke-width="1"/>
<line x1="1366.5" y1="666" x2="1366.5" y2="668" stroke="#999" stroke-width="1"/>
<line x1="1385.5" y1="666" x2="1385.5" y2="671" stroke="#999" stroke-width="1"/>
<text transform="translate(1384.99,686.00) scale(0.965,1)" text-anchor="middle">23-10-2025</text>
<line x1="1404.5" y1="666" x2="1404.5" y2="668" stroke="#999" stroke-width="1"/>
<line x1="1423.5" y1="666" x2="1423.5" y2="668" stroke="#999" stroke-width="1"/>
<line x1="1442.5" y1="666" x2="1442.5" y2="668" stroke="#999" stroke-width="1"/>
<line x1="1461.5" y1="666" x2="1461.5" y2="668" stroke="#999" stroke-width="1"/>
<line x1="1480.5" y1="666" x2="1480.5" y2="671" stroke="#999" stroke-width="1"/>
<text transform="translate(1479.88,686.00) scale(0.965,1)" text-anchor="middle">27-11-2025</text>
<line x1="1499.5" y1="666" x2="1499.5" y2="668" stroke="#999" stroke-width="1"/>
<line x1="1518.5" y1="666" x2="1518.5" y2="668" stroke="#999" stroke-width="1"/>
<line x1="1537.5" y1="666" x2="1537.5" y2="668" stroke="#999" stroke-width="1"/>
<line x1="1556.5" y1="666" x2="1556.5" y2="668" stroke="#999" stroke-width="1"/>
<line x1="1575.5" y1="666" x2="1575.5" y2="671" stroke="#999" stroke-width="1"/>
<text transform="translate(1574.76,686.00) scale(0.965,1)" text-anchor="middle">01-01-2026</text>
<line x1="1594.5" y1="666" x2="1594.5" y2="668" stroke="#999" stroke-width="1"/>
<line x1="1613.5" y1="666" x2="1613.5" y2="668" stroke="#999" stroke-width="1"/>
<line x1="1632.5" y1="666" x2="1632.5" y2="668" stroke="#999" stroke-width="1"/>
<line x1="1651.5" y1="666" x2="1651.5" y2="668" stroke="#999" stroke-width="1"/>
<line x1="1670.5" y1="666" x2="1670.5" y2="671" stroke="#999" stroke-width="1"/>
<text transform="translate(1669.64,686.00) scale(0.965,1)" text-anchor="middle">05-02-2026</text>
<line x1="1689.5" y1="666" x2="1689.5" y2="668" stroke="#999" stroke-width="1"/>
<line x1="1708.5" y1="666" x2="1708.5" y2="668" stroke="#999" stroke-width="1"/>
<line x1="1727.5" y1="666" x2="1727.5" y2="668" stroke="#999" stroke-width="1"/>
<line x1="1746.5" y1="666" x2="1746.5" y2="668" stroke="#999" stroke-width="1"/>
<line x1="1765.5" y1="666" x2="1765.5" y2="671" stroke="#999" stroke-width="1"/>
<text transform="translate(1764.53,686.00) scale(0.965,1)" text-anchor="middle">12-03-2026</text>
<rect x="1721" y="692" width="11" height="1" fill="#111"/>
</svg>
</body></html>
